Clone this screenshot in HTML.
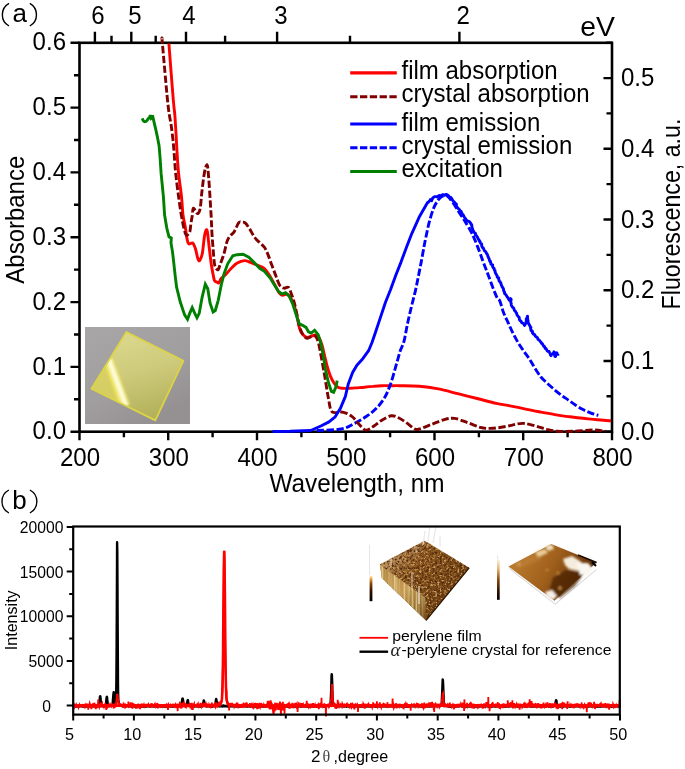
<!DOCTYPE html>
<html><head><meta charset="utf-8"><style>
html,body{margin:0;padding:0;background:#fff;}
svg{display:block;will-change:transform;}
text{font-family:"Liberation Sans",sans-serif;fill:#000;}
.t24{font-size:24px;}
.t16{font-size:16px;}
.t15{font-size:15px;}
</style></head><body>
<svg width="685" height="769" viewBox="0 0 685 769">
<defs>
<linearGradient id="gbg" x1="0" y1="0" x2="0.6" y2="1">
<stop offset="0" stop-color="#a9a6a8"/><stop offset="0.6" stop-color="#a19ea0"/><stop offset="1" stop-color="#959193"/></linearGradient>
<linearGradient id="gyel" x1="0.3" y1="0" x2="0.6" y2="1">
<stop offset="0" stop-color="#dcd88e"/><stop offset="0.45" stop-color="#cfcb7c"/><stop offset="1" stop-color="#b2b05a"/></linearGradient>
<linearGradient id="ghl" gradientUnits="userSpaceOnUse" x1="104.5" y1="363" x2="114" y2="359.5">
<stop offset="0" stop-color="#e6dc50"/><stop offset="0.35" stop-color="#fbf6b0"/><stop offset="0.55" stop-color="#ffffff"/><stop offset="0.8" stop-color="#f6ee80"/><stop offset="1" stop-color="#d8d060" stop-opacity="0.3"/></linearGradient>
<linearGradient id="cb1" x1="0" y1="0" x2="0" y2="1">
<stop offset="0" stop-color="#fff0c8"/><stop offset="0.12" stop-color="#e8a048"/><stop offset="0.3" stop-color="#8a4a10"/><stop offset="0.6" stop-color="#301000"/><stop offset="1" stop-color="#000"/></linearGradient>
<linearGradient id="cb2" x1="0" y1="0" x2="0" y2="1">
<stop offset="0" stop-color="#fbf2dc"/><stop offset="0.25" stop-color="#e0b070"/><stop offset="0.5" stop-color="#8a4a12"/><stop offset="0.8" stop-color="#2a1000"/><stop offset="1" stop-color="#000"/></linearGradient>
<linearGradient id="afm2g" gradientUnits="userSpaceOnUse" x1="520" y1="555" x2="585" y2="590">
<stop offset="0" stop-color="#b8782c"/><stop offset="0.45" stop-color="#a0601c"/><stop offset="0.75" stop-color="#7a4210"/><stop offset="1" stop-color="#4a2606"/></linearGradient>
<linearGradient id="wallg" gradientUnits="userSpaceOnUse" x1="380" y1="570" x2="425" y2="615">
<stop offset="0" stop-color="#b58a48"/><stop offset="0.5" stop-color="#c49a55"/><stop offset="1" stop-color="#7a5220"/></linearGradient>
<filter id="lite" x="0" y="0" width="100%" height="100%" color-interpolation-filters="sRGB">
<feTurbulence type="fractalNoise" baseFrequency="0.45" numOctaves="3" seed="5"/>
<feColorMatrix type="matrix" values="0 0 0 0 0.80  0 0 0 0 0.62  0 0 0 0 0.36  4.2 0 0 0 -2.2"/>
<feComposite in2="SourceGraphic" operator="in"/>
</filter>
<filter id="dark" x="0" y="0" width="100%" height="100%" color-interpolation-filters="sRGB">
<feTurbulence type="fractalNoise" baseFrequency="0.4" numOctaves="3" seed="9"/>
<feColorMatrix type="matrix" values="0 0 0 0 0.33  0 0 0 0 0.17  0 0 0 0 0.04  4.0 0 0 0 -1.8"/>
<feComposite in2="SourceGraphic" operator="in"/>
</filter>
<filter id="streak" x="0" y="0" width="100%" height="100%" color-interpolation-filters="sRGB">
<feTurbulence type="fractalNoise" baseFrequency="0.5 0.01" numOctaves="2" seed="4"/>
<feColorMatrix type="matrix" values="0 0 0 0 0.93  0 0 0 0 0.85  0 0 0 0 0.6  2.6 0 0 0 -1.1"/>
<feComposite in2="SourceGraphic" operator="in"/>
</filter>
<linearGradient id="top1" gradientUnits="userSpaceOnUse" x1="395" y1="550" x2="450" y2="600">
<stop offset="0" stop-color="#b89060"/><stop offset="0.35" stop-color="#8a5620"/><stop offset="1" stop-color="#6e4014"/></linearGradient>
<filter id="blur1"><feGaussianBlur stdDeviation="1"/></filter>
<filter id="blur2"><feGaussianBlur stdDeviation="1.1"/></filter>
</defs>
<clipPath id="sqclip"><path d="M126.4,332 L183.4,360.8 L155.3,420.4 L91.4,388.8 Z"/></clipPath>
<rect x="85" y="327" width="105" height="97" fill="url(#gbg)"/>
<path d="M126.4,332 L183.4,360.8 L155.3,420.4 L91.4,388.8 Z" fill="url(#gyel)"/>
<g clip-path="url(#sqclip)">
<path d="M91.4,388.8 L108,362 L124,407 Z" fill="#d8d060" opacity="0.8" filter="url(#blur1)"/>
<path d="M103.5,362.5 L114,356.5 L131,404 L120,409.5 Z" fill="url(#ghl)" filter="url(#blur1)"/>
</g>
<path d="M126.4,332 L183.4,360.8 L155.3,420.4 L91.4,388.8 Z" fill="none" stroke="#dcd444" stroke-width="1.8" stroke-linejoin="round"/>

<g stroke="#000" stroke-width="2.6" fill="none" stroke-linecap="square">
<rect x="79.5" y="42.8" width="532.5" height="388.9"/>
</g>
<path d="M79.5,431.7 V440.2 M168.2,431.7 V440.2 M257.0,431.7 V440.2 M345.8,431.7 V440.2 M434.5,431.7 V440.2 M523.2,431.7 V440.2 M612.0,431.7 V440.2 M123.9,431.7 V437.2 M212.6,431.7 V437.2 M301.4,431.7 V437.2 M390.1,431.7 V437.2 M478.9,431.7 V437.2 M567.6,431.7 V437.2 M79.5,431.7 H70.5 M79.5,366.9 H70.5 M79.5,302.1 H70.5 M79.5,237.2 H70.5 M79.5,172.4 H70.5 M79.5,107.6 H70.5 M79.5,42.8 H70.5 M79.5,399.3 H74.0 M79.5,334.5 H74.0 M79.5,269.6 H74.0 M79.5,204.8 H74.0 M79.5,140.0 H74.0 M79.5,75.2 H74.0 M612.0,431.7 H603.5 M612.0,361.0 H603.5 M612.0,290.2 H603.5 M612.0,219.5 H603.5 M612.0,148.8 H603.5 M612.0,78.1 H603.5 M612.0,396.3 H606.5 M612.0,325.6 H606.5 M612.0,254.9 H606.5 M612.0,184.1 H606.5 M612.0,113.4 H606.5 M612.0,42.7 H606.5 M94.9,42.8 V31.799999999999997 M131.3,42.8 V31.799999999999997 M186.0,42.8 V31.799999999999997 M277.1,42.8 V31.799999999999997 M459.4,42.8 V31.799999999999997 M111.5,42.8 V35.8 M155.7,42.8 V35.8 M225.1,42.8 V35.8 M350.0,42.8 V35.8" stroke="#000" stroke-width="2.4" fill="none"/>
<path d="M168.9,43.5 C169.6,52.9 172.3,88.2 173.3,100.0 C174.3,111.8 174.3,108.5 174.8,114.6 C175.3,120.7 175.8,130.6 176.2,136.5 C176.5,142.4 176.5,143.8 176.9,150.0 C177.3,156.2 177.8,165.6 178.6,173.4 C179.4,181.2 180.8,189.8 181.5,196.7 C182.2,203.6 182.4,210.1 183.0,215.0 C183.6,219.9 184.5,222.5 185.2,226.4 C185.9,230.3 186.4,235.7 187.0,238.6 C187.6,241.5 187.8,243.2 188.7,243.9 C189.6,244.6 191.6,242.3 192.7,243.0 C193.8,243.7 194.4,245.7 195.3,248.3 C196.2,250.9 197.2,256.8 197.9,258.8 C198.6,260.8 199.0,261.4 199.7,260.5 C200.4,259.6 201.5,257.6 202.3,253.5 C203.1,249.4 203.8,239.9 204.5,236.0 C205.2,232.1 205.7,230.5 206.2,229.9 C206.7,229.3 207.0,229.4 207.5,232.5 C208.0,235.6 208.6,242.8 209.3,248.3 C210.0,253.9 210.8,261.4 211.5,265.8 C212.2,270.2 212.7,272.5 213.2,275.0 C213.7,277.5 213.9,279.4 214.5,280.6 C215.1,281.8 216.0,281.6 216.7,282.0 C217.4,282.4 218.2,283.4 218.9,282.8 C219.6,282.2 220.0,279.8 221.1,278.4 C222.2,277.0 223.8,276.4 225.5,274.7 C227.2,273.0 229.4,270.1 231.3,268.2 C233.2,266.3 235.0,264.4 237.2,263.1 C239.4,261.8 242.3,260.7 244.5,260.6 C246.7,260.5 248.1,261.5 250.3,262.3 C252.5,263.1 255.3,264.3 257.6,265.3 C260.0,266.3 262.3,266.6 264.4,268.5 C266.5,270.4 268.5,273.8 270.2,276.5 C271.9,279.2 273.1,281.8 274.6,284.5 C276.1,287.2 277.7,290.8 279.0,292.6 C280.3,294.4 281.3,295.0 282.6,295.2 C283.9,295.4 285.6,293.6 287.0,294.0 C288.4,294.4 289.5,295.8 290.7,297.7 C291.9,299.6 293.2,302.4 294.3,305.7 C295.4,309.0 296.3,313.6 297.2,317.4 C298.1,321.2 298.7,325.7 299.6,328.5 C300.5,331.3 301.4,332.9 302.6,334.4 C303.8,335.9 305.5,337.0 307.0,337.3 C308.5,337.6 310.0,336.6 311.4,336.2 C312.8,335.8 314.1,334.8 315.4,335.0 C316.7,335.2 317.9,335.9 319.0,337.5 C320.1,339.1 320.9,341.6 321.9,344.8 C322.9,348.0 323.8,352.6 324.8,356.5 C325.8,360.4 326.7,364.8 327.7,368.2 C328.7,371.6 329.6,374.3 330.7,376.9 C331.8,379.4 333.1,381.8 334.3,383.5 C335.5,385.2 336.7,386.4 338.0,387.2 C339.3,388.0 340.6,388.1 342.3,388.3 C344.0,388.5 346.0,388.4 348.2,388.3 C350.4,388.2 352.8,388.1 355.5,387.9 C358.2,387.7 361.3,387.4 364.2,387.2 C367.1,386.9 370.1,386.6 373.0,386.4 C375.9,386.1 378.9,385.8 381.8,385.7 C384.7,385.6 387.5,385.7 390.5,385.7 C393.5,385.7 395.2,385.6 400.0,385.7 C404.8,385.8 412.9,385.8 419.3,386.3 C425.7,386.8 432.1,387.7 438.5,388.9 C444.9,390.1 451.4,392.1 457.8,393.7 C464.2,395.3 470.7,396.9 477.1,398.5 C483.5,400.1 490.8,402.2 496.3,403.4 C501.8,404.6 505.3,404.9 510.0,405.8 C514.7,406.7 519.7,407.8 524.6,408.8 C529.5,409.8 534.3,410.9 539.2,411.8 C544.1,412.7 548.9,413.6 553.8,414.4 C558.7,415.2 563.5,416.0 568.4,416.6 C573.3,417.2 578.1,417.8 583.0,418.3 C587.9,418.8 592.9,419.4 597.6,419.8 C602.3,420.2 608.8,420.6 611.0,420.8" stroke="#ff0000" stroke-width="2.9" fill="none" stroke-linejoin="round"/>
<path d="M316.8,430.5 C320.9,430.2 335.2,430.1 341.3,429.0 C347.4,427.9 349.5,425.9 353.6,423.9 C357.7,421.9 362.1,419.4 365.8,416.8 C369.6,414.2 373.0,411.8 376.1,408.6 C379.2,405.4 382.1,401.9 384.5,397.8 C386.9,393.7 388.8,388.9 390.5,384.2 C392.2,379.5 393.7,373.7 394.9,369.6 C396.1,365.5 396.9,362.4 397.8,359.4 C398.7,356.4 399.2,353.6 400.0,351.4 C400.8,349.2 401.6,347.9 402.3,346.0 C403.0,344.1 403.4,343.9 404.3,340.1 C405.2,336.3 406.4,328.9 407.6,323.3 C408.8,317.7 410.2,311.8 411.5,306.4 C412.8,301.0 414.2,296.0 415.4,290.8 C416.6,285.6 417.6,280.0 418.6,275.2 C419.6,270.4 420.3,266.7 421.2,262.1 C422.1,257.5 423.1,251.6 423.8,247.8 C424.5,244.0 424.6,243.3 425.5,239.1 C426.4,234.9 427.8,227.8 429.1,222.7 C430.5,217.5 432.1,212.0 433.6,208.2 C435.1,204.4 436.9,201.9 438.2,200.0 C439.5,198.1 440.3,197.5 441.5,196.8 C442.7,196.1 444.2,195.6 445.4,195.6 C446.6,195.6 447.6,196.3 448.5,197.0 C449.4,197.7 449.6,198.2 450.6,199.5 C451.6,200.8 453.2,203.1 454.5,205.0 C455.8,206.9 457.1,209.2 458.4,211.2 C459.6,213.2 460.8,215.0 462.0,216.8 C463.2,218.7 463.9,219.6 465.5,222.3 C467.1,225.0 469.8,229.3 471.8,233.2 C473.8,237.1 475.5,241.3 477.3,245.9 C479.1,250.5 480.9,255.7 482.7,260.5 C484.5,265.4 486.4,270.2 488.2,275.0 C490.0,279.8 492.1,285.8 493.6,289.5 C495.1,293.2 495.9,295.5 497.0,297.5 C498.1,299.5 498.9,298.8 500.0,301.3 C501.1,303.9 502.2,309.2 503.6,312.8 C505.0,316.4 506.7,319.5 508.2,322.8 C509.7,326.1 511.1,329.5 512.8,332.8 C514.5,336.1 516.4,339.8 518.2,342.8 C520.0,345.8 521.9,348.4 523.7,351.0 C525.5,353.6 527.2,355.7 529.1,358.5 C531.0,361.3 532.9,365.0 534.8,368.0 C536.7,371.0 538.8,374.3 540.7,376.7 C542.7,379.1 544.3,380.5 546.5,382.6 C548.7,384.7 551.4,387.0 553.8,389.1 C556.2,391.2 558.7,393.2 561.1,395.0 C563.5,396.8 566.0,398.4 568.4,400.1 C570.8,401.8 573.3,403.6 575.7,405.2 C578.1,406.8 580.6,408.3 583.0,409.6 C585.4,410.9 587.8,411.9 590.3,412.9 C592.8,413.9 597.0,415.0 598.3,415.4" stroke="#0000ff" stroke-width="2.9" fill="none" stroke-dasharray="7.3,2.5"/>
<path d="M162.1,39.6 C162.2,40.2 161.5,33.4 162.4,43.5 C163.3,53.6 166.3,88.2 167.5,100.0 C168.7,111.8 168.7,110.5 169.3,114.6 C169.9,118.7 170.6,121.1 171.1,124.8 C171.6,128.4 172.1,132.3 172.6,136.5 C173.1,140.7 173.4,143.8 173.9,150.0 C174.4,156.2 174.9,165.6 175.7,173.4 C176.5,181.2 177.7,189.8 178.6,196.7 C179.5,203.6 180.4,209.8 181.3,215.0 C182.2,220.2 183.1,224.8 183.9,228.1 C184.7,231.4 185.2,234.4 186.1,235.1 C187.0,235.8 188.8,234.4 189.6,232.5 C190.4,230.6 190.5,226.6 190.9,223.8 C191.3,221.0 191.8,218.5 192.2,215.9 C192.6,213.3 192.6,209.3 193.2,208.4 C193.8,207.5 194.7,209.8 195.5,210.7 C196.3,211.6 197.1,214.0 197.9,213.6 C198.7,213.2 199.5,212.2 200.2,208.4 C200.9,204.6 201.3,196.7 202.0,190.9 C202.7,185.1 203.5,177.8 204.3,173.4 C205.1,169.0 206.3,164.4 207.0,164.6 C207.7,164.8 208.0,170.1 208.4,174.5 C208.8,178.9 209.2,184.2 209.6,190.9 C210.0,197.7 210.7,208.1 211.1,215.0 C211.5,221.9 211.6,226.7 211.9,232.5 C212.2,238.3 212.8,244.8 213.2,250.0 C213.6,255.2 214.0,261.0 214.5,264.0 C215.0,267.0 215.4,267.3 216.0,268.2 C216.6,269.1 217.5,270.3 218.2,269.6 C218.9,268.9 219.4,266.5 220.4,263.8 C221.4,261.1 222.9,257.2 224.0,253.6 C225.1,249.9 225.9,244.8 226.9,241.9 C227.9,239.0 228.7,237.8 229.9,236.1 C231.1,234.4 232.8,233.9 234.2,231.7 C235.6,229.5 237.4,224.5 238.6,222.9 C239.8,221.3 240.4,222.2 241.5,222.2 C242.6,222.2 243.8,221.8 245.2,222.9 C246.5,224.0 248.0,226.4 249.6,228.8 C251.2,231.2 252.9,235.1 254.7,237.5 C256.5,239.9 258.5,241.4 260.2,243.1 C261.9,244.8 263.3,245.6 264.6,247.5 C265.9,249.4 266.8,251.7 268.0,254.6 C269.2,257.5 270.3,261.2 271.7,264.8 C273.1,268.4 274.8,273.1 276.1,276.5 C277.4,279.9 278.4,283.4 279.7,285.3 C281.0,287.2 282.6,287.9 284.1,288.2 C285.6,288.5 287.3,286.4 288.5,287.4 C289.7,288.4 290.4,291.4 291.4,294.0 C292.4,296.6 293.3,299.2 294.3,302.8 C295.3,306.4 296.4,312.0 297.2,315.9 C298.0,319.8 298.5,323.2 299.4,326.1 C300.2,329.0 301.1,331.4 302.3,333.4 C303.5,335.4 305.2,337.6 306.6,338.2 C308.0,338.8 309.4,337.1 310.9,336.8 C312.3,336.5 314.1,335.2 315.3,336.1 C316.5,337.0 317.2,338.5 318.2,341.9 C319.2,345.3 320.2,351.4 321.2,356.5 C322.2,361.6 323.2,367.7 324.1,372.6 C325.0,377.5 325.6,381.3 326.3,385.7 C327.0,390.1 327.7,394.6 328.5,398.8 C329.3,403.0 329.9,408.4 331.1,410.7 C332.3,413.0 334.4,412.5 335.8,412.7 C337.2,412.9 337.5,411.6 339.3,411.7 C341.1,411.8 344.6,412.6 346.7,413.4 C348.8,414.2 350.3,415.3 351.8,416.4 C353.3,417.5 354.2,418.6 355.5,420.0 C356.8,421.4 358.0,423.3 359.7,425.0 C361.4,426.7 363.4,429.9 365.8,430.1 C368.2,430.3 371.3,427.7 374.0,426.0 C376.7,424.3 379.3,421.6 382.2,419.9 C385.1,418.2 388.7,416.1 391.4,415.8 C394.1,415.5 395.9,416.6 398.5,417.8 C401.1,419.0 404.0,421.0 406.7,422.9 C409.4,424.8 412.8,428.0 414.9,429.0 C417.0,430.0 416.4,429.8 419.3,429.0 C422.2,428.2 427.8,425.8 432.1,424.2 C436.4,422.6 441.2,420.4 445.0,419.4 C448.8,418.4 450.9,417.9 454.6,418.4 C458.3,418.9 463.1,421.1 467.4,422.6 C471.7,424.1 476.6,426.4 480.3,427.4 C484.1,428.4 486.6,428.4 489.9,428.4 C493.2,428.4 496.6,428.0 500.0,427.5 C503.4,427.0 507.4,426.2 510.0,425.6 C512.6,425.1 513.6,424.6 515.8,424.2 C518.0,423.8 520.7,423.3 523.1,423.4 C525.5,423.5 527.7,424.0 530.4,424.6 C533.1,425.2 536.5,426.3 539.2,427.1 C541.9,427.9 543.5,428.6 546.5,429.3 C549.5,430.0 552.9,431.0 557.4,431.3 C561.9,431.6 567.5,431.5 573.4,431.3 C579.3,431.1 587.4,430.0 592.7,430.0 C598.1,430.0 603.4,431.1 605.5,431.3" stroke="#800000" stroke-width="2.9" fill="none" stroke-dasharray="7.3,2.5"/>
<path d="M272.6,431.5 L290.0,431.3 L310.7,430.5 L320.9,426.0 L329.0,421.9 L335.2,416.8 L340.3,408.6 L345.4,396.4 L348.2,384.2 L352.6,372.6 L356.9,365.3 L362.8,358.7 L368.6,350.7 L372.0,342.5 L375.0,333.8 L380.2,318.1 L385.4,302.5 L390.6,289.5 L395.8,275.2 L401.0,262.1 L406.3,247.8 L411.8,233.6 L419.1,217.3 L426.4,204.5 L427.9,202.1 L428.3,202.2 L429.0,201.4 L430.0,200.5 L430.3,199.6 L431.6,200.7 L432.8,197.9 L433.6,197.3 L434.7,196.6 L436.0,196.6 L437.5,197.0 L438.1,196.0 L439.3,195.5 L441.0,195.9 L442.6,194.6 L443.7,194.8 L444.6,195.3 L446.3,194.4 L447.7,195.0 L448.5,195.8 L449.5,197.4 L450.4,197.2 L451.4,198.1 L452.2,199.5 L453.0,200.9 L454.0,201.8 L455.4,203.3 L456.4,204.2 L456.3,206.0 L456.6,206.3 L457.3,207.5 L458.6,208.9 L459.5,209.6 L460.2,210.9 L460.0,212.1 L461.2,211.6 L462.1,213.9 L462.7,214.5 L463.2,214.9 L464.0,216.5 L464.6,217.6 L465.8,219.0 L466.2,219.6 L467.4,221.1 L468.5,221.3 L469.4,221.6 L470.5,223.0 L471.0,224.2 L471.1,224.4 L471.6,224.4 L472.0,226.9 L471.7,227.6 L472.5,228.5 L472.7,229.8 L472.8,229.9 L474.0,231.9 L473.6,231.9 L474.7,232.8 L475.5,233.4 L475.5,235.0 L476.3,235.5 L477.3,237.1 L477.5,237.2 L478.3,239.2 L479.3,240.5 L479.6,241.6 L480.0,241.5 L480.4,242.8 L480.6,243.3 L481.7,244.0 L481.6,245.6 L482.3,247.0 L482.7,247.7 L483.2,247.9 L484.4,250.7 L485.2,251.2 L486.1,252.4 L486.6,253.6 L487.4,254.5 L487.8,256.0 L488.0,256.6 L488.6,257.9 L489.1,258.6 L489.6,261.0 L490.5,261.4 L490.0,261.4 L490.9,262.9 L490.9,264.2 L492.0,264.6 L492.7,264.8 L492.5,266.1 L493.2,267.8 L494.1,268.3 L494.2,269.5 L494.8,270.7 L495.1,270.7 L495.1,271.8 L495.5,273.2 L496.4,274.5 L496.4,274.8 L497.1,275.6 L497.2,277.2 L498.7,277.8 L498.3,278.2 L499.0,279.8 L499.1,281.1 L500.2,281.8 L500.5,282.8 L500.9,282.9 L501.2,284.8 L501.6,285.5 L502.0,286.5 L502.7,287.7 L503.4,288.6 L503.6,290.3 L504.2,291.9 L504.5,292.0 L504.6,293.6 L505.6,294.4 L506.4,295.5 L507.3,297.1 L508.0,297.7 L508.3,298.6 L509.3,300.3 L510.6,298.6 L511.2,299.4 L510.8,301.0 L510.8,302.7 L511.3,303.7 L511.2,303.3 L511.3,304.9 L511.4,305.5 L512.4,307.1 L513.7,308.2 L514.3,310.2 L514.7,310.9 L515.2,310.9 L516.0,312.5 L516.4,312.8 L517.1,315.0 L517.7,315.8 L518.2,316.4 L519.2,317.5 L519.3,318.1 L519.4,319.6 L519.9,320.4 L520.9,321.0 L521.8,322.7 L522.8,323.2 L523.7,323.9 L524.6,325.5 L525.4,323.8 L526.0,322.8 L526.1,321.9 L526.3,320.9 L526.3,320.0 L526.2,319.1 L526.6,318.8 L527.5,316.2 L527.3,316.4 L527.5,317.2 L527.3,318.5 L527.6,318.2 L527.7,320.0 L528.0,320.3 L528.2,322.3 L528.2,322.8 L528.5,323.6 L529.4,324.9 L530.1,326.4 L530.9,327.4 L530.5,327.8 L531.0,330.4 L531.3,330.1 L531.8,330.9 L532.6,331.6 L532.3,332.8 L533.6,334.1 L534.6,334.6 L535.5,336.4 L536.9,337.3 L537.4,337.7 L538.1,339.5 L539.2,340.1 L540.2,341.4 L541.0,342.3 L541.4,343.3 L542.2,343.6 L542.8,344.6 L543.7,346.2 L544.3,346.2 L545.2,348.4 L545.6,348.2 L546.4,349.2 L547.2,350.8 L547.5,351.2 L549.1,351.5 L549.6,352.8 L550.5,354.0 L550.4,354.8 L551.0,355.6 L551.5,354.4 L552.8,353.8 L553.9,352.3 L554.0,351.8 L554.7,352.7 L554.6,353.6 L553.9,354.2 L554.7,354.8 L554.8,356.3 L555.6,356.5 L555.6,355.8 L556.1,353.7 L556.4,354.2 L556.9,352.8 L557.1,354.2 L557.9,354.7 L557.8,355.6" stroke="#0000ff" stroke-width="2.9" fill="none" stroke-linejoin="round"/>
<path d="M142.2,118.4 L143.2,120.6 L144.5,121.6 L146.0,121.3 L147.2,120.2 L148.5,118.4 L149.4,117.8 L150.3,115.2 L151.2,118.2 L151.8,117.6 L152.5,115.4 L153.3,118.8 L154.7,124.8 L156.2,131.4 L157.6,138.0 L159.1,146.0 L160.1,158.0 L161.1,173.4 L163.4,196.7 L164.6,215.0 L166.8,228.1 L169.0,236.9 L171.3,238.0 L171.0,243.0 L172.5,251.8 L173.8,263.2 L175.1,275.0 L176.6,287.2 L180.2,301.8 L184.6,314.9 L187.5,319.3 L189.7,313.4 L192.2,307.6 L194.8,313.4 L197.0,317.8 L199.2,313.4 L202.1,297.4 L205.3,284.2 L207.7,288.6 L210.1,303.2 L213.1,312.0 L215.3,310.5 L218.2,300.3 L221.1,285.7 L224.0,274.0 L227.7,263.8 L232.8,255.8 L237.2,254.7 L243.0,254.3 L248.8,257.2 L254.7,263.1 L260.0,268.5 L264.4,271.4 L270.2,278.0 L274.6,285.3 L278.2,291.1 L281.9,294.0 L285.5,292.6 L289.2,296.2 L292.8,304.2 L296.5,315.9 L299.4,323.9 L302.6,325.3 L306.0,327.4 L308.5,331.8 L311.2,333.0 L314.6,330.2 L318.2,334.6 L321.2,344.8 L323.4,356.5 L325.5,369.6 L328.5,382.8 L331.4,391.5 L333.6,392.3 L335.8,387.2 L337.2,380.6" stroke="#008000" stroke-width="2.9" fill="none" stroke-linejoin="miter" stroke-miterlimit="3"/>
<path d="M350.2,72.9 H396.8" stroke="#ff0000" stroke-width="3.1"/>
<text transform="translate(401.5,79) scale(0.935,1)" style="font-size:25.7px">film absorption</text>
<path d="M350.2,96.7 H396.8" stroke="#800000" stroke-width="3.1" stroke-dasharray="7.3,2.5"/>
<text transform="translate(401.5,102.3) scale(0.935,1)" style="font-size:25.7px">crystal absorption</text>
<path d="M350.2,124 H396.8" stroke="#0000ff" stroke-width="3.1"/>
<text transform="translate(401.5,130.5) scale(0.935,1)" style="font-size:25.7px">film emission</text>
<path d="M350.2,147.8 H396.8" stroke="#0000ff" stroke-width="3.1" stroke-dasharray="7.3,2.5"/>
<text transform="translate(401.5,153.5) scale(0.935,1)" style="font-size:25.7px">crystal emission</text>
<path d="M350.2,171.5 H396.8" stroke="#008000" stroke-width="3.1"/>
<text transform="translate(401.5,176.8) scale(0.935,1)" style="font-size:25.7px">excitation</text>
<text transform="translate(80.0,466) scale(0.935,1)" style="font-size:25.7px" text-anchor="middle">200</text>
<text transform="translate(168.8,466) scale(0.935,1)" style="font-size:25.7px" text-anchor="middle">300</text>
<text transform="translate(257.5,466) scale(0.935,1)" style="font-size:25.7px" text-anchor="middle">400</text>
<text transform="translate(346.2,466) scale(0.935,1)" style="font-size:25.7px" text-anchor="middle">500</text>
<text transform="translate(435.0,466) scale(0.935,1)" style="font-size:25.7px" text-anchor="middle">600</text>
<text transform="translate(523.8,466) scale(0.935,1)" style="font-size:25.7px" text-anchor="middle">700</text>
<text transform="translate(612.5,466) scale(0.935,1)" style="font-size:25.7px" text-anchor="middle">800</text>
<text transform="translate(66,439.3) scale(0.935,1)" style="font-size:25.7px" text-anchor="end">0.0</text>
<text transform="translate(66,374.5) scale(0.935,1)" style="font-size:25.7px" text-anchor="end">0.1</text>
<text transform="translate(66,309.7) scale(0.935,1)" style="font-size:25.7px" text-anchor="end">0.2</text>
<text transform="translate(66,244.8) scale(0.935,1)" style="font-size:25.7px" text-anchor="end">0.3</text>
<text transform="translate(66,180.0) scale(0.935,1)" style="font-size:25.7px" text-anchor="end">0.4</text>
<text transform="translate(66,115.2) scale(0.935,1)" style="font-size:25.7px" text-anchor="end">0.5</text>
<text transform="translate(66,50.4) scale(0.935,1)" style="font-size:25.7px" text-anchor="end">0.6</text>
<text transform="translate(621,439.7) scale(0.935,1)" style="font-size:25.7px">0.0</text>
<text transform="translate(621,369.0) scale(0.935,1)" style="font-size:25.7px">0.1</text>
<text transform="translate(621,298.2) scale(0.935,1)" style="font-size:25.7px">0.2</text>
<text transform="translate(621,227.5) scale(0.935,1)" style="font-size:25.7px">0.3</text>
<text transform="translate(621,156.8) scale(0.935,1)" style="font-size:25.7px">0.4</text>
<text transform="translate(621,86.1) scale(0.935,1)" style="font-size:25.7px">0.5</text>
<text transform="translate(98,23.8) scale(0.935,1)" style="font-size:25.7px" text-anchor="middle">6</text>
<text transform="translate(134.8,23.8) scale(0.935,1)" style="font-size:25.7px" text-anchor="middle">5</text>
<text transform="translate(189,23.8) scale(0.935,1)" style="font-size:25.7px" text-anchor="middle">4</text>
<text transform="translate(281,23.8) scale(0.935,1)" style="font-size:25.7px" text-anchor="middle">3</text>
<text transform="translate(463.2,23.8) scale(0.935,1)" style="font-size:25.7px" text-anchor="middle">2</text>
<text transform="translate(615,35.6) scale(1.05,1)" style="font-size:27px" text-anchor="end">eV</text>
<text transform="translate(357,492) scale(0.948,1)" style="font-size:25.7px" text-anchor="middle">Wavelength, nm</text>
<text transform="translate(24,219.7) rotate(-90) scale(0.905,1)" style="font-size:26.5px" text-anchor="middle">Absorbance</text>
<text transform="translate(680,214) rotate(-90) scale(0.91,1)" style="font-size:25.5px" text-anchor="middle">Fluorescence, a.u.</text>
<path d="M9,3.3 A13,13 0 0 0 9,26" stroke="#000" stroke-width="1.4" fill="none"/>
<path d="M29.8,3.3 A13,13 0 0 1 29.8,26" stroke="#000" stroke-width="1.4" fill="none"/>
<text x="12.5" y="22" style="font-size:26px">a</text>
<path d="M369.6,545 V575" stroke="#ddd" stroke-width="0.8"/>
<rect x="369.6" y="575.8" width="2.8" height="25.4" fill="url(#cb1)"/>
<polygon points="380.1,564.2 424.6,540.8 469.2,567.8 426.1,620.4 381.8,578" fill="url(#top1)"/>
<polygon points="380.1,564.2 424.6,540.8 469.2,567.8 426.1,620.4 381.8,578" fill="#000" filter="url(#dark)"/>
<polygon points="380.1,564.2 424.6,540.8 469.2,567.8 426.1,620.4 381.8,578" fill="#000" filter="url(#lite)"/>
<polygon points="380.1,565 425.4,597.8 426.1,620.4 381.8,578" fill="url(#wallg)"/>
<polygon points="380.1,565 425.4,597.8 426.1,620.4 381.8,578" fill="#000" filter="url(#streak)"/>
<path d="M469.2,567.8 L426.1,620.4" stroke="#2a1400" stroke-width="1.3"/>
<g stroke="#e8e6e4" stroke-width="1.3" opacity="0.9">
<path d="M428,541 L430,526"/><path d="M433,543 L436,526"/><path d="M423,545 L425,531"/><path d="M440,547 L440,536"/>
<path d="M412,572 L412,590" stroke-width="0.9"/><path d="M419,586 L419,604"/><path d="M391,559 L391,567" stroke-width="0.8"/><path d="M416,546 L416,553" stroke-width="0.8"/>
</g>
<path d="M497.6,555 V559" stroke="#ddd" stroke-width="0.8"/>
<rect x="497" y="559.5" width="2.7" height="40.3" fill="url(#cb2)"/>
<path d="M509.2,568.5 L555.2,604.2 L596.2,569.8" stroke="#bbb" stroke-width="0.7" fill="none"/>
<polygon points="508.4,566.4 551.3,544.1 596.6,562.5 554.4,600.8" fill="url(#afm2g)"/>
<g filter="url(#blur2)">
<polygon points="553,578 566,570 580,572 588,568 575,586 560,598 549,592" fill="#4a2406" opacity="0.75"/>
<polygon points="512,566 530,556 545,553 540,560 520,568" fill="#c08038" opacity="0.6"/>
<polygon points="563,559 572,556 580,561 585,566 578,571 569,569 565,565" fill="#f4ecdc"/>
<polygon points="576,563 588,563 593,569 588,576 580,575" fill="#faf6f0"/>
<polygon points="545,546 552,544.5 554,549 548,551" fill="#efe0c0"/>
<polygon points="535,552 545,549 548,553 538,557" fill="#e8cc98"/>
<polygon points="545,592 552,590 557,596 553,600 547,597" fill="#f6f0ea"/>
<circle cx="519" cy="564" r="1.6" fill="#d8a860"/>
<circle cx="558" cy="573" r="1.4" fill="#c88a40"/>
<circle cx="547" cy="570" r="1.3" fill="#c88a40"/>
<circle cx="560" cy="588" r="1.6" fill="#d09a50"/>
</g>
<path d="M578,555 L596.6,562.5" stroke="#1a0a00" stroke-width="1.4"/>
<path d="M592,562 L596,566" stroke="#000" stroke-width="2"/>
<path d="M73.2,705.7 L73.4,705.6 L73.6,705.9 L73.7,705.9 L73.9,706.3 L74.1,706.2 L74.3,706.5 L74.5,706.2 L74.7,705.9 L74.8,706.2 L75.0,706.5 L75.2,705.8 L75.4,705.7 L75.6,705.8 L75.8,706.5 L75.9,705.9 L76.1,706.3 L76.3,706.2 L76.5,706.0 L76.7,705.8 L76.8,706.3 L77.0,706.2 L77.2,706.4 L77.4,706.1 L77.6,706.4 L77.8,706.2 L77.9,706.0 L78.1,706.1 L78.3,706.1 L78.5,706.1 L78.7,706.0 L78.9,705.8 L79.0,706.4 L79.2,706.5 L79.4,706.0 L79.6,706.0 L79.8,705.8 L79.9,706.0 L80.1,705.7 L80.3,706.0 L80.5,706.3 L80.7,705.9 L80.9,706.3 L81.0,706.3 L81.2,706.0 L81.4,706.2 L81.6,705.9 L81.8,706.2 L82.0,705.7 L82.1,706.4 L82.3,706.0 L82.5,706.2 L82.7,705.8 L82.9,706.3 L83.0,706.0 L83.2,706.8 L83.4,706.3 L83.6,705.8 L83.8,706.1 L84.0,706.1 L84.1,705.9 L84.3,705.6 L84.5,706.4 L84.7,706.1 L84.9,706.2 L85.1,706.0 L85.2,706.3 L85.4,706.5 L85.6,706.5 L85.8,706.0 L86.0,706.1 L86.1,705.9 L86.3,706.5 L86.5,706.3 L86.7,706.2 L86.9,705.9 L87.1,706.0 L87.2,706.2 L87.4,706.3 L87.6,706.1 L87.8,706.2 L88.0,705.9 L88.1,705.7 L88.3,706.1 L88.5,706.4 L88.7,705.6 L88.9,706.0 L89.1,706.0 L89.2,706.1 L89.4,706.1 L89.6,706.1 L89.8,706.1 L90.0,706.4 L90.2,706.3 L90.3,706.1 L90.5,706.1 L90.7,706.1 L90.9,706.0 L91.1,706.5 L91.2,706.3 L91.4,706.3 L91.6,706.1 L91.8,706.1 L92.0,705.7 L92.2,706.2 L92.3,706.2 L92.5,706.4 L92.7,705.7 L92.9,706.1 L93.1,706.1 L93.3,706.2 L93.4,706.1 L93.6,706.2 L93.8,705.8 L94.0,706.3 L94.2,706.2 L94.3,706.2 L94.5,706.0 L94.7,706.0 L94.9,705.9 L95.1,706.0 L95.3,705.9 L95.4,706.1 L95.6,705.9 L95.8,706.0 L96.0,706.0 L96.2,706.4 L96.4,706.2 L96.5,706.2 L96.7,706.4 L96.9,705.7 L97.1,705.7 L97.3,705.8 L97.4,705.9 L97.6,705.6 L97.8,706.3 L98.0,705.6 L98.2,706.3 L98.4,705.8 L98.5,705.7 L98.7,705.4 L98.9,705.0 L99.1,704.4 L99.3,703.6 L99.5,702.1 L99.6,700.2 L99.8,698.0 L100.0,696.5 L100.2,696.2 L100.4,696.3 L100.5,698.5 L100.7,700.4 L100.9,702.3 L101.1,703.8 L101.3,704.5 L101.5,705.4 L101.6,705.9 L101.8,705.9 L102.0,706.0 L102.2,706.2 L102.4,705.7 L102.6,705.6 L102.7,706.2 L102.9,705.6 L103.1,705.5 L103.3,706.2 L103.5,705.8 L103.6,706.0 L103.8,705.7 L104.0,706.6 L104.2,705.8 L104.4,706.0 L104.6,705.8 L104.7,705.7 L104.9,706.4 L105.1,705.8 L105.3,705.7 L105.5,705.3 L105.7,704.8 L105.8,704.2 L106.0,703.4 L106.2,701.5 L106.4,700.0 L106.6,697.9 L106.7,696.9 L106.9,696.8 L107.1,697.7 L107.3,699.8 L107.5,701.4 L107.7,703.2 L107.8,703.9 L108.0,704.6 L108.2,705.7 L108.4,706.1 L108.6,705.6 L108.8,705.9 L108.9,706.0 L109.1,705.3 L109.3,705.9 L109.5,706.1 L109.7,705.9 L109.8,705.8 L110.0,705.5 L110.2,705.7 L110.4,706.1 L110.6,705.9 L110.8,705.3 L110.9,706.1 L111.1,705.7 L111.3,705.4 L111.5,705.6 L111.7,705.6 L111.8,705.7 L112.0,705.3 L112.2,705.0 L112.4,704.5 L112.6,703.5 L112.8,702.3 L112.9,700.1 L113.1,697.9 L113.3,695.2 L113.5,693.4 L113.7,692.1 L113.9,693.1 L114.0,695.3 L114.2,698.2 L114.4,700.1 L114.6,702.5 L114.8,703.0 L114.9,703.5 L115.1,703.9 L115.3,703.5 L115.5,703.0 L115.7,702.1 L115.9,701.3 L116.0,698.8 L116.2,692.2 L116.4,676.9 L116.6,649.7 L116.8,610.4 L117.0,568.1 L117.1,542.2 L117.3,551.5 L117.5,588.7 L117.7,631.3 L117.9,664.9 L118.0,685.6 L118.2,695.4 L118.4,700.3 L118.6,702.1 L118.8,702.9 L119.0,703.5 L119.1,704.3 L119.3,704.8 L119.5,705.0 L119.7,704.8 L119.9,704.9 L120.1,705.1 L120.2,705.1 L120.4,705.1 L120.6,705.6 L120.8,704.9 L121.0,705.0 L121.1,705.4 L121.3,705.7 L121.5,705.6 L121.7,706.0 L121.9,705.7 L122.1,706.0 L122.2,705.8 L122.4,705.9 L122.6,705.4 L122.8,706.1 L123.0,705.8 L123.2,706.0 L123.3,705.5 L123.5,705.7 L123.7,706.3 L123.9,706.2 L124.1,705.9 L124.2,706.1 L124.4,705.9 L124.6,706.0 L124.8,706.2 L125.0,706.1 L125.2,705.9 L125.3,706.0 L125.5,706.0 L125.7,705.9 L125.9,706.0 L126.1,705.7 L126.3,706.3 L126.4,705.9 L126.6,706.1 L126.8,705.9 L127.0,705.8 L127.2,705.9 L127.3,705.9 L127.5,705.9 L127.7,705.9 L127.9,706.1 L128.1,705.9 L128.3,705.8 L128.4,705.9 L128.6,706.0 L128.8,706.0 L129.0,706.5 L129.2,706.2 L129.4,706.1 L129.5,705.8 L129.7,705.8 L129.9,706.0 L130.1,706.3 L130.3,706.0 L130.4,705.9 L130.6,705.9 L130.8,706.2 L131.0,706.3 L131.2,706.3 L131.4,706.3 L131.5,705.9 L131.7,706.0 L131.9,705.6 L132.1,705.7 L132.3,705.9 L132.5,706.2 L132.6,705.9 L132.8,706.0 L133.0,706.4 L133.2,706.4 L133.4,706.3 L133.5,705.8 L133.7,706.2 L133.9,706.4 L134.1,706.1 L134.3,706.0 L134.5,706.4 L134.6,705.7 L134.8,706.3 L135.0,705.9 L135.2,705.9 L135.4,706.3 L135.6,706.1 L135.7,706.1 L135.9,706.2 L136.1,705.9 L136.3,706.1 L136.5,706.5 L136.6,706.1 L136.8,706.4 L137.0,706.2 L137.2,706.1 L137.4,706.1 L137.6,705.9 L137.7,706.1 L137.9,706.2 L138.1,705.7 L138.3,705.9 L138.5,706.1 L138.6,706.1 L138.8,706.2 L139.0,706.1 L139.2,706.3 L139.4,705.7 L139.6,705.8 L139.7,706.6 L139.9,706.3 L140.1,706.1 L140.3,706.3 L140.5,706.6 L140.7,706.0 L140.8,706.4 L141.0,706.0 L141.2,706.0 L141.4,705.8 L141.6,706.3 L141.7,705.7 L141.9,706.4 L142.1,705.8 L142.3,705.9 L142.5,706.0 L142.7,706.4 L142.8,705.8 L143.0,705.9 L143.2,706.5 L143.4,706.7 L143.6,706.3 L143.8,706.3 L143.9,706.0 L144.1,706.1 L144.3,706.0 L144.5,706.2 L144.7,705.9 L144.8,706.2 L145.0,706.5 L145.2,706.7 L145.4,706.0 L145.6,706.3 L145.8,706.5 L145.9,706.3 L146.1,706.2 L146.3,706.0 L146.5,706.6 L146.7,706.2 L146.9,706.0 L147.0,706.0 L147.2,705.9 L147.4,705.7 L147.6,706.3 L147.8,706.3 L147.9,705.9 L148.1,705.8 L148.3,706.0 L148.5,706.2 L148.7,706.4 L148.9,706.0 L149.0,706.0 L149.2,706.4 L149.4,706.2 L149.6,706.3 L149.8,706.0 L150.0,706.1 L150.1,705.8 L150.3,705.8 L150.5,706.0 L150.7,705.8 L150.9,705.9 L151.0,705.8 L151.2,706.2 L151.4,706.0 L151.6,705.7 L151.8,706.0 L152.0,706.2 L152.1,706.1 L152.3,705.6 L152.5,706.2 L152.7,706.2 L152.9,705.9 L153.1,706.2 L153.2,706.5 L153.4,706.5 L153.6,706.1 L153.8,706.2 L154.0,705.8 L154.1,706.2 L154.3,706.4 L154.5,706.3 L154.7,706.4 L154.9,705.8 L155.1,706.3 L155.2,705.8 L155.4,706.0 L155.6,705.6 L155.8,706.1 L156.0,705.9 L156.2,706.6 L156.3,706.2 L156.5,706.3 L156.7,705.8 L156.9,706.1 L157.1,706.0 L157.2,706.3 L157.4,706.4 L157.6,706.1 L157.8,705.8 L158.0,706.1 L158.2,705.7 L158.3,706.2 L158.5,706.2 L158.7,706.2 L158.9,706.2 L159.1,706.3 L159.3,706.2 L159.4,706.3 L159.6,706.3 L159.8,705.8 L160.0,705.9 L160.2,706.2 L160.3,706.2 L160.5,706.5 L160.7,706.0 L160.9,706.3 L161.1,705.7 L161.3,706.5 L161.4,706.0 L161.6,705.8 L161.8,706.2 L162.0,705.6 L162.2,705.9 L162.3,705.9 L162.5,706.3 L162.7,705.9 L162.9,705.9 L163.1,706.1 L163.3,705.7 L163.4,706.0 L163.6,706.6 L163.8,706.0 L164.0,705.7 L164.2,706.2 L164.4,705.9 L164.5,706.2 L164.7,706.1 L164.9,706.7 L165.1,706.5 L165.3,706.2 L165.4,706.2 L165.6,706.5 L165.8,705.9 L166.0,706.0 L166.2,706.3 L166.4,706.6 L166.5,706.0 L166.7,706.2 L166.9,705.9 L167.1,705.8 L167.3,706.2 L167.5,706.2 L167.6,705.9 L167.8,706.2 L168.0,706.6 L168.2,706.0 L168.4,706.0 L168.5,706.2 L168.7,706.0 L168.9,706.2 L169.1,706.2 L169.3,705.9 L169.5,706.4 L169.6,706.5 L169.8,706.2 L170.0,706.4 L170.2,705.9 L170.4,706.3 L170.6,706.5 L170.7,706.2 L170.9,706.6 L171.1,705.8 L171.3,706.1 L171.5,706.0 L171.6,706.0 L171.8,706.1 L172.0,706.4 L172.2,705.9 L172.4,706.2 L172.6,706.3 L172.7,706.6 L172.9,705.8 L173.1,706.2 L173.3,706.2 L173.5,706.6 L173.7,705.9 L173.8,706.1 L174.0,705.9 L174.2,706.1 L174.4,706.3 L174.6,706.0 L174.7,706.5 L174.9,706.5 L175.1,706.1 L175.3,705.9 L175.5,705.9 L175.7,706.1 L175.8,706.1 L176.0,706.1 L176.2,706.2 L176.4,706.2 L176.6,706.0 L176.8,706.2 L176.9,706.2 L177.1,705.8 L177.3,706.0 L177.5,706.2 L177.7,705.9 L177.8,706.1 L178.0,705.9 L178.2,706.3 L178.4,706.3 L178.6,706.4 L178.8,705.8 L178.9,705.8 L179.1,705.8 L179.3,706.0 L179.5,706.0 L179.7,706.1 L179.9,705.9 L180.0,706.1 L180.2,706.2 L180.4,705.8 L180.6,705.7 L180.8,705.8 L180.9,705.8 L181.1,705.7 L181.3,705.3 L181.5,704.7 L181.7,704.2 L181.9,702.8 L182.0,701.4 L182.2,699.3 L182.4,698.7 L182.6,698.4 L182.8,699.0 L183.0,700.2 L183.1,702.0 L183.3,702.8 L183.5,704.1 L183.7,705.6 L183.9,705.4 L184.0,705.6 L184.2,706.1 L184.4,705.9 L184.6,705.9 L184.8,706.1 L185.0,706.0 L185.1,705.9 L185.3,706.1 L185.5,706.0 L185.7,706.2 L185.9,705.8 L186.1,706.0 L186.2,705.5 L186.4,705.2 L186.6,705.0 L186.8,705.0 L187.0,704.0 L187.1,703.1 L187.3,701.7 L187.5,700.9 L187.7,700.2 L187.9,700.0 L188.1,700.9 L188.2,701.7 L188.4,703.0 L188.6,704.1 L188.8,705.0 L189.0,705.5 L189.1,705.5 L189.3,705.8 L189.5,705.9 L189.7,705.6 L189.9,706.0 L190.1,706.1 L190.2,706.1 L190.4,705.8 L190.6,706.2 L190.8,706.2 L191.0,705.8 L191.2,705.8 L191.3,705.8 L191.5,706.3 L191.7,706.0 L191.9,706.2 L192.1,706.0 L192.2,706.5 L192.4,706.1 L192.6,705.9 L192.8,706.1 L193.0,706.6 L193.2,705.9 L193.3,706.0 L193.5,706.2 L193.7,706.1 L193.9,706.2 L194.1,705.9 L194.3,706.1 L194.4,706.5 L194.6,706.3 L194.8,705.7 L195.0,705.9 L195.2,705.9 L195.3,706.3 L195.5,706.0 L195.7,705.9 L195.9,706.1 L196.1,705.9 L196.3,705.9 L196.4,705.9 L196.6,706.0 L196.8,706.0 L197.0,706.4 L197.2,706.2 L197.4,705.9 L197.5,705.7 L197.7,706.1 L197.9,705.9 L198.1,706.1 L198.3,706.3 L198.4,706.0 L198.6,706.0 L198.8,706.3 L199.0,706.3 L199.2,706.1 L199.4,706.2 L199.5,706.0 L199.7,706.4 L199.9,705.9 L200.1,706.2 L200.3,706.0 L200.5,706.4 L200.6,705.9 L200.8,706.0 L201.0,705.6 L201.2,706.4 L201.4,706.5 L201.5,705.9 L201.7,705.8 L201.9,706.4 L202.1,705.8 L202.3,705.7 L202.5,705.4 L202.6,705.4 L202.8,705.3 L203.0,704.7 L203.2,702.8 L203.4,702.0 L203.6,700.8 L203.7,700.5 L203.9,700.5 L204.1,701.2 L204.3,702.5 L204.5,703.5 L204.6,704.6 L204.8,705.1 L205.0,705.2 L205.2,705.7 L205.4,706.0 L205.6,705.6 L205.7,705.7 L205.9,706.0 L206.1,706.4 L206.3,705.8 L206.5,705.8 L206.7,706.2 L206.8,705.7 L207.0,706.3 L207.2,706.1 L207.4,706.2 L207.6,706.0 L207.7,706.1 L207.9,705.8 L208.1,706.2 L208.3,706.0 L208.5,706.1 L208.7,706.0 L208.8,706.3 L209.0,706.1 L209.2,705.8 L209.4,705.9 L209.6,706.4 L209.8,706.2 L209.9,706.3 L210.1,706.3 L210.3,706.2 L210.5,706.4 L210.7,706.0 L210.8,705.9 L211.0,706.1 L211.2,706.2 L211.4,706.1 L211.6,706.3 L211.8,705.9 L211.9,705.6 L212.1,706.7 L212.3,706.0 L212.5,706.1 L212.7,706.0 L212.9,706.1 L213.0,706.4 L213.2,706.1 L213.4,706.1 L213.6,706.1 L213.8,706.0 L213.9,706.1 L214.1,705.5 L214.3,706.2 L214.5,706.0 L214.7,706.1 L214.9,705.7 L215.0,704.9 L215.2,704.7 L215.4,704.0 L215.6,702.9 L215.8,701.0 L215.9,700.0 L216.1,698.9 L216.3,699.3 L216.5,700.2 L216.7,701.4 L216.9,703.2 L217.0,703.7 L217.2,705.1 L217.4,705.3 L217.6,705.6 L217.8,705.3 L218.0,705.8 L218.1,705.8 L218.3,706.1 L218.5,706.1 L218.7,706.0 L218.9,705.8 L219.0,706.3 L219.2,706.0 L219.4,705.4 L219.6,706.3 L219.8,706.5 L220.0,706.2 L220.1,706.1 L220.3,705.7 L220.5,706.0 L220.7,705.8 L220.9,706.3 L221.1,706.1 L221.2,706.0 L221.4,706.3 L221.6,706.0 L221.8,706.2 L222.0,706.1 L222.1,706.4 L222.3,706.6 L222.5,705.8 L222.7,706.1 L222.9,706.1 L223.1,705.5 L223.2,705.9 L223.4,706.0 L223.6,706.3 L223.8,706.0 L224.0,706.1 L224.2,706.2 L224.3,705.8 L224.5,705.9 L224.7,706.0 L224.9,706.3 L225.1,706.3 L225.2,705.9 L225.4,706.1 L225.6,706.2 L225.8,706.0 L226.0,706.1 L226.2,706.2 L226.3,706.2 L226.5,705.9 L226.7,706.0 L226.9,706.3 L227.1,706.3 L227.3,706.0 L227.4,706.3 L227.6,706.1 L227.8,706.1 L228.0,706.4 L228.2,706.7 L228.3,706.3 L228.5,706.1 L228.7,706.1 L228.9,705.8 L229.1,706.1 L229.3,706.1 L229.4,706.0 L229.6,706.2 L229.8,705.7 L230.0,706.2 L230.2,706.3 L230.4,706.2 L230.5,705.9 L230.7,706.2 L230.9,706.3 L231.1,706.0 L231.3,705.9 L231.4,706.2 L231.6,706.0 L231.8,706.3 L232.0,705.8 L232.2,706.4 L232.4,706.2 L232.5,706.2 L232.7,706.3 L232.9,706.1 L233.1,706.0 L233.3,706.3 L233.5,705.7 L233.6,706.1 L233.8,706.1 L234.0,706.3 L234.2,706.1 L234.4,705.9 L234.5,706.4 L234.7,706.3 L234.9,706.3 L235.1,706.4 L235.3,706.0 L235.5,706.3 L235.6,705.8 L235.8,706.4 L236.0,706.2 L236.2,706.1 L236.4,706.4 L236.6,706.6 L236.7,706.3 L236.9,706.1 L237.1,706.3 L237.3,706.1 L237.5,706.5 L237.6,706.1 L237.8,705.7 L238.0,705.9 L238.2,705.9 L238.4,706.2 L238.6,706.2 L238.7,705.9 L238.9,706.2 L239.1,706.0 L239.3,706.4 L239.5,706.0 L239.6,706.1 L239.8,706.6 L240.0,706.2 L240.2,706.0 L240.4,706.0 L240.6,706.0 L240.7,705.8 L240.9,706.1 L241.1,706.3 L241.3,705.9 L241.5,705.7 L241.7,706.2 L241.8,705.8 L242.0,706.2 L242.2,706.5 L242.4,706.3 L242.6,706.3 L242.7,705.9 L242.9,706.1 L243.1,706.3 L243.3,706.1 L243.5,705.8 L243.7,706.2 L243.8,706.3 L244.0,706.1 L244.2,706.3 L244.4,706.0 L244.6,705.9 L244.8,706.1 L244.9,706.2 L245.1,706.1 L245.3,706.5 L245.5,705.8 L245.7,705.6 L245.8,706.1 L246.0,706.6 L246.2,706.3 L246.4,706.5 L246.6,706.6 L246.8,706.2 L246.9,706.2 L247.1,706.3 L247.3,705.9 L247.5,706.1 L247.7,706.4 L247.9,706.0 L248.0,706.4 L248.2,706.2 L248.4,706.3 L248.6,706.1 L248.8,706.2 L248.9,706.3 L249.1,706.1 L249.3,706.0 L249.5,706.1 L249.7,705.9 L249.9,706.4 L250.0,706.0 L250.2,705.8 L250.4,706.1 L250.6,706.6 L250.8,705.9 L251.0,706.2 L251.1,706.0 L251.3,706.1 L251.5,706.0 L251.7,705.9 L251.9,706.1 L252.0,706.0 L252.2,706.4 L252.4,706.3 L252.6,706.2 L252.8,705.8 L253.0,706.3 L253.1,706.2 L253.3,706.0 L253.5,706.3 L253.7,706.4 L253.9,706.6 L254.1,706.0 L254.2,706.4 L254.4,706.1 L254.6,706.0 L254.8,706.4 L255.0,706.0 L255.1,706.6 L255.3,706.2 L255.5,706.4 L255.7,706.1 L255.9,706.1 L256.1,706.1 L256.2,706.0 L256.4,706.3 L256.6,706.5 L256.8,706.4 L257.0,705.9 L257.2,706.4 L257.3,706.2 L257.5,706.1 L257.7,706.2 L257.9,706.4 L258.1,706.6 L258.2,705.9 L258.4,706.3 L258.6,706.5 L258.8,706.3 L259.0,706.1 L259.2,706.6 L259.3,706.1 L259.5,706.1 L259.7,706.0 L259.9,706.1 L260.1,706.4 L260.3,706.5 L260.4,706.2 L260.6,706.3 L260.8,705.8 L261.0,706.2 L261.2,706.0 L261.3,706.1 L261.5,706.5 L261.7,706.0 L261.9,706.2 L262.1,706.5 L262.3,706.0 L262.4,705.9 L262.6,706.2 L262.8,706.2 L263.0,706.3 L263.2,706.2 L263.4,705.9 L263.5,706.1 L263.7,706.0 L263.9,706.0 L264.1,706.8 L264.3,706.1 L264.4,706.0 L264.6,706.1 L264.8,706.5 L265.0,706.3 L265.2,706.0 L265.4,706.0 L265.5,706.0 L265.7,706.4 L265.9,706.1 L266.1,705.8 L266.3,706.1 L266.4,705.8 L266.6,705.9 L266.8,706.0 L267.0,706.3 L267.2,706.3 L267.4,706.3 L267.5,705.9 L267.7,705.9 L267.9,706.4 L268.1,706.4 L268.3,706.1 L268.5,705.8 L268.6,706.1 L268.8,706.0 L269.0,706.0 L269.2,706.0 L269.4,706.2 L269.5,706.0 L269.7,706.0 L269.9,706.2 L270.1,705.8 L270.3,706.4 L270.5,706.2 L270.6,706.3 L270.8,705.9 L271.0,705.9 L271.2,706.3 L271.4,706.1 L271.6,706.2 L271.7,706.4 L271.9,706.3 L272.1,706.1 L272.3,706.0 L272.5,706.3 L272.6,706.1 L272.8,706.0 L273.0,705.8 L273.2,706.1 L273.4,706.3 L273.6,706.5 L273.7,706.1 L273.9,706.2 L274.1,706.3 L274.3,706.3 L274.5,706.3 L274.7,706.1 L274.8,706.0 L275.0,706.3 L275.2,705.7 L275.4,705.8 L275.6,706.2 L275.7,706.1 L275.9,705.8 L276.1,706.3 L276.3,706.3 L276.5,706.3 L276.7,706.4 L276.8,706.0 L277.0,706.2 L277.2,706.1 L277.4,706.1 L277.6,706.2 L277.8,705.8 L277.9,706.2 L278.1,706.3 L278.3,706.4 L278.5,706.3 L278.7,706.1 L278.8,706.1 L279.0,706.1 L279.2,706.2 L279.4,706.0 L279.6,706.0 L279.8,706.4 L279.9,706.0 L280.1,706.0 L280.3,706.2 L280.5,705.9 L280.7,706.1 L280.9,706.3 L281.0,705.9 L281.2,705.7 L281.4,706.4 L281.6,706.2 L281.8,705.9 L281.9,706.0 L282.1,705.9 L282.3,705.8 L282.5,706.5 L282.7,706.0 L282.9,706.5 L283.0,706.3 L283.2,706.4 L283.4,706.0 L283.6,706.5 L283.8,706.1 L284.0,706.5 L284.1,705.7 L284.3,706.3 L284.5,706.1 L284.7,706.4 L284.9,706.3 L285.0,705.8 L285.2,706.1 L285.4,706.4 L285.6,706.2 L285.8,706.2 L286.0,705.7 L286.1,706.2 L286.3,706.0 L286.5,705.9 L286.7,705.6 L286.9,706.0 L287.1,706.4 L287.2,706.4 L287.4,705.8 L287.6,706.0 L287.8,706.6 L288.0,706.2 L288.1,706.2 L288.3,706.2 L288.5,706.0 L288.7,706.0 L288.9,705.8 L289.1,706.6 L289.2,706.1 L289.4,706.2 L289.6,706.4 L289.8,705.9 L290.0,706.4 L290.1,706.4 L290.3,705.8 L290.5,706.0 L290.7,706.0 L290.9,705.8 L291.1,706.4 L291.2,705.8 L291.4,706.1 L291.6,706.0 L291.8,706.0 L292.0,706.0 L292.2,706.2 L292.3,706.1 L292.5,706.1 L292.7,705.9 L292.9,706.6 L293.1,705.8 L293.2,706.3 L293.4,705.6 L293.6,706.0 L293.8,705.7 L294.0,706.2 L294.2,705.7 L294.3,706.0 L294.5,706.0 L294.7,706.0 L294.9,706.7 L295.1,706.5 L295.3,706.5 L295.4,706.1 L295.6,706.2 L295.8,705.9 L296.0,706.1 L296.2,705.9 L296.3,706.3 L296.5,706.1 L296.7,706.2 L296.9,706.4 L297.1,706.5 L297.3,706.2 L297.4,706.3 L297.6,706.3 L297.8,706.3 L298.0,706.4 L298.2,705.5 L298.4,706.1 L298.5,706.4 L298.7,706.2 L298.9,706.1 L299.1,706.5 L299.3,705.9 L299.4,706.3 L299.6,706.0 L299.8,706.2 L300.0,706.3 L300.2,705.4 L300.4,706.3 L300.5,706.5 L300.7,706.3 L300.9,706.4 L301.1,705.9 L301.3,706.0 L301.5,706.4 L301.6,705.7 L301.8,706.2 L302.0,706.4 L302.2,705.9 L302.4,706.0 L302.5,706.4 L302.7,706.4 L302.9,706.2 L303.1,706.3 L303.3,706.0 L303.5,706.1 L303.6,706.4 L303.8,706.4 L304.0,706.2 L304.2,705.9 L304.4,706.3 L304.6,706.0 L304.7,706.3 L304.9,706.0 L305.1,706.3 L305.3,706.0 L305.5,706.3 L305.6,706.3 L305.8,705.7 L306.0,705.9 L306.2,706.4 L306.4,705.9 L306.6,706.2 L306.7,705.8 L306.9,706.4 L307.1,706.2 L307.3,706.2 L307.5,706.3 L307.7,706.4 L307.8,705.7 L308.0,706.1 L308.2,706.2 L308.4,706.5 L308.6,705.9 L308.7,705.9 L308.9,706.2 L309.1,706.5 L309.3,706.0 L309.5,706.1 L309.7,706.5 L309.8,705.7 L310.0,706.0 L310.2,706.4 L310.4,706.3 L310.6,706.0 L310.8,705.9 L310.9,706.0 L311.1,706.0 L311.3,706.2 L311.5,705.7 L311.7,706.2 L311.8,706.1 L312.0,706.0 L312.2,706.2 L312.4,706.0 L312.6,705.8 L312.8,706.6 L312.9,706.2 L313.1,705.8 L313.3,705.8 L313.5,706.2 L313.7,706.0 L313.9,706.1 L314.0,706.1 L314.2,706.3 L314.4,705.9 L314.6,705.9 L314.8,705.8 L314.9,706.1 L315.1,706.1 L315.3,705.9 L315.5,705.4 L315.7,706.2 L315.9,706.1 L316.0,705.7 L316.2,706.4 L316.4,706.7 L316.6,705.9 L316.8,705.8 L316.9,705.8 L317.1,705.9 L317.3,705.9 L317.5,706.3 L317.7,705.9 L317.9,706.3 L318.0,706.5 L318.2,706.2 L318.4,706.4 L318.6,706.4 L318.8,706.3 L319.0,706.2 L319.1,706.1 L319.3,706.3 L319.5,706.2 L319.7,706.1 L319.9,706.1 L320.0,706.0 L320.2,705.9 L320.4,706.1 L320.6,706.0 L320.8,706.0 L321.0,706.1 L321.1,706.1 L321.3,706.3 L321.5,706.1 L321.7,705.9 L321.9,706.3 L322.1,705.8 L322.2,706.2 L322.4,705.9 L322.6,705.7 L322.8,706.0 L323.0,706.2 L323.1,706.0 L323.3,706.2 L323.5,706.3 L323.7,705.9 L323.9,706.5 L324.1,705.9 L324.2,706.3 L324.4,705.9 L324.6,706.2 L324.8,705.7 L325.0,706.2 L325.2,706.6 L325.3,705.4 L325.5,706.1 L325.7,706.1 L325.9,706.1 L326.1,706.1 L326.2,706.0 L326.4,706.2 L326.6,705.5 L326.8,706.2 L327.0,705.9 L327.2,705.7 L327.3,706.0 L327.5,705.8 L327.7,706.1 L327.9,706.2 L328.1,706.1 L328.3,705.7 L328.4,705.7 L328.6,706.1 L328.8,705.6 L329.0,706.0 L329.2,705.7 L329.3,705.5 L329.5,706.1 L329.7,705.4 L329.9,705.4 L330.1,705.4 L330.3,704.4 L330.4,703.6 L330.6,701.8 L330.8,699.0 L331.0,694.7 L331.2,689.1 L331.4,682.5 L331.5,677.1 L331.7,674.2 L331.9,675.3 L332.1,679.9 L332.3,686.2 L332.4,692.4 L332.6,697.4 L332.8,700.7 L333.0,702.8 L333.2,704.4 L333.4,705.0 L333.5,705.5 L333.7,705.5 L333.9,705.7 L334.1,705.2 L334.3,705.4 L334.5,706.1 L334.6,705.6 L334.8,705.9 L335.0,706.3 L335.2,705.9 L335.4,706.1 L335.5,705.9 L335.7,705.9 L335.9,706.1 L336.1,705.7 L336.3,706.0 L336.5,706.2 L336.6,706.4 L336.8,705.5 L337.0,706.2 L337.2,706.0 L337.4,706.0 L337.6,705.9 L337.7,706.4 L337.9,706.6 L338.1,706.1 L338.3,706.4 L338.5,706.1 L338.6,705.6 L338.8,706.2 L339.0,705.9 L339.2,706.3 L339.4,705.4 L339.6,706.2 L339.7,706.0 L339.9,706.1 L340.1,706.2 L340.3,705.9 L340.5,706.2 L340.6,706.3 L340.8,706.2 L341.0,706.2 L341.2,706.1 L341.4,706.1 L341.6,706.3 L341.7,706.2 L341.9,705.7 L342.1,706.2 L342.3,705.8 L342.5,706.2 L342.7,706.0 L342.8,706.3 L343.0,706.6 L343.2,706.3 L343.4,705.9 L343.6,705.8 L343.7,705.9 L343.9,706.3 L344.1,706.2 L344.3,706.4 L344.5,706.1 L344.7,706.0 L344.8,706.1 L345.0,706.3 L345.2,706.1 L345.4,706.1 L345.6,706.0 L345.8,706.2 L345.9,706.1 L346.1,706.3 L346.3,706.3 L346.5,706.7 L346.7,706.1 L346.8,706.1 L347.0,706.4 L347.2,705.8 L347.4,705.9 L347.6,705.8 L347.8,706.2 L347.9,706.2 L348.1,706.1 L348.3,705.9 L348.5,705.8 L348.7,706.4 L348.9,706.2 L349.0,706.6 L349.2,706.2 L349.4,705.9 L349.6,706.0 L349.8,705.6 L349.9,706.0 L350.1,706.2 L350.3,706.3 L350.5,706.1 L350.7,705.8 L350.9,706.4 L351.0,706.4 L351.2,706.1 L351.4,706.2 L351.6,705.9 L351.8,706.2 L352.0,706.1 L352.1,706.1 L352.3,706.1 L352.5,705.8 L352.7,706.4 L352.9,706.5 L353.0,706.5 L353.2,706.2 L353.4,706.1 L353.6,706.0 L353.8,706.1 L354.0,706.1 L354.1,706.5 L354.3,706.3 L354.5,706.0 L354.7,706.4 L354.9,706.3 L355.1,706.2 L355.2,706.0 L355.4,706.3 L355.6,706.5 L355.8,706.2 L356.0,706.2 L356.1,706.0 L356.3,706.3 L356.5,706.2 L356.7,706.3 L356.9,706.3 L357.1,705.7 L357.2,706.7 L357.4,706.0 L357.6,706.3 L357.8,706.1 L358.0,706.5 L358.2,706.1 L358.3,706.3 L358.5,706.0 L358.7,705.8 L358.9,706.4 L359.1,706.5 L359.2,705.9 L359.4,705.7 L359.6,706.1 L359.8,706.6 L360.0,706.5 L360.2,705.9 L360.3,705.7 L360.5,706.2 L360.7,706.5 L360.9,705.9 L361.1,706.5 L361.3,706.3 L361.4,706.3 L361.6,706.3 L361.8,706.0 L362.0,706.4 L362.2,706.1 L362.3,705.9 L362.5,705.9 L362.7,705.8 L362.9,706.2 L363.1,706.5 L363.3,706.1 L363.4,706.1 L363.6,706.1 L363.8,706.2 L364.0,706.0 L364.2,706.4 L364.4,706.0 L364.5,705.7 L364.7,706.1 L364.9,706.1 L365.1,706.0 L365.3,706.0 L365.4,706.0 L365.6,706.1 L365.8,706.2 L366.0,705.8 L366.2,706.4 L366.4,705.9 L366.5,706.3 L366.7,706.0 L366.9,706.4 L367.1,706.5 L367.3,706.4 L367.4,706.4 L367.6,705.8 L367.8,706.3 L368.0,706.3 L368.2,706.4 L368.4,706.2 L368.5,706.2 L368.7,706.0 L368.9,706.3 L369.1,706.4 L369.3,706.2 L369.5,705.9 L369.6,706.0 L369.8,706.4 L370.0,706.3 L370.2,706.1 L370.4,706.3 L370.5,706.5 L370.7,706.1 L370.9,706.2 L371.1,706.1 L371.3,706.0 L371.5,706.3 L371.6,706.4 L371.8,706.3 L372.0,706.0 L372.2,706.1 L372.4,706.0 L372.6,706.2 L372.7,706.0 L372.9,706.3 L373.1,706.3 L373.3,706.1 L373.5,706.2 L373.6,706.2 L373.8,706.1 L374.0,705.9 L374.2,706.3 L374.4,706.5 L374.6,706.1 L374.7,705.7 L374.9,705.9 L375.1,706.4 L375.3,706.0 L375.5,705.9 L375.7,705.9 L375.8,705.7 L376.0,706.0 L376.2,706.8 L376.4,706.0 L376.6,706.3 L376.7,706.4 L376.9,706.5 L377.1,706.4 L377.3,706.2 L377.5,705.9 L377.7,705.9 L377.8,706.0 L378.0,705.9 L378.2,706.2 L378.4,706.3 L378.6,705.7 L378.8,706.0 L378.9,706.2 L379.1,706.0 L379.3,706.3 L379.5,705.8 L379.7,706.4 L379.8,706.3 L380.0,706.2 L380.2,706.2 L380.4,706.4 L380.6,705.9 L380.8,706.0 L380.9,706.1 L381.1,706.0 L381.3,706.2 L381.5,705.9 L381.7,706.3 L381.9,706.4 L382.0,706.2 L382.2,706.2 L382.4,706.1 L382.6,706.0 L382.8,705.8 L382.9,706.4 L383.1,706.5 L383.3,706.1 L383.5,705.8 L383.7,705.9 L383.9,706.2 L384.0,706.2 L384.2,706.2 L384.4,705.7 L384.6,706.2 L384.8,706.1 L385.0,706.4 L385.1,705.9 L385.3,706.2 L385.5,706.2 L385.7,706.2 L385.9,706.2 L386.0,705.5 L386.2,706.0 L386.4,706.0 L386.6,706.3 L386.8,706.5 L387.0,706.6 L387.1,706.3 L387.3,706.1 L387.5,706.1 L387.7,706.5 L387.9,706.0 L388.1,706.3 L388.2,705.9 L388.4,706.2 L388.6,706.1 L388.8,706.3 L389.0,706.3 L389.1,706.1 L389.3,706.0 L389.5,706.0 L389.7,706.3 L389.9,706.4 L390.1,706.0 L390.2,705.8 L390.4,706.2 L390.6,706.2 L390.8,706.2 L391.0,706.1 L391.1,705.9 L391.3,706.3 L391.5,706.0 L391.7,705.8 L391.9,706.0 L392.1,706.3 L392.2,706.5 L392.4,706.1 L392.6,705.8 L392.8,705.9 L393.0,705.8 L393.2,706.2 L393.3,706.1 L393.5,706.3 L393.7,706.0 L393.9,706.2 L394.1,706.3 L394.2,706.2 L394.4,706.0 L394.6,705.9 L394.8,705.9 L395.0,705.6 L395.2,706.0 L395.3,706.3 L395.5,705.9 L395.7,706.3 L395.9,706.4 L396.1,706.0 L396.3,706.2 L396.4,706.1 L396.6,706.2 L396.8,706.2 L397.0,706.5 L397.2,705.9 L397.3,705.8 L397.5,706.2 L397.7,705.8 L397.9,705.9 L398.1,705.8 L398.3,705.8 L398.4,706.4 L398.6,705.9 L398.8,706.1 L399.0,705.9 L399.2,706.2 L399.4,705.7 L399.5,705.7 L399.7,706.1 L399.9,706.0 L400.1,706.1 L400.3,706.1 L400.4,705.9 L400.6,706.3 L400.8,706.4 L401.0,705.9 L401.2,706.0 L401.4,706.2 L401.5,706.3 L401.7,706.4 L401.9,706.2 L402.1,706.5 L402.3,706.1 L402.5,706.0 L402.6,706.3 L402.8,705.9 L403.0,705.9 L403.2,706.1 L403.4,706.3 L403.5,706.3 L403.7,706.3 L403.9,706.6 L404.1,706.1 L404.3,706.0 L404.5,706.5 L404.6,706.0 L404.8,706.2 L405.0,706.1 L405.2,706.0 L405.4,705.9 L405.6,706.3 L405.7,706.0 L405.9,706.2 L406.1,706.7 L406.3,705.7 L406.5,706.1 L406.6,706.2 L406.8,705.8 L407.0,706.0 L407.2,706.3 L407.4,706.1 L407.6,706.1 L407.7,706.2 L407.9,706.7 L408.1,706.1 L408.3,706.3 L408.5,706.4 L408.7,706.1 L408.8,705.6 L409.0,706.4 L409.2,706.1 L409.4,706.5 L409.6,706.5 L409.7,706.2 L409.9,705.9 L410.1,706.1 L410.3,706.1 L410.5,705.9 L410.7,706.0 L410.8,706.3 L411.0,706.3 L411.2,706.2 L411.4,706.1 L411.6,706.2 L411.8,706.2 L411.9,706.3 L412.1,706.3 L412.3,706.4 L412.5,706.3 L412.7,705.7 L412.8,705.9 L413.0,705.8 L413.2,706.1 L413.4,706.2 L413.6,705.9 L413.8,706.2 L413.9,705.9 L414.1,706.1 L414.3,706.0 L414.5,706.3 L414.7,705.7 L414.9,706.1 L415.0,706.0 L415.2,706.3 L415.4,706.3 L415.6,706.0 L415.8,706.5 L415.9,705.9 L416.1,706.3 L416.3,705.9 L416.5,706.3 L416.7,706.1 L416.9,706.1 L417.0,705.9 L417.2,706.3 L417.4,706.0 L417.6,706.1 L417.8,706.0 L417.9,706.3 L418.1,706.1 L418.3,706.3 L418.5,706.2 L418.7,705.9 L418.9,705.9 L419.0,706.3 L419.2,706.2 L419.4,706.1 L419.6,706.3 L419.8,706.2 L420.0,706.4 L420.1,706.0 L420.3,706.3 L420.5,705.8 L420.7,706.6 L420.9,706.0 L421.0,706.0 L421.2,706.3 L421.4,706.5 L421.6,706.1 L421.8,706.4 L422.0,705.9 L422.1,706.1 L422.3,706.1 L422.5,706.1 L422.7,706.0 L422.9,706.1 L423.1,706.0 L423.2,706.0 L423.4,706.2 L423.6,705.9 L423.8,705.8 L424.0,705.9 L424.1,706.1 L424.3,706.0 L424.5,706.4 L424.7,706.3 L424.9,706.3 L425.1,706.3 L425.2,705.9 L425.4,706.3 L425.6,706.3 L425.8,706.5 L426.0,706.3 L426.2,706.5 L426.3,705.9 L426.5,706.2 L426.7,705.9 L426.9,705.8 L427.1,706.0 L427.2,706.1 L427.4,706.1 L427.6,706.2 L427.8,706.6 L428.0,706.1 L428.2,706.3 L428.3,706.4 L428.5,706.3 L428.7,706.1 L428.9,706.0 L429.1,706.3 L429.3,706.4 L429.4,705.9 L429.6,706.0 L429.8,705.9 L430.0,706.2 L430.2,706.4 L430.3,705.8 L430.5,705.8 L430.7,706.3 L430.9,706.0 L431.1,705.9 L431.3,705.6 L431.4,705.9 L431.6,706.0 L431.8,706.2 L432.0,706.2 L432.2,706.1 L432.4,706.3 L432.5,706.0 L432.7,706.1 L432.9,706.2 L433.1,706.3 L433.3,706.1 L433.4,706.2 L433.6,706.0 L433.8,706.3 L434.0,706.0 L434.2,706.1 L434.4,705.7 L434.5,706.3 L434.7,705.7 L434.9,705.4 L435.1,706.1 L435.3,705.6 L435.5,705.8 L435.6,706.4 L435.8,706.2 L436.0,705.8 L436.2,706.0 L436.4,705.9 L436.5,706.0 L436.7,705.7 L436.9,706.1 L437.1,706.3 L437.3,706.2 L437.5,706.0 L437.6,706.2 L437.8,706.0 L438.0,706.1 L438.2,706.1 L438.4,706.0 L438.6,706.1 L438.7,705.8 L438.9,705.9 L439.1,705.8 L439.3,706.3 L439.5,705.9 L439.6,706.0 L439.8,706.3 L440.0,705.4 L440.2,706.1 L440.4,705.6 L440.6,705.5 L440.7,705.4 L440.9,705.6 L441.1,705.8 L441.3,704.7 L441.5,704.2 L441.7,702.6 L441.8,700.5 L442.0,696.6 L442.2,692.1 L442.4,686.9 L442.6,681.5 L442.7,679.4 L442.9,680.4 L443.1,683.5 L443.3,688.6 L443.5,693.8 L443.7,698.4 L443.8,701.4 L444.0,703.5 L444.2,704.5 L444.4,704.9 L444.6,705.5 L444.7,705.4 L444.9,705.7 L445.1,705.7 L445.3,705.8 L445.5,705.6 L445.7,705.8 L445.8,706.1 L446.0,705.9 L446.2,705.7 L446.4,705.9 L446.6,706.2 L446.8,706.1 L446.9,706.2 L447.1,705.7 L447.3,706.0 L447.5,705.8 L447.7,705.8 L447.8,706.1 L448.0,705.8 L448.2,706.1 L448.4,706.0 L448.6,706.5 L448.8,706.1 L448.9,706.2 L449.1,706.2 L449.3,706.0 L449.5,706.4 L449.7,706.1 L449.9,706.7 L450.0,706.1 L450.2,706.2 L450.4,705.7 L450.6,706.1 L450.8,706.0 L450.9,706.8 L451.1,706.2 L451.3,706.4 L451.5,705.8 L451.7,705.9 L451.9,706.1 L452.0,706.1 L452.2,706.1 L452.4,706.1 L452.6,706.0 L452.8,706.0 L453.0,706.1 L453.1,706.3 L453.3,705.8 L453.5,706.2 L453.7,706.3 L453.9,705.6 L454.0,706.1 L454.2,706.2 L454.4,706.4 L454.6,706.3 L454.8,705.8 L455.0,706.2 L455.1,705.9 L455.3,706.4 L455.5,705.9 L455.7,706.1 L455.9,706.2 L456.1,706.5 L456.2,705.8 L456.4,706.1 L456.6,706.1 L456.8,705.9 L457.0,706.3 L457.1,705.8 L457.3,705.9 L457.5,706.0 L457.7,706.0 L457.9,706.3 L458.1,706.1 L458.2,706.0 L458.4,706.2 L458.6,705.8 L458.8,705.9 L459.0,705.8 L459.2,706.4 L459.3,705.8 L459.5,706.2 L459.7,706.3 L459.9,706.2 L460.1,705.8 L460.2,706.0 L460.4,706.0 L460.6,705.9 L460.8,705.9 L461.0,705.8 L461.2,705.9 L461.3,706.0 L461.5,706.0 L461.7,706.4 L461.9,706.1 L462.1,706.6 L462.3,706.1 L462.4,706.1 L462.6,706.3 L462.8,706.2 L463.0,705.9 L463.2,706.2 L463.3,706.1 L463.5,705.7 L463.7,706.0 L463.9,705.9 L464.1,706.0 L464.3,706.0 L464.4,705.9 L464.6,706.2 L464.8,705.9 L465.0,706.2 L465.2,706.2 L465.4,706.0 L465.5,706.3 L465.7,706.7 L465.9,706.2 L466.1,705.8 L466.3,706.3 L466.4,706.0 L466.6,706.2 L466.8,706.5 L467.0,706.2 L467.2,706.6 L467.4,705.9 L467.5,706.2 L467.7,706.0 L467.9,706.1 L468.1,706.5 L468.3,706.2 L468.4,705.9 L468.6,706.0 L468.8,706.2 L469.0,706.3 L469.2,706.2 L469.4,706.4 L469.5,706.1 L469.7,706.5 L469.9,706.3 L470.1,705.9 L470.3,706.1 L470.5,706.3 L470.6,706.1 L470.8,706.2 L471.0,706.1 L471.2,705.9 L471.4,706.2 L471.5,706.5 L471.7,706.0 L471.9,706.3 L472.1,705.9 L472.3,705.9 L472.5,706.1 L472.6,706.0 L472.8,706.5 L473.0,706.5 L473.2,706.2 L473.4,706.1 L473.6,705.8 L473.7,706.3 L473.9,706.3 L474.1,706.3 L474.3,706.3 L474.5,706.1 L474.6,706.4 L474.8,706.0 L475.0,706.4 L475.2,705.6 L475.4,706.2 L475.6,706.1 L475.7,706.5 L475.9,706.1 L476.1,706.6 L476.3,705.9 L476.5,706.3 L476.7,706.1 L476.8,706.0 L477.0,705.9 L477.2,705.8 L477.4,705.9 L477.6,706.0 L477.7,706.3 L477.9,706.4 L478.1,706.0 L478.3,706.1 L478.5,706.2 L478.7,706.1 L478.8,705.9 L479.0,705.9 L479.2,706.3 L479.4,706.4 L479.6,706.6 L479.8,706.2 L479.9,706.2 L480.1,706.4 L480.3,705.9 L480.5,705.7 L480.7,706.3 L480.8,706.0 L481.0,706.2 L481.2,706.0 L481.4,706.1 L481.6,706.2 L481.8,705.9 L481.9,706.0 L482.1,706.2 L482.3,706.0 L482.5,706.3 L482.7,706.1 L482.9,706.0 L483.0,706.0 L483.2,706.5 L483.4,706.0 L483.6,706.4 L483.8,706.1 L483.9,706.0 L484.1,706.5 L484.3,706.4 L484.5,706.0 L484.7,706.1 L484.9,706.6 L485.0,705.9 L485.2,706.3 L485.4,706.4 L485.6,706.1 L485.8,706.3 L486.0,706.1 L486.1,706.1 L486.3,705.6 L486.5,705.9 L486.7,706.1 L486.9,706.1 L487.0,706.1 L487.2,706.0 L487.4,706.3 L487.6,706.0 L487.8,706.3 L488.0,706.3 L488.1,706.2 L488.3,705.9 L488.5,706.0 L488.7,706.8 L488.9,705.9 L489.1,706.1 L489.2,706.1 L489.4,705.8 L489.6,706.3 L489.8,706.4 L490.0,706.6 L490.1,706.4 L490.3,706.0 L490.5,706.3 L490.7,706.4 L490.9,706.0 L491.1,706.4 L491.2,706.3 L491.4,706.3 L491.6,706.0 L491.8,706.3 L492.0,706.2 L492.2,706.2 L492.3,706.5 L492.5,706.2 L492.7,706.5 L492.9,706.4 L493.1,706.2 L493.2,706.1 L493.4,706.2 L493.6,705.9 L493.8,706.1 L494.0,706.0 L494.2,706.2 L494.3,706.3 L494.5,705.8 L494.7,706.5 L494.9,705.9 L495.1,706.3 L495.2,706.0 L495.4,706.4 L495.6,706.0 L495.8,706.1 L496.0,706.6 L496.2,706.3 L496.3,706.0 L496.5,705.9 L496.7,706.1 L496.9,706.3 L497.1,706.2 L497.3,706.4 L497.4,706.4 L497.6,706.1 L497.8,706.1 L498.0,706.0 L498.2,706.1 L498.3,706.0 L498.5,706.2 L498.7,706.0 L498.9,705.6 L499.1,706.4 L499.3,706.1 L499.4,706.2 L499.6,706.0 L499.8,706.0 L500.0,706.3 L500.2,706.1 L500.4,706.1 L500.5,706.2 L500.7,706.1 L500.9,705.8 L501.1,706.0 L501.3,706.2 L501.4,706.1 L501.6,705.7 L501.8,706.3 L502.0,705.9 L502.2,706.3 L502.4,706.5 L502.5,706.3 L502.7,706.1 L502.9,706.2 L503.1,706.3 L503.3,706.3 L503.5,706.3 L503.6,706.4 L503.8,706.3 L504.0,706.7 L504.2,706.0 L504.4,706.1 L504.5,706.1 L504.7,705.9 L504.9,706.3 L505.1,706.1 L505.3,706.7 L505.5,706.1 L505.6,706.2 L505.8,706.0 L506.0,706.0 L506.2,706.2 L506.4,706.4 L506.6,706.1 L506.7,706.0 L506.9,705.9 L507.1,706.3 L507.3,706.3 L507.5,706.2 L507.6,706.4 L507.8,706.6 L508.0,706.1 L508.2,706.0 L508.4,706.0 L508.6,706.3 L508.7,706.2 L508.9,706.4 L509.1,706.5 L509.3,706.0 L509.5,706.5 L509.7,706.2 L509.8,705.6 L510.0,705.9 L510.2,706.0 L510.4,706.0 L510.6,706.2 L510.7,706.3 L510.9,705.7 L511.1,706.2 L511.3,706.3 L511.5,706.0 L511.7,706.2 L511.8,705.9 L512.0,706.3 L512.2,706.3 L512.4,706.2 L512.6,705.8 L512.8,705.9 L512.9,706.1 L513.1,706.1 L513.3,706.1 L513.5,706.4 L513.7,706.0 L513.8,706.2 L514.0,706.1 L514.2,706.1 L514.4,706.1 L514.6,706.2 L514.8,705.9 L514.9,706.1 L515.1,706.3 L515.3,706.0 L515.5,706.2 L515.7,706.1 L515.9,705.9 L516.0,706.2 L516.2,706.1 L516.4,706.1 L516.6,706.1 L516.8,705.7 L516.9,706.1 L517.1,706.4 L517.3,706.1 L517.5,706.3 L517.7,705.6 L517.9,706.3 L518.0,706.4 L518.2,706.0 L518.4,706.2 L518.6,706.2 L518.8,706.2 L518.9,706.3 L519.1,706.2 L519.3,706.6 L519.5,706.2 L519.7,706.0 L519.9,705.7 L520.0,706.1 L520.2,705.9 L520.4,706.3 L520.6,705.8 L520.8,705.6 L521.0,706.1 L521.1,706.2 L521.3,706.1 L521.5,705.8 L521.7,706.4 L521.9,705.8 L522.0,706.3 L522.2,706.3 L522.4,706.1 L522.6,706.0 L522.8,705.9 L523.0,705.8 L523.1,706.4 L523.3,706.1 L523.5,706.0 L523.7,706.1 L523.9,705.9 L524.1,706.1 L524.2,706.2 L524.4,706.6 L524.6,706.5 L524.8,706.0 L525.0,706.4 L525.1,706.1 L525.3,706.0 L525.5,706.2 L525.7,705.9 L525.9,706.3 L526.1,706.0 L526.2,706.2 L526.4,706.5 L526.6,706.6 L526.8,706.2 L527.0,705.8 L527.2,705.9 L527.3,706.0 L527.5,706.0 L527.7,705.9 L527.9,706.2 L528.1,705.8 L528.2,706.1 L528.4,706.2 L528.6,705.3 L528.8,706.0 L529.0,706.2 L529.2,706.0 L529.3,706.4 L529.5,706.4 L529.7,705.7 L529.9,706.0 L530.1,706.4 L530.3,706.5 L530.4,706.2 L530.6,706.4 L530.8,705.8 L531.0,706.6 L531.2,705.9 L531.3,706.4 L531.5,706.4 L531.7,706.1 L531.9,706.4 L532.1,706.3 L532.3,706.3 L532.4,706.7 L532.6,706.4 L532.8,706.1 L533.0,706.6 L533.2,706.4 L533.4,706.3 L533.5,705.9 L533.7,705.9 L533.9,705.8 L534.1,706.4 L534.3,706.0 L534.4,706.1 L534.6,706.4 L534.8,706.0 L535.0,706.1 L535.2,706.3 L535.4,706.4 L535.5,706.5 L535.7,706.0 L535.9,706.0 L536.1,706.2 L536.3,706.2 L536.5,706.3 L536.6,706.0 L536.8,706.1 L537.0,706.5 L537.2,706.1 L537.4,706.0 L537.5,706.3 L537.7,706.2 L537.9,706.3 L538.1,706.0 L538.3,706.2 L538.5,706.1 L538.6,706.1 L538.8,705.8 L539.0,706.5 L539.2,705.6 L539.4,706.4 L539.6,706.2 L539.7,706.3 L539.9,706.1 L540.1,706.0 L540.3,705.6 L540.5,705.9 L540.6,706.3 L540.8,706.1 L541.0,706.1 L541.2,706.3 L541.4,706.0 L541.6,706.1 L541.7,706.2 L541.9,706.3 L542.1,706.0 L542.3,706.2 L542.5,705.9 L542.7,705.9 L542.8,706.4 L543.0,706.6 L543.2,706.1 L543.4,706.3 L543.6,706.4 L543.7,706.3 L543.9,705.8 L544.1,706.2 L544.3,705.7 L544.5,706.0 L544.7,706.5 L544.8,706.0 L545.0,705.8 L545.2,706.5 L545.4,706.4 L545.6,706.2 L545.7,706.3 L545.9,705.8 L546.1,706.3 L546.3,705.7 L546.5,706.4 L546.7,706.3 L546.8,706.1 L547.0,706.0 L547.2,706.1 L547.4,705.8 L547.6,705.7 L547.8,705.7 L547.9,706.1 L548.1,705.9 L548.3,706.2 L548.5,705.8 L548.7,706.6 L548.8,706.3 L549.0,706.2 L549.2,706.2 L549.4,705.8 L549.6,706.4 L549.8,706.3 L549.9,706.4 L550.1,706.1 L550.3,706.3 L550.5,705.9 L550.7,705.9 L550.9,706.6 L551.0,706.6 L551.2,705.9 L551.4,706.0 L551.6,706.5 L551.8,706.1 L551.9,706.4 L552.1,705.9 L552.3,706.4 L552.5,706.2 L552.7,706.0 L552.9,706.1 L553.0,705.8 L553.2,706.0 L553.4,706.4 L553.6,706.0 L553.8,706.3 L554.0,705.7 L554.1,705.7 L554.3,705.7 L554.5,705.4 L554.7,705.6 L554.9,705.3 L555.0,705.1 L555.2,704.5 L555.4,703.6 L555.6,702.6 L555.8,701.0 L556.0,700.6 L556.1,700.2 L556.3,700.4 L556.5,700.8 L556.7,702.4 L556.9,703.7 L557.1,704.7 L557.2,705.0 L557.4,705.6 L557.6,705.5 L557.8,706.0 L558.0,705.8 L558.1,706.2 L558.3,705.9 L558.5,705.4 L558.7,706.1 L558.9,706.1 L559.1,705.9 L559.2,706.3 L559.4,706.2 L559.6,706.2 L559.8,706.0 L560.0,706.4 L560.2,705.8 L560.3,706.1 L560.5,706.1 L560.7,706.1 L560.9,706.1 L561.1,706.6 L561.2,705.8 L561.4,706.3 L561.6,705.9 L561.8,706.2 L562.0,706.2 L562.2,706.0 L562.3,705.7 L562.5,706.1 L562.7,706.2 L562.9,706.0 L563.1,706.7 L563.3,706.3 L563.4,706.3 L563.6,706.2 L563.8,706.4 L564.0,705.9 L564.2,706.2 L564.3,706.1 L564.5,706.1 L564.7,706.2 L564.9,706.3 L565.1,705.8 L565.3,705.9 L565.4,705.8 L565.6,706.2 L565.8,706.1 L566.0,706.0 L566.2,706.2 L566.4,706.1 L566.5,706.5 L566.7,706.4 L566.9,706.3 L567.1,706.4 L567.3,706.0 L567.4,706.0 L567.6,706.0 L567.8,706.2 L568.0,705.9 L568.2,705.9 L568.4,706.0 L568.5,706.2 L568.7,705.8 L568.9,706.4 L569.1,706.5 L569.3,706.4 L569.4,705.9 L569.6,706.1 L569.8,706.3 L570.0,706.7 L570.2,706.2 L570.4,706.4 L570.5,706.6 L570.7,705.9 L570.9,706.1 L571.1,705.8 L571.3,706.1 L571.5,706.0 L571.6,706.3 L571.8,706.0 L572.0,706.2 L572.2,706.0 L572.4,706.1 L572.5,706.4 L572.7,706.1 L572.9,706.1 L573.1,706.3 L573.3,706.2 L573.5,705.9 L573.6,705.9 L573.8,706.1 L574.0,706.6 L574.2,706.0 L574.4,705.7 L574.6,706.2 L574.7,706.3 L574.9,706.1 L575.1,706.1 L575.3,705.9 L575.5,706.3 L575.6,705.7 L575.8,705.9 L576.0,706.4 L576.2,705.9 L576.4,706.2 L576.6,706.0 L576.7,706.0 L576.9,706.1 L577.1,706.1 L577.3,706.2 L577.5,706.3 L577.7,706.2 L577.8,706.2 L578.0,706.0 L578.2,706.1 L578.4,706.5 L578.6,705.9 L578.7,706.1 L578.9,705.9 L579.1,706.0 L579.3,706.1 L579.5,706.0 L579.7,706.4 L579.8,705.8 L580.0,705.7 L580.2,706.0 L580.4,706.2 L580.6,706.0 L580.8,706.2 L580.9,705.8 L581.1,706.2 L581.3,706.4 L581.5,706.3 L581.7,706.3 L581.8,706.0 L582.0,706.1 L582.2,706.1 L582.4,706.2 L582.6,705.8 L582.8,706.1 L582.9,706.1 L583.1,705.8 L583.3,706.1 L583.5,706.2 L583.7,706.2 L583.9,705.9 L584.0,706.0 L584.2,706.3 L584.4,705.9 L584.6,706.5 L584.8,706.6 L584.9,706.3 L585.1,706.5 L585.3,706.2 L585.5,706.1 L585.7,706.2 L585.9,706.3 L586.0,706.4 L586.2,705.9 L586.4,706.6 L586.6,706.0 L586.8,706.1 L587.0,706.1 L587.1,706.0 L587.3,706.5 L587.5,705.9 L587.7,706.0 L587.9,705.9 L588.0,706.6 L588.2,706.1 L588.4,706.2 L588.6,706.6 L588.8,706.2 L589.0,706.1 L589.1,706.3 L589.3,706.0 L589.5,706.0 L589.7,706.2 L589.9,706.2 L590.1,706.0 L590.2,706.3 L590.4,706.0 L590.6,705.8 L590.8,706.1 L591.0,706.0 L591.1,706.1 L591.3,705.9 L591.5,706.5 L591.7,706.5 L591.9,706.3 L592.1,706.3 L592.2,705.9 L592.4,705.8 L592.6,706.0 L592.8,705.9 L593.0,706.2 L593.2,706.3 L593.3,706.5 L593.5,705.9 L593.7,706.0 L593.9,706.1 L594.1,706.4 L594.2,706.4 L594.4,706.0 L594.6,706.1 L594.8,705.9 L595.0,706.1 L595.2,706.3 L595.3,706.4 L595.5,706.1 L595.7,705.8 L595.9,705.7 L596.1,706.3 L596.2,706.0 L596.4,706.3 L596.6,706.1 L596.8,706.8 L597.0,706.3 L597.2,706.5 L597.3,705.8 L597.5,706.2 L597.7,706.0 L597.9,706.1 L598.1,706.4 L598.3,706.0 L598.4,705.9 L598.6,706.1 L598.8,706.0 L599.0,705.9 L599.2,706.0 L599.3,706.2 L599.5,706.5 L599.7,706.3 L599.9,706.3 L600.1,706.0 L600.3,705.8 L600.4,706.1 L600.6,705.9 L600.8,706.7 L601.0,706.1 L601.2,706.4 L601.4,705.9 L601.5,705.8 L601.7,705.9 L601.9,706.0 L602.1,705.9 L602.3,705.7 L602.4,706.2 L602.6,705.8 L602.8,706.2 L603.0,706.4 L603.2,706.0 L603.4,706.0 L603.5,706.0 L603.7,706.3 L603.9,706.0 L604.1,706.2 L604.3,705.6 L604.5,706.0 L604.6,706.0 L604.8,706.2 L605.0,706.0 L605.2,705.7 L605.4,706.3 L605.5,706.2 L605.7,706.5 L605.9,706.1 L606.1,705.8 L606.3,706.4 L606.5,706.2 L606.6,706.3 L606.8,706.2 L607.0,706.3 L607.2,706.2 L607.4,706.4 L607.6,706.1 L607.7,705.9 L607.9,706.0 L608.1,706.5 L608.3,705.8 L608.5,706.0 L608.6,705.9 L608.8,706.3 L609.0,706.3 L609.2,706.0 L609.4,705.7 L609.6,706.3 L609.7,706.1 L609.9,706.0 L610.1,706.2 L610.3,706.0 L610.5,706.2 L610.7,705.8 L610.8,706.5 L611.0,706.1 L611.2,706.2 L611.4,706.1 L611.6,706.3 L611.7,706.8 L611.9,705.8 L612.1,706.0 L612.3,706.0 L612.5,706.1 L612.7,706.1 L612.8,706.2 L613.0,706.1 L613.2,705.8 L613.4,706.3 L613.6,706.3 L613.8,705.7 L613.9,706.2 L614.1,706.1 L614.3,706.2 L614.5,706.0 L614.7,706.0 L614.8,706.1 L615.0,706.3 L615.2,706.3 L615.4,706.1 L615.6,705.7 L615.8,706.5 L615.9,706.1 L616.1,706.0 L616.3,706.2 L616.5,706.1 L616.7,706.1 L616.9,705.9 L617.0,705.8 L617.2,706.2 L617.4,706.1 L617.6,706.0 L617.8,706.1 L617.9,706.1 L618.1,706.6 L618.3,706.1 L618.5,706.4 L618.7,706.2 L618.9,706.0 L619.0,706.0 L619.2,706.2 L619.4,706.2 L619.6,706.2 L619.8,706.4 L620.0,705.8" stroke="#000" stroke-width="2.4" fill="none" stroke-linejoin="round"/>
<path d="M73.2,705.6 L73.4,704.1 L73.6,704.2 L73.7,702.7 L73.9,709.2 L74.1,706.2 L74.3,705.0 L74.5,705.7 L74.7,704.8 L74.8,707.7 L75.0,703.8 L75.2,705.7 L75.4,704.8 L75.6,705.8 L75.8,706.0 L75.9,705.1 L76.1,704.7 L76.3,705.8 L76.5,705.8 L76.7,704.8 L76.8,706.6 L77.0,707.3 L77.2,705.2 L77.4,706.3 L77.6,707.7 L77.8,706.5 L77.9,706.1 L78.1,706.9 L78.3,707.3 L78.5,705.6 L78.7,704.6 L78.9,705.9 L79.0,706.4 L79.2,705.2 L79.4,704.8 L79.6,705.9 L79.8,705.0 L79.9,704.4 L80.1,705.8 L80.3,706.5 L80.5,705.2 L80.7,705.3 L80.9,704.4 L81.0,707.0 L81.2,706.3 L81.4,706.5 L81.6,707.5 L81.8,705.5 L82.0,705.0 L82.1,706.4 L82.3,704.0 L82.5,704.7 L82.7,704.9 L82.9,705.1 L83.0,704.5 L83.2,707.1 L83.4,704.9 L83.6,704.9 L83.8,707.6 L84.0,705.2 L84.1,705.9 L84.3,704.7 L84.5,706.1 L84.7,705.6 L84.9,705.2 L85.1,706.6 L85.2,704.9 L85.4,705.7 L85.6,705.0 L85.8,706.2 L86.0,704.4 L86.1,704.9 L86.3,705.8 L86.5,704.9 L86.7,704.2 L86.9,703.6 L87.1,707.4 L87.2,704.6 L87.4,705.1 L87.6,705.7 L87.8,706.7 L88.0,704.2 L88.1,707.0 L88.3,709.8 L88.5,704.1 L88.7,707.4 L88.9,705.9 L89.1,707.1 L89.2,705.3 L89.4,703.9 L89.6,703.3 L89.8,704.3 L90.0,706.2 L90.2,704.8 L90.3,703.8 L90.5,705.1 L90.7,706.4 L90.9,705.3 L91.1,705.6 L91.2,705.8 L91.4,709.2 L91.6,705.2 L91.8,705.3 L92.0,705.7 L92.2,705.8 L92.3,707.0 L92.5,706.1 L92.7,704.2 L92.9,703.6 L93.1,707.2 L93.3,704.1 L93.4,707.4 L93.6,703.2 L93.8,705.5 L94.0,706.1 L94.2,707.2 L94.3,704.1 L94.5,702.7 L94.7,706.5 L94.9,706.3 L95.1,704.9 L95.3,706.5 L95.4,705.9 L95.6,706.0 L95.8,709.3 L96.0,704.4 L96.2,705.6 L96.4,704.6 L96.5,706.1 L96.7,705.2 L96.9,708.0 L97.1,707.2 L97.3,704.7 L97.4,706.3 L97.6,704.9 L97.8,705.0 L98.0,704.1 L98.2,699.5 L98.4,704.5 L98.5,705.7 L98.7,706.4 L98.9,706.4 L99.1,706.1 L99.3,706.9 L99.5,706.2 L99.6,705.7 L99.8,705.3 L100.0,706.0 L100.2,707.7 L100.4,705.7 L100.5,705.3 L100.7,704.4 L100.9,704.9 L101.1,706.3 L101.3,706.4 L101.5,703.3 L101.6,704.7 L101.8,703.5 L102.0,703.2 L102.2,706.5 L102.4,705.2 L102.6,705.1 L102.7,705.0 L102.9,705.0 L103.1,705.4 L103.3,705.4 L103.5,707.3 L103.6,705.8 L103.8,706.4 L104.0,705.4 L104.2,706.1 L104.4,704.9 L104.6,704.7 L104.7,705.2 L104.9,705.2 L105.1,705.5 L105.3,706.1 L105.5,706.1 L105.7,706.1 L105.8,705.2 L106.0,705.6 L106.2,709.9 L106.4,707.1 L106.6,704.6 L106.7,706.4 L106.9,706.4 L107.1,705.8 L107.3,706.2 L107.5,705.3 L107.7,706.2 L107.8,706.8 L108.0,706.5 L108.2,704.1 L108.4,705.5 L108.6,706.9 L108.8,705.6 L108.9,707.3 L109.1,703.6 L109.3,707.3 L109.5,705.0 L109.7,705.0 L109.8,707.2 L110.0,705.2 L110.2,704.5 L110.4,705.0 L110.6,705.3 L110.8,704.5 L110.9,705.4 L111.1,705.2 L111.3,705.7 L111.5,704.8 L111.7,706.6 L111.8,704.7 L112.0,706.1 L112.2,706.8 L112.4,705.1 L112.6,703.6 L112.8,704.4 L112.9,706.1 L113.1,704.7 L113.3,706.0 L113.5,705.6 L113.7,705.4 L113.9,708.1 L114.0,705.2 L114.2,706.6 L114.4,706.2 L114.6,707.0 L114.8,707.0 L114.9,706.4 L115.1,704.3 L115.3,703.3 L115.5,704.9 L115.7,704.3 L115.9,704.3 L116.0,705.4 L116.2,701.9 L116.4,700.0 L116.6,699.2 L116.8,696.4 L117.0,694.2 L117.1,694.5 L117.3,694.7 L117.5,693.9 L117.7,695.4 L117.9,697.4 L118.0,697.9 L118.2,698.9 L118.4,702.7 L118.6,702.6 L118.8,703.1 L119.0,703.9 L119.1,703.8 L119.3,705.6 L119.5,704.4 L119.7,703.1 L119.9,704.5 L120.1,706.1 L120.2,704.7 L120.4,704.0 L120.6,705.0 L120.8,706.1 L121.0,703.8 L121.1,706.9 L121.3,704.9 L121.5,705.5 L121.7,706.8 L121.9,704.2 L122.1,705.1 L122.2,706.8 L122.4,704.9 L122.6,706.0 L122.8,707.7 L123.0,707.0 L123.2,705.3 L123.3,704.8 L123.5,705.4 L123.7,705.5 L123.9,705.0 L124.1,705.8 L124.2,704.2 L124.4,705.4 L124.6,705.2 L124.8,705.0 L125.0,706.7 L125.2,706.4 L125.3,703.9 L125.5,705.2 L125.7,705.9 L125.9,705.2 L126.1,706.1 L126.3,705.3 L126.4,706.3 L126.6,705.3 L126.8,707.3 L127.0,704.1 L127.2,706.2 L127.3,707.3 L127.5,705.8 L127.7,706.0 L127.9,705.4 L128.1,706.9 L128.3,705.1 L128.4,701.5 L128.6,707.0 L128.8,705.2 L129.0,705.9 L129.2,705.4 L129.4,707.6 L129.5,706.9 L129.7,705.1 L129.9,705.6 L130.1,703.8 L130.3,706.4 L130.4,705.4 L130.6,702.3 L130.8,706.4 L131.0,706.6 L131.2,705.6 L131.4,705.6 L131.5,704.6 L131.7,705.4 L131.9,706.4 L132.1,705.4 L132.3,702.6 L132.5,704.2 L132.6,708.7 L132.8,705.7 L133.0,706.6 L133.2,704.9 L133.4,705.8 L133.5,703.4 L133.7,704.6 L133.9,704.6 L134.1,705.4 L134.3,705.6 L134.5,705.2 L134.6,704.1 L134.8,705.0 L135.0,706.0 L135.2,704.2 L135.4,705.4 L135.6,705.7 L135.7,706.5 L135.9,706.2 L136.1,706.3 L136.3,708.7 L136.5,704.5 L136.6,705.0 L136.8,705.8 L137.0,704.4 L137.2,705.1 L137.4,705.2 L137.6,708.4 L137.7,705.9 L137.9,705.0 L138.1,703.8 L138.3,704.4 L138.5,704.0 L138.6,706.5 L138.8,708.0 L139.0,705.0 L139.2,705.6 L139.4,704.5 L139.6,705.7 L139.7,705.3 L139.9,707.3 L140.1,709.2 L140.3,706.1 L140.5,705.2 L140.7,705.1 L140.8,705.7 L141.0,705.2 L141.2,705.6 L141.4,705.9 L141.6,705.0 L141.7,706.2 L141.9,704.9 L142.1,703.6 L142.3,705.7 L142.5,704.5 L142.7,705.2 L142.8,706.2 L143.0,706.4 L143.2,705.5 L143.4,705.3 L143.6,704.9 L143.8,707.0 L143.9,706.3 L144.1,705.7 L144.3,703.8 L144.5,708.2 L144.7,705.1 L144.8,706.2 L145.0,705.1 L145.2,706.1 L145.4,705.2 L145.6,703.8 L145.8,705.2 L145.9,705.1 L146.1,705.2 L146.3,706.4 L146.5,705.0 L146.7,705.8 L146.9,706.5 L147.0,705.6 L147.2,703.9 L147.4,704.8 L147.6,705.6 L147.8,706.2 L147.9,704.0 L148.1,704.5 L148.3,704.2 L148.5,704.9 L148.7,705.7 L148.9,706.1 L149.0,705.9 L149.2,704.5 L149.4,705.5 L149.6,707.2 L149.8,705.6 L150.0,707.2 L150.1,705.4 L150.3,706.9 L150.5,707.0 L150.7,705.5 L150.9,705.7 L151.0,707.4 L151.2,704.8 L151.4,703.2 L151.6,707.2 L151.8,703.6 L152.0,706.4 L152.1,706.1 L152.3,705.7 L152.5,707.2 L152.7,704.1 L152.9,705.0 L153.1,706.4 L153.2,705.9 L153.4,707.3 L153.6,706.0 L153.8,704.5 L154.0,707.5 L154.1,706.1 L154.3,705.4 L154.5,704.4 L154.7,704.1 L154.9,706.1 L155.1,706.4 L155.2,705.1 L155.4,706.0 L155.6,705.9 L155.8,704.4 L156.0,703.7 L156.2,705.3 L156.3,705.8 L156.5,705.0 L156.7,707.7 L156.9,705.6 L157.1,706.8 L157.2,702.9 L157.4,704.8 L157.6,705.4 L157.8,705.8 L158.0,708.4 L158.2,704.8 L158.3,703.8 L158.5,706.4 L158.7,704.8 L158.9,704.8 L159.1,707.3 L159.3,704.5 L159.4,704.1 L159.6,705.3 L159.8,705.7 L160.0,704.7 L160.2,707.3 L160.3,705.5 L160.5,704.4 L160.7,707.0 L160.9,704.5 L161.1,706.1 L161.3,707.9 L161.4,705.7 L161.6,706.7 L161.8,705.2 L162.0,706.9 L162.2,704.4 L162.3,706.4 L162.5,705.2 L162.7,706.3 L162.9,706.0 L163.1,704.3 L163.3,705.4 L163.4,706.0 L163.6,707.0 L163.8,704.3 L164.0,704.8 L164.2,706.0 L164.4,705.3 L164.5,706.7 L164.7,706.7 L164.9,706.5 L165.1,705.2 L165.3,705.3 L165.4,706.4 L165.6,704.8 L165.8,704.7 L166.0,705.4 L166.2,704.4 L166.4,705.9 L166.5,705.7 L166.7,705.1 L166.9,705.6 L167.1,704.7 L167.3,707.0 L167.5,704.0 L167.6,706.5 L167.8,705.8 L168.0,710.0 L168.2,704.9 L168.4,704.2 L168.5,704.4 L168.7,704.7 L168.9,707.3 L169.1,706.5 L169.3,706.1 L169.5,706.6 L169.6,704.3 L169.8,705.4 L170.0,705.6 L170.2,705.0 L170.4,706.7 L170.6,706.6 L170.7,706.6 L170.9,705.0 L171.1,705.2 L171.3,704.9 L171.5,704.4 L171.6,707.1 L171.8,706.2 L172.0,705.4 L172.2,707.1 L172.4,706.2 L172.6,704.5 L172.7,704.4 L172.9,704.4 L173.1,705.5 L173.3,705.8 L173.5,704.4 L173.7,706.0 L173.8,705.2 L174.0,704.1 L174.2,706.0 L174.4,706.3 L174.6,705.6 L174.7,704.9 L174.9,705.0 L175.1,705.4 L175.3,705.0 L175.5,707.4 L175.7,706.5 L175.8,705.4 L176.0,706.6 L176.2,707.1 L176.4,706.9 L176.6,706.6 L176.8,705.8 L176.9,706.7 L177.1,705.3 L177.3,703.7 L177.5,705.8 L177.7,711.1 L177.8,705.3 L178.0,706.8 L178.2,705.9 L178.4,706.7 L178.6,704.7 L178.8,706.9 L178.9,704.1 L179.1,704.9 L179.3,707.8 L179.5,704.7 L179.7,703.8 L179.9,701.7 L180.0,704.5 L180.2,707.6 L180.4,705.3 L180.6,707.4 L180.8,705.0 L180.9,707.6 L181.1,708.5 L181.3,705.1 L181.5,703.0 L181.7,706.2 L181.9,704.7 L182.0,705.5 L182.2,705.9 L182.4,704.9 L182.6,703.7 L182.8,707.0 L183.0,705.0 L183.1,705.2 L183.3,707.2 L183.5,703.8 L183.7,703.4 L183.9,706.6 L184.0,703.6 L184.2,705.5 L184.4,705.8 L184.6,703.9 L184.8,705.3 L185.0,705.2 L185.1,703.9 L185.3,704.1 L185.5,704.6 L185.7,707.1 L185.9,707.3 L186.1,704.3 L186.2,706.6 L186.4,705.4 L186.6,706.8 L186.8,705.8 L187.0,707.0 L187.1,703.8 L187.3,706.7 L187.5,705.7 L187.7,705.8 L187.9,704.2 L188.1,707.2 L188.2,705.6 L188.4,705.8 L188.6,705.0 L188.8,705.0 L189.0,706.1 L189.1,705.3 L189.3,706.0 L189.5,705.1 L189.7,705.7 L189.9,706.3 L190.1,705.6 L190.2,705.2 L190.4,703.0 L190.6,706.1 L190.8,705.2 L191.0,703.9 L191.2,707.9 L191.3,707.5 L191.5,706.9 L191.7,709.7 L191.9,702.8 L192.1,705.1 L192.2,704.2 L192.4,705.8 L192.6,708.3 L192.8,709.9 L193.0,704.4 L193.2,705.4 L193.3,707.0 L193.5,704.3 L193.7,707.3 L193.9,704.3 L194.1,703.9 L194.3,706.4 L194.4,706.8 L194.6,704.6 L194.8,706.8 L195.0,704.6 L195.2,706.9 L195.3,704.7 L195.5,705.5 L195.7,706.0 L195.9,706.6 L196.1,705.3 L196.3,707.7 L196.4,705.9 L196.6,706.0 L196.8,704.8 L197.0,707.0 L197.2,703.6 L197.4,705.9 L197.5,706.8 L197.7,704.0 L197.9,703.7 L198.1,705.8 L198.3,706.6 L198.4,705.5 L198.6,706.3 L198.8,705.9 L199.0,703.8 L199.2,705.1 L199.4,705.4 L199.5,705.2 L199.7,705.6 L199.9,704.6 L200.1,704.6 L200.3,706.0 L200.5,705.4 L200.6,702.9 L200.8,705.1 L201.0,705.8 L201.2,703.3 L201.4,705.5 L201.5,706.8 L201.7,704.8 L201.9,706.5 L202.1,706.1 L202.3,705.2 L202.5,705.7 L202.6,706.4 L202.8,706.2 L203.0,706.2 L203.2,704.2 L203.4,706.3 L203.6,706.2 L203.7,703.3 L203.9,706.1 L204.1,703.9 L204.3,704.1 L204.5,705.7 L204.6,707.1 L204.8,705.0 L205.0,704.8 L205.2,704.4 L205.4,705.6 L205.6,704.2 L205.7,704.0 L205.9,706.7 L206.1,703.9 L206.3,705.3 L206.5,706.1 L206.7,705.9 L206.8,703.4 L207.0,704.4 L207.2,707.5 L207.4,705.4 L207.6,705.6 L207.7,705.7 L207.9,706.1 L208.1,707.1 L208.3,704.5 L208.5,706.5 L208.7,705.9 L208.8,706.1 L209.0,706.3 L209.2,704.6 L209.4,705.0 L209.6,706.2 L209.8,706.5 L209.9,706.0 L210.1,704.4 L210.3,705.3 L210.5,705.2 L210.7,705.8 L210.8,705.7 L211.0,705.2 L211.2,707.5 L211.4,703.6 L211.6,706.3 L211.8,706.0 L211.9,702.6 L212.1,705.1 L212.3,705.3 L212.5,706.0 L212.7,707.1 L212.9,705.2 L213.0,704.0 L213.2,706.4 L213.4,703.8 L213.6,706.6 L213.8,706.1 L213.9,704.8 L214.1,705.3 L214.3,704.8 L214.5,706.1 L214.7,706.4 L214.9,707.3 L215.0,706.6 L215.2,706.4 L215.4,706.8 L215.6,704.9 L215.8,705.9 L215.9,707.4 L216.1,702.4 L216.3,706.1 L216.5,706.5 L216.7,706.6 L216.9,703.8 L217.0,706.3 L217.2,706.6 L217.4,706.1 L217.6,703.7 L217.8,705.2 L218.0,705.8 L218.1,704.8 L218.3,703.4 L218.5,706.3 L218.7,705.1 L218.9,706.1 L219.0,702.4 L219.2,702.4 L219.4,703.3 L219.6,704.4 L219.8,703.4 L220.0,706.4 L220.1,703.6 L220.3,705.2 L220.5,705.0 L220.7,704.1 L220.9,703.5 L221.1,702.2 L221.2,701.6 L221.4,701.6 L221.6,702.2 L221.8,699.3 L222.0,698.5 L222.1,694.3 L222.3,692.6 L222.5,688.7 L222.7,677.6 L222.9,663.2 L223.1,650.5 L223.2,633.6 L223.4,612.6 L223.6,592.5 L223.8,566.5 L224.0,559.4 L224.2,550.8 L224.3,551.6 L224.5,562.3 L224.7,579.1 L224.9,597.4 L225.1,617.0 L225.2,636.7 L225.4,653.9 L225.6,667.9 L225.8,676.3 L226.0,686.8 L226.2,691.5 L226.3,694.2 L226.5,690.3 L226.7,700.0 L226.9,700.2 L227.1,700.1 L227.3,702.2 L227.4,703.4 L227.6,703.1 L227.8,704.7 L228.0,702.4 L228.2,704.1 L228.3,705.8 L228.5,704.2 L228.7,706.1 L228.9,703.4 L229.1,710.5 L229.3,705.5 L229.4,703.3 L229.6,706.2 L229.8,704.4 L230.0,704.1 L230.2,703.1 L230.4,703.8 L230.5,704.6 L230.7,704.8 L230.9,705.0 L231.1,703.7 L231.3,705.7 L231.4,704.4 L231.6,705.2 L231.8,704.8 L232.0,705.4 L232.2,702.7 L232.4,705.9 L232.5,704.9 L232.7,704.9 L232.9,704.5 L233.1,704.7 L233.3,704.8 L233.5,704.1 L233.6,706.9 L233.8,705.3 L234.0,706.7 L234.2,705.0 L234.4,706.6 L234.5,706.4 L234.7,705.4 L234.9,703.8 L235.1,704.7 L235.3,705.0 L235.5,703.8 L235.6,706.4 L235.8,707.7 L236.0,705.8 L236.2,705.7 L236.4,704.0 L236.6,703.0 L236.7,706.9 L236.9,702.6 L237.1,703.7 L237.3,704.5 L237.5,705.0 L237.6,702.7 L237.8,705.3 L238.0,706.0 L238.2,705.3 L238.4,707.0 L238.6,704.9 L238.7,705.6 L238.9,705.1 L239.1,705.0 L239.3,706.6 L239.5,704.0 L239.6,706.6 L239.8,704.5 L240.0,707.2 L240.2,705.1 L240.4,706.4 L240.6,705.4 L240.7,706.2 L240.9,707.9 L241.1,706.7 L241.3,705.4 L241.5,704.8 L241.7,707.1 L241.8,707.9 L242.0,706.5 L242.2,705.7 L242.4,706.2 L242.6,706.4 L242.7,704.5 L242.9,704.4 L243.1,704.7 L243.3,706.5 L243.5,705.4 L243.7,705.7 L243.8,707.1 L244.0,704.5 L244.2,704.8 L244.4,706.1 L244.6,703.9 L244.8,704.7 L244.9,704.6 L245.1,704.2 L245.3,704.7 L245.5,704.7 L245.7,706.0 L245.8,704.4 L246.0,707.6 L246.2,705.5 L246.4,705.1 L246.6,703.9 L246.8,704.1 L246.9,704.5 L247.1,705.7 L247.3,704.5 L247.5,704.9 L247.7,705.7 L247.9,704.0 L248.0,705.0 L248.2,706.4 L248.4,704.1 L248.6,705.8 L248.8,704.9 L248.9,707.2 L249.1,705.6 L249.3,706.6 L249.5,706.6 L249.7,707.7 L249.9,703.1 L250.0,705.7 L250.2,705.3 L250.4,704.3 L250.6,705.7 L250.8,705.0 L251.0,707.1 L251.1,705.3 L251.3,706.0 L251.5,705.0 L251.7,705.3 L251.9,707.1 L252.0,707.6 L252.2,706.7 L252.4,704.7 L252.6,705.1 L252.8,705.1 L253.0,707.8 L253.1,708.6 L253.3,706.3 L253.5,705.9 L253.7,706.2 L253.9,705.2 L254.1,705.8 L254.2,706.9 L254.4,706.5 L254.6,705.4 L254.8,705.5 L255.0,705.6 L255.1,703.0 L255.3,705.9 L255.5,705.4 L255.7,706.7 L255.9,706.0 L256.1,705.0 L256.2,704.9 L256.4,705.7 L256.6,705.1 L256.8,705.5 L257.0,707.7 L257.2,709.2 L257.3,703.0 L257.5,704.6 L257.7,705.6 L257.9,707.5 L258.1,707.0 L258.2,704.1 L258.4,708.7 L258.6,705.9 L258.8,704.6 L259.0,705.4 L259.2,704.7 L259.3,705.7 L259.5,702.9 L259.7,706.7 L259.9,707.1 L260.1,705.3 L260.3,704.0 L260.4,705.6 L260.6,704.4 L260.8,706.2 L261.0,706.9 L261.2,704.0 L261.3,703.8 L261.5,703.9 L261.7,706.1 L261.9,706.9 L262.1,706.9 L262.3,705.8 L262.4,704.9 L262.6,705.0 L262.8,707.2 L263.0,705.4 L263.2,705.6 L263.4,705.5 L263.5,705.6 L263.7,705.8 L263.9,704.9 L264.1,705.4 L264.3,705.3 L264.4,706.4 L264.6,705.1 L264.8,705.7 L265.0,707.9 L265.2,705.0 L265.4,705.9 L265.5,704.5 L265.7,705.8 L265.9,705.7 L266.1,705.3 L266.3,705.6 L266.4,706.1 L266.6,707.6 L266.8,703.5 L267.0,707.3 L267.2,706.0 L267.4,704.9 L267.5,705.2 L267.7,700.9 L267.9,701.7 L268.1,703.5 L268.3,704.6 L268.5,700.8 L268.6,701.7 L268.8,707.7 L269.0,706.1 L269.2,702.2 L269.4,708.9 L269.5,703.0 L269.7,703.1 L269.9,709.5 L270.1,701.9 L270.3,703.0 L270.5,702.1 L270.6,700.4 L270.8,707.3 L271.0,701.2 L271.2,706.4 L271.4,704.2 L271.6,708.9 L271.7,702.7 L271.9,705.7 L272.1,707.5 L272.3,707.2 L272.5,706.7 L272.6,704.5 L272.8,706.6 L273.0,710.9 L273.2,712.6 L273.4,712.6 L273.6,709.9 L273.7,714.3 L273.9,710.5 L274.1,704.9 L274.3,709.1 L274.5,710.8 L274.7,711.5 L274.8,707.9 L275.0,703.6 L275.2,702.8 L275.4,707.9 L275.6,708.2 L275.7,707.4 L275.9,710.3 L276.1,706.5 L276.3,706.8 L276.5,707.7 L276.7,704.9 L276.8,702.9 L277.0,705.0 L277.2,706.0 L277.4,705.3 L277.6,704.3 L277.8,703.4 L277.9,707.9 L278.1,709.9 L278.3,704.4 L278.5,707.4 L278.7,706.7 L278.8,710.0 L279.0,703.3 L279.2,706.7 L279.4,703.8 L279.6,705.5 L279.8,704.5 L279.9,701.5 L280.1,705.6 L280.3,703.2 L280.5,706.4 L280.7,710.2 L280.9,709.9 L281.0,715.6 L281.2,704.2 L281.4,704.5 L281.6,707.8 L281.8,707.4 L281.9,706.9 L282.1,707.3 L282.3,706.3 L282.5,705.2 L282.7,710.5 L282.9,701.8 L283.0,704.6 L283.2,707.4 L283.4,705.0 L283.6,705.6 L283.8,705.7 L284.0,705.5 L284.1,703.8 L284.3,706.8 L284.5,713.6 L284.7,707.3 L284.9,706.1 L285.0,705.4 L285.2,706.5 L285.4,705.4 L285.6,704.8 L285.8,706.9 L286.0,705.7 L286.1,706.0 L286.3,707.8 L286.5,705.8 L286.7,706.5 L286.9,704.1 L287.1,706.6 L287.2,703.7 L287.4,706.2 L287.6,703.4 L287.8,705.0 L288.0,705.1 L288.1,704.7 L288.3,704.6 L288.5,704.0 L288.7,703.7 L288.9,706.0 L289.1,707.0 L289.2,708.6 L289.4,706.0 L289.6,704.7 L289.8,705.2 L290.0,705.5 L290.1,706.0 L290.3,708.5 L290.5,705.9 L290.7,705.2 L290.9,707.6 L291.1,704.8 L291.2,707.2 L291.4,705.8 L291.6,706.3 L291.8,706.0 L292.0,706.8 L292.2,706.9 L292.3,705.9 L292.5,706.8 L292.7,702.8 L292.9,706.1 L293.1,706.3 L293.2,706.2 L293.4,706.8 L293.6,708.3 L293.8,705.9 L294.0,705.3 L294.2,707.3 L294.3,705.6 L294.5,707.0 L294.7,705.6 L294.9,705.2 L295.1,702.8 L295.3,705.1 L295.4,706.4 L295.6,704.6 L295.8,706.1 L296.0,705.2 L296.2,704.8 L296.3,705.9 L296.5,707.0 L296.7,706.7 L296.9,706.8 L297.1,706.6 L297.3,706.8 L297.4,704.7 L297.6,711.9 L297.8,708.1 L298.0,704.8 L298.2,703.3 L298.4,703.6 L298.5,706.2 L298.7,705.5 L298.9,705.0 L299.1,704.6 L299.3,705.6 L299.4,706.8 L299.6,704.8 L299.8,704.9 L300.0,707.1 L300.2,706.0 L300.4,705.3 L300.5,705.6 L300.7,705.0 L300.9,704.7 L301.1,705.0 L301.3,705.7 L301.5,707.1 L301.6,704.9 L301.8,704.0 L302.0,703.4 L302.2,705.6 L302.4,707.7 L302.5,704.0 L302.7,704.0 L302.9,705.2 L303.1,704.8 L303.3,706.5 L303.5,705.0 L303.6,706.5 L303.8,705.8 L304.0,705.7 L304.2,706.1 L304.4,708.0 L304.6,706.5 L304.7,705.2 L304.9,705.7 L305.1,706.0 L305.3,705.1 L305.5,704.8 L305.6,704.7 L305.8,706.5 L306.0,705.6 L306.2,706.0 L306.4,706.6 L306.6,707.3 L306.7,700.7 L306.9,706.6 L307.1,703.2 L307.3,705.7 L307.5,705.9 L307.7,706.1 L307.8,703.5 L308.0,704.5 L308.2,705.8 L308.4,706.5 L308.6,705.7 L308.7,705.7 L308.9,704.4 L309.1,707.2 L309.3,705.6 L309.5,703.8 L309.7,706.2 L309.8,705.8 L310.0,706.6 L310.2,708.5 L310.4,705.7 L310.6,704.3 L310.8,706.1 L310.9,707.7 L311.1,705.3 L311.3,705.5 L311.5,704.5 L311.7,704.6 L311.8,705.9 L312.0,705.2 L312.2,707.6 L312.4,704.4 L312.6,705.4 L312.8,704.4 L312.9,704.4 L313.1,703.1 L313.3,705.8 L313.5,706.6 L313.7,707.9 L313.9,705.8 L314.0,705.4 L314.2,706.8 L314.4,704.8 L314.6,705.5 L314.8,705.1 L314.9,706.5 L315.1,707.6 L315.3,704.7 L315.5,704.9 L315.7,705.7 L315.9,706.1 L316.0,705.9 L316.2,705.8 L316.4,706.2 L316.6,707.9 L316.8,704.7 L316.9,707.3 L317.1,706.0 L317.3,705.9 L317.5,705.3 L317.7,707.4 L317.9,704.3 L318.0,704.9 L318.2,704.2 L318.4,704.2 L318.6,706.5 L318.8,709.1 L319.0,705.2 L319.1,704.1 L319.3,704.3 L319.5,706.2 L319.7,705.7 L319.9,705.3 L320.0,707.6 L320.2,706.3 L320.4,706.3 L320.6,703.8 L320.8,706.3 L321.0,703.8 L321.1,705.6 L321.3,707.5 L321.5,697.7 L321.7,706.7 L321.9,704.9 L322.1,703.7 L322.2,706.2 L322.4,706.9 L322.6,704.4 L322.8,705.5 L323.0,706.9 L323.1,706.8 L323.3,706.0 L323.5,704.5 L323.7,705.9 L323.9,704.8 L324.1,703.7 L324.2,704.1 L324.4,704.0 L324.6,704.2 L324.8,707.4 L325.0,704.2 L325.2,705.2 L325.3,705.7 L325.5,706.8 L325.7,707.3 L325.9,716.4 L326.1,705.6 L326.2,706.8 L326.4,706.4 L326.6,706.2 L326.8,704.8 L327.0,705.8 L327.2,705.7 L327.3,704.0 L327.5,705.8 L327.7,704.8 L327.9,706.6 L328.1,705.1 L328.3,705.3 L328.4,705.2 L328.6,705.9 L328.8,706.5 L329.0,705.7 L329.2,705.9 L329.3,704.1 L329.5,704.2 L329.7,706.5 L329.9,704.4 L330.1,705.5 L330.3,704.2 L330.4,704.8 L330.6,705.1 L330.8,701.0 L331.0,699.7 L331.2,698.8 L331.4,696.1 L331.5,690.9 L331.7,688.3 L331.9,685.3 L332.1,684.2 L332.3,685.2 L332.4,690.5 L332.6,692.3 L332.8,696.0 L333.0,700.5 L333.2,703.9 L333.4,702.4 L333.5,703.5 L333.7,702.1 L333.9,703.3 L334.1,704.2 L334.3,703.3 L334.5,706.4 L334.6,705.1 L334.8,705.6 L335.0,703.4 L335.2,704.7 L335.4,708.8 L335.5,703.9 L335.7,706.4 L335.9,704.6 L336.1,706.0 L336.3,705.2 L336.5,708.9 L336.6,705.3 L336.8,706.6 L337.0,703.9 L337.2,705.1 L337.4,705.5 L337.6,704.7 L337.7,699.7 L337.9,703.4 L338.1,705.3 L338.3,705.1 L338.5,701.7 L338.6,706.5 L338.8,706.8 L339.0,705.3 L339.2,705.1 L339.4,704.0 L339.6,705.0 L339.7,706.8 L339.9,705.0 L340.1,704.6 L340.3,704.4 L340.5,705.2 L340.6,706.9 L340.8,704.3 L341.0,706.4 L341.2,704.9 L341.4,707.3 L341.6,704.7 L341.7,706.4 L341.9,704.3 L342.1,703.6 L342.3,704.2 L342.5,706.9 L342.7,706.6 L342.8,706.5 L343.0,704.1 L343.2,705.2 L343.4,705.4 L343.6,705.2 L343.7,704.9 L343.9,704.8 L344.1,703.7 L344.3,705.6 L344.5,705.3 L344.7,707.6 L344.8,707.0 L345.0,706.3 L345.2,706.9 L345.4,705.3 L345.6,704.4 L345.8,706.1 L345.9,706.1 L346.1,706.1 L346.3,705.4 L346.5,706.2 L346.7,705.1 L346.8,705.2 L347.0,705.2 L347.2,704.7 L347.4,705.5 L347.6,705.4 L347.8,703.6 L347.9,705.6 L348.1,704.7 L348.3,705.5 L348.5,706.1 L348.7,706.1 L348.9,706.5 L349.0,705.6 L349.2,706.3 L349.4,706.1 L349.6,704.2 L349.8,705.7 L349.9,704.3 L350.1,705.3 L350.3,705.9 L350.5,706.3 L350.7,705.4 L350.9,702.7 L351.0,704.7 L351.2,704.5 L351.4,705.3 L351.6,704.6 L351.8,706.9 L352.0,706.5 L352.1,705.1 L352.3,704.7 L352.5,706.1 L352.7,705.8 L352.9,706.0 L353.0,705.8 L353.2,706.9 L353.4,707.2 L353.6,705.7 L353.8,707.5 L354.0,706.7 L354.1,706.3 L354.3,706.8 L354.5,705.3 L354.7,706.1 L354.9,705.7 L355.1,706.7 L355.2,706.4 L355.4,705.0 L355.6,705.2 L355.8,706.1 L356.0,705.2 L356.1,705.4 L356.3,705.4 L356.5,703.8 L356.7,706.1 L356.9,705.2 L357.1,705.2 L357.2,705.9 L357.4,706.9 L357.6,704.9 L357.8,705.3 L358.0,711.9 L358.2,705.6 L358.3,705.6 L358.5,706.6 L358.7,705.3 L358.9,707.7 L359.1,705.7 L359.2,707.3 L359.4,706.0 L359.6,704.8 L359.8,707.5 L360.0,706.8 L360.2,705.1 L360.3,705.9 L360.5,706.1 L360.7,706.1 L360.9,704.0 L361.1,704.9 L361.3,705.1 L361.4,707.0 L361.6,705.0 L361.8,707.1 L362.0,705.1 L362.2,706.9 L362.3,703.5 L362.5,707.5 L362.7,704.3 L362.9,704.8 L363.1,707.6 L363.3,705.9 L363.4,704.0 L363.6,704.4 L363.8,707.5 L364.0,706.2 L364.2,707.0 L364.4,706.8 L364.5,706.4 L364.7,703.6 L364.9,708.8 L365.1,705.9 L365.3,706.0 L365.4,704.9 L365.6,704.9 L365.8,706.7 L366.0,704.0 L366.2,706.9 L366.4,706.0 L366.5,705.2 L366.7,703.8 L366.9,706.1 L367.1,705.3 L367.3,704.2 L367.4,705.0 L367.6,704.4 L367.8,704.5 L368.0,705.4 L368.2,705.0 L368.4,704.6 L368.5,705.7 L368.7,703.9 L368.9,707.9 L369.1,706.7 L369.3,704.1 L369.5,705.2 L369.6,706.4 L369.8,705.2 L370.0,704.5 L370.2,706.3 L370.4,704.8 L370.5,705.8 L370.7,705.8 L370.9,705.7 L371.1,704.4 L371.3,706.9 L371.5,706.1 L371.6,704.9 L371.8,707.0 L372.0,707.4 L372.2,705.0 L372.4,705.7 L372.6,705.8 L372.7,705.5 L372.9,706.8 L373.1,702.4 L373.3,706.8 L373.5,706.2 L373.6,707.3 L373.8,706.1 L374.0,704.0 L374.2,705.6 L374.4,705.0 L374.6,706.2 L374.7,703.6 L374.9,705.5 L375.1,707.1 L375.3,704.8 L375.5,706.1 L375.7,705.0 L375.8,705.5 L376.0,705.4 L376.2,705.5 L376.4,706.7 L376.6,707.3 L376.7,704.6 L376.9,701.2 L377.1,705.3 L377.3,706.2 L377.5,707.9 L377.7,703.7 L377.8,704.1 L378.0,706.5 L378.2,706.1 L378.4,707.3 L378.6,706.3 L378.8,706.1 L378.9,705.9 L379.1,705.8 L379.3,706.4 L379.5,706.3 L379.7,706.7 L379.8,702.3 L380.0,705.8 L380.2,703.7 L380.4,705.4 L380.6,705.5 L380.8,706.4 L380.9,704.5 L381.1,706.8 L381.3,707.5 L381.5,706.8 L381.7,705.0 L381.9,707.0 L382.0,704.2 L382.2,705.7 L382.4,707.4 L382.6,705.9 L382.8,703.7 L382.9,706.6 L383.1,707.1 L383.3,705.1 L383.5,704.2 L383.7,704.5 L383.9,706.0 L384.0,705.5 L384.2,705.3 L384.4,704.4 L384.6,703.3 L384.8,705.8 L385.0,704.2 L385.1,706.1 L385.3,705.0 L385.5,706.7 L385.7,706.8 L385.9,705.2 L386.0,706.7 L386.2,704.7 L386.4,706.3 L386.6,705.6 L386.8,705.8 L387.0,706.1 L387.1,705.5 L387.3,704.5 L387.5,702.2 L387.7,707.0 L387.9,705.3 L388.1,705.9 L388.2,706.7 L388.4,705.4 L388.6,706.7 L388.8,705.8 L389.0,704.3 L389.1,707.9 L389.3,705.4 L389.5,705.2 L389.7,706.7 L389.9,705.1 L390.1,704.5 L390.2,706.1 L390.4,706.1 L390.6,707.1 L390.8,705.0 L391.0,705.9 L391.1,706.9 L391.3,705.9 L391.5,706.1 L391.7,704.8 L391.9,707.3 L392.1,705.9 L392.2,706.2 L392.4,703.9 L392.6,698.6 L392.8,704.5 L393.0,707.6 L393.2,705.3 L393.3,705.8 L393.5,705.3 L393.7,706.5 L393.9,707.9 L394.1,707.4 L394.2,704.2 L394.4,705.4 L394.6,706.7 L394.8,704.7 L395.0,706.5 L395.2,706.5 L395.3,707.0 L395.5,704.4 L395.7,703.5 L395.9,706.8 L396.1,705.4 L396.3,704.6 L396.4,703.3 L396.6,708.4 L396.8,705.5 L397.0,705.0 L397.2,707.4 L397.3,705.2 L397.5,705.5 L397.7,704.9 L397.9,706.4 L398.1,705.2 L398.3,706.4 L398.4,705.0 L398.6,705.5 L398.8,706.1 L399.0,707.3 L399.2,703.9 L399.4,704.5 L399.5,704.7 L399.7,706.4 L399.9,706.1 L400.1,703.8 L400.3,704.9 L400.4,706.7 L400.6,705.7 L400.8,705.5 L401.0,705.9 L401.2,706.8 L401.4,704.3 L401.5,705.0 L401.7,705.9 L401.9,707.5 L402.1,706.4 L402.3,705.7 L402.5,704.7 L402.6,706.1 L402.8,704.5 L403.0,705.5 L403.2,706.5 L403.4,708.8 L403.5,707.0 L403.7,707.4 L403.9,705.9 L404.1,705.3 L404.3,704.1 L404.5,705.7 L404.6,707.0 L404.8,703.1 L405.0,705.3 L405.2,706.0 L405.4,706.0 L405.6,707.2 L405.7,705.0 L405.9,705.3 L406.1,703.9 L406.3,704.4 L406.5,704.7 L406.6,704.3 L406.8,706.0 L407.0,706.2 L407.2,705.7 L407.4,707.1 L407.6,705.8 L407.7,706.0 L407.9,704.9 L408.1,705.7 L408.3,707.8 L408.5,705.6 L408.7,704.1 L408.8,707.7 L409.0,706.5 L409.2,705.6 L409.4,707.1 L409.6,706.3 L409.7,705.6 L409.9,707.1 L410.1,705.3 L410.3,705.2 L410.5,707.1 L410.7,710.8 L410.8,704.4 L411.0,705.8 L411.2,705.2 L411.4,704.9 L411.6,705.9 L411.8,704.6 L411.9,705.2 L412.1,706.8 L412.3,705.1 L412.5,704.7 L412.7,704.7 L412.8,706.4 L413.0,705.1 L413.2,704.1 L413.4,705.4 L413.6,704.3 L413.8,704.2 L413.9,705.7 L414.1,705.5 L414.3,706.0 L414.5,704.4 L414.7,705.7 L414.9,706.2 L415.0,705.7 L415.2,705.7 L415.4,705.2 L415.6,705.1 L415.8,706.9 L415.9,706.4 L416.1,705.2 L416.3,705.1 L416.5,705.5 L416.7,702.7 L416.9,704.4 L417.0,705.7 L417.2,704.8 L417.4,704.1 L417.6,705.2 L417.8,704.1 L417.9,705.5 L418.1,705.6 L418.3,703.2 L418.5,707.7 L418.7,703.9 L418.9,705.8 L419.0,704.6 L419.2,705.9 L419.4,705.4 L419.6,704.3 L419.8,705.5 L420.0,704.4 L420.1,705.7 L420.3,706.0 L420.5,705.8 L420.7,706.1 L420.9,705.7 L421.0,704.1 L421.2,706.9 L421.4,707.4 L421.6,705.6 L421.8,703.7 L422.0,704.4 L422.1,704.1 L422.3,704.2 L422.5,706.4 L422.7,705.4 L422.9,708.5 L423.1,706.3 L423.2,704.9 L423.4,707.3 L423.6,707.9 L423.8,707.0 L424.0,705.3 L424.1,704.3 L424.3,702.7 L424.5,704.0 L424.7,707.3 L424.9,708.2 L425.1,705.4 L425.2,704.4 L425.4,707.4 L425.6,706.1 L425.8,706.1 L426.0,705.5 L426.2,705.7 L426.3,705.0 L426.5,704.4 L426.7,705.5 L426.9,704.7 L427.1,703.3 L427.2,706.7 L427.4,706.7 L427.6,705.0 L427.8,703.5 L428.0,705.3 L428.2,704.3 L428.3,705.9 L428.5,704.5 L428.7,706.2 L428.9,704.8 L429.1,705.1 L429.3,705.1 L429.4,704.0 L429.6,704.3 L429.8,706.2 L430.0,704.5 L430.2,707.4 L430.3,704.4 L430.5,702.4 L430.7,704.9 L430.9,704.9 L431.1,705.4 L431.3,704.5 L431.4,706.0 L431.6,704.7 L431.8,705.8 L432.0,705.9 L432.2,701.9 L432.4,705.5 L432.5,707.4 L432.7,703.1 L432.9,705.3 L433.1,707.3 L433.3,704.2 L433.4,705.5 L433.6,705.2 L433.8,710.3 L434.0,706.4 L434.2,712.0 L434.4,705.6 L434.5,705.2 L434.7,704.3 L434.9,706.3 L435.1,705.7 L435.3,705.0 L435.5,705.8 L435.6,705.7 L435.8,705.1 L436.0,706.5 L436.2,703.7 L436.4,706.5 L436.5,705.4 L436.7,705.8 L436.9,706.2 L437.1,704.8 L437.3,704.3 L437.5,703.8 L437.6,704.8 L437.8,705.9 L438.0,704.4 L438.2,707.0 L438.4,705.3 L438.6,704.8 L438.7,704.8 L438.9,706.7 L439.1,707.0 L439.3,703.5 L439.5,705.9 L439.6,707.2 L439.8,706.7 L440.0,705.3 L440.2,704.0 L440.4,705.3 L440.6,703.9 L440.7,704.9 L440.9,704.5 L441.1,703.8 L441.3,705.0 L441.5,703.7 L441.7,703.6 L441.8,702.5 L442.0,699.3 L442.2,698.8 L442.4,695.5 L442.6,694.6 L442.7,692.7 L442.9,693.5 L443.1,693.1 L443.3,696.3 L443.5,698.6 L443.7,698.9 L443.8,705.6 L444.0,704.8 L444.2,707.4 L444.4,704.8 L444.6,704.5 L444.7,704.4 L444.9,704.9 L445.1,706.3 L445.3,703.4 L445.5,705.0 L445.7,705.7 L445.8,706.7 L446.0,705.0 L446.2,706.0 L446.4,706.0 L446.6,705.2 L446.8,705.2 L446.9,706.4 L447.1,704.1 L447.3,706.6 L447.5,706.7 L447.7,705.2 L447.8,705.4 L448.0,705.4 L448.2,706.0 L448.4,705.5 L448.6,706.2 L448.8,707.4 L448.9,704.7 L449.1,706.7 L449.3,705.8 L449.5,704.7 L449.7,705.5 L449.9,702.5 L450.0,707.1 L450.2,706.4 L450.4,705.9 L450.6,704.0 L450.8,705.8 L450.9,707.2 L451.1,704.3 L451.3,706.6 L451.5,705.8 L451.7,704.6 L451.9,706.3 L452.0,706.1 L452.2,705.0 L452.4,705.8 L452.6,705.3 L452.8,706.6 L453.0,705.7 L453.1,706.8 L453.3,707.3 L453.5,703.6 L453.7,705.1 L453.9,704.6 L454.0,709.5 L454.2,705.6 L454.4,705.8 L454.6,707.2 L454.8,705.0 L455.0,706.4 L455.1,705.8 L455.3,707.3 L455.5,704.5 L455.7,707.1 L455.9,705.1 L456.1,706.6 L456.2,706.2 L456.4,704.2 L456.6,705.9 L456.8,705.3 L457.0,705.4 L457.1,706.8 L457.3,703.9 L457.5,707.8 L457.7,706.3 L457.9,705.7 L458.1,707.4 L458.2,705.2 L458.4,705.0 L458.6,705.5 L458.8,706.5 L459.0,705.1 L459.2,704.3 L459.3,705.3 L459.5,703.7 L459.7,704.6 L459.9,704.7 L460.1,704.0 L460.2,706.3 L460.4,706.2 L460.6,705.0 L460.8,705.0 L461.0,703.9 L461.2,704.3 L461.3,706.0 L461.5,705.3 L461.7,705.9 L461.9,706.0 L462.1,706.1 L462.3,704.6 L462.4,706.1 L462.6,706.0 L462.8,705.4 L463.0,702.5 L463.2,705.8 L463.3,708.0 L463.5,705.2 L463.7,705.9 L463.9,705.4 L464.1,711.0 L464.3,707.6 L464.4,699.4 L464.6,705.4 L464.8,705.3 L465.0,708.4 L465.2,704.8 L465.4,705.0 L465.5,705.9 L465.7,705.2 L465.9,704.0 L466.1,705.8 L466.3,706.5 L466.4,704.0 L466.6,705.1 L466.8,705.6 L467.0,702.9 L467.2,705.3 L467.4,705.6 L467.5,705.1 L467.7,705.9 L467.9,705.2 L468.1,705.3 L468.3,706.2 L468.4,705.7 L468.6,705.1 L468.8,705.0 L469.0,704.8 L469.2,704.6 L469.4,705.2 L469.5,704.9 L469.7,704.0 L469.9,705.7 L470.1,704.3 L470.3,707.7 L470.5,705.0 L470.6,701.9 L470.8,707.5 L471.0,703.8 L471.2,707.4 L471.4,705.1 L471.5,703.7 L471.7,703.8 L471.9,706.5 L472.1,707.0 L472.3,708.4 L472.5,704.7 L472.6,706.0 L472.8,705.5 L473.0,705.2 L473.2,705.1 L473.4,704.9 L473.6,705.4 L473.7,707.3 L473.9,703.9 L474.1,708.6 L474.3,704.2 L474.5,706.2 L474.6,705.8 L474.8,706.1 L475.0,706.0 L475.2,705.6 L475.4,705.9 L475.6,706.8 L475.7,704.6 L475.9,706.2 L476.1,704.1 L476.3,705.7 L476.5,706.3 L476.7,705.1 L476.8,704.6 L477.0,706.6 L477.2,705.9 L477.4,704.0 L477.6,706.7 L477.7,706.5 L477.9,705.4 L478.1,706.9 L478.3,708.3 L478.5,707.4 L478.7,705.1 L478.8,704.8 L479.0,704.9 L479.2,705.1 L479.4,706.9 L479.6,704.8 L479.8,704.3 L479.9,706.3 L480.1,704.5 L480.3,706.0 L480.5,705.3 L480.7,705.1 L480.8,707.2 L481.0,703.9 L481.2,706.5 L481.4,705.7 L481.6,706.1 L481.8,705.0 L481.9,705.1 L482.1,705.5 L482.3,704.0 L482.5,705.2 L482.7,706.0 L482.9,708.8 L483.0,705.9 L483.2,705.9 L483.4,706.5 L483.6,706.5 L483.8,704.9 L483.9,704.4 L484.1,703.4 L484.3,704.3 L484.5,706.3 L484.7,705.3 L484.9,707.1 L485.0,704.7 L485.2,705.2 L485.4,706.2 L485.6,705.7 L485.8,705.8 L486.0,706.3 L486.1,704.1 L486.3,702.1 L486.5,704.6 L486.7,704.4 L486.9,705.4 L487.0,705.9 L487.2,703.1 L487.4,706.0 L487.6,705.1 L487.8,705.7 L488.0,704.9 L488.1,705.6 L488.3,697.0 L488.5,707.0 L488.7,705.7 L488.9,704.0 L489.1,706.7 L489.2,706.3 L489.4,704.0 L489.6,711.3 L489.8,704.4 L490.0,708.1 L490.1,705.4 L490.3,707.0 L490.5,707.1 L490.7,705.1 L490.9,704.2 L491.1,707.2 L491.2,706.8 L491.4,706.2 L491.6,705.7 L491.8,707.0 L492.0,703.0 L492.2,704.9 L492.3,706.0 L492.5,706.1 L492.7,703.0 L492.9,703.1 L493.1,706.1 L493.2,705.2 L493.4,704.2 L493.6,706.9 L493.8,706.2 L494.0,704.0 L494.2,706.3 L494.3,706.0 L494.5,707.1 L494.7,706.4 L494.9,704.8 L495.1,706.5 L495.2,707.0 L495.4,706.3 L495.6,703.6 L495.8,705.4 L496.0,706.2 L496.2,705.4 L496.3,705.1 L496.5,705.4 L496.7,707.6 L496.9,705.2 L497.1,705.8 L497.3,704.6 L497.4,707.1 L497.6,704.4 L497.8,702.2 L498.0,707.5 L498.2,704.1 L498.3,706.2 L498.5,705.2 L498.7,705.8 L498.9,704.4 L499.1,704.4 L499.3,704.3 L499.4,704.8 L499.6,709.0 L499.8,707.5 L500.0,705.4 L500.2,706.7 L500.4,705.1 L500.5,705.4 L500.7,707.2 L500.9,706.8 L501.1,706.9 L501.3,706.6 L501.4,705.8 L501.6,705.7 L501.8,704.1 L502.0,706.7 L502.2,706.2 L502.4,703.9 L502.5,704.6 L502.7,705.3 L502.9,708.2 L503.1,706.7 L503.3,705.4 L503.5,706.3 L503.6,703.4 L503.8,705.5 L504.0,705.3 L504.2,706.8 L504.4,706.8 L504.5,706.4 L504.7,706.3 L504.9,705.9 L505.1,705.2 L505.3,705.3 L505.5,704.5 L505.6,707.1 L505.8,705.4 L506.0,705.3 L506.2,703.8 L506.4,705.8 L506.6,705.2 L506.7,706.5 L506.9,705.1 L507.1,705.2 L507.3,706.3 L507.5,706.1 L507.6,705.6 L507.8,700.2 L508.0,706.9 L508.2,704.6 L508.4,706.0 L508.6,703.5 L508.7,704.0 L508.9,706.1 L509.1,706.3 L509.3,702.8 L509.5,704.9 L509.7,705.0 L509.8,706.8 L510.0,705.7 L510.2,704.7 L510.4,704.9 L510.6,706.5 L510.7,704.2 L510.9,702.2 L511.1,706.7 L511.3,704.5 L511.5,705.8 L511.7,704.7 L511.8,706.2 L512.0,705.2 L512.2,707.4 L512.4,700.3 L512.6,707.3 L512.8,705.4 L512.9,708.5 L513.1,705.7 L513.3,704.8 L513.5,705.1 L513.7,704.3 L513.8,706.8 L514.0,703.8 L514.2,703.8 L514.4,707.0 L514.6,706.5 L514.8,706.2 L514.9,705.6 L515.1,705.4 L515.3,708.4 L515.5,704.9 L515.7,705.9 L515.9,706.8 L516.0,704.5 L516.2,706.0 L516.4,704.3 L516.6,705.0 L516.8,706.0 L516.9,704.3 L517.1,704.7 L517.3,706.2 L517.5,707.4 L517.7,706.2 L517.9,704.9 L518.0,705.9 L518.2,703.6 L518.4,705.3 L518.6,705.4 L518.8,705.2 L518.9,706.6 L519.1,705.7 L519.3,706.3 L519.5,708.2 L519.7,709.7 L519.9,704.8 L520.0,706.1 L520.2,705.7 L520.4,707.3 L520.6,706.3 L520.8,704.7 L521.0,705.5 L521.1,706.2 L521.3,703.9 L521.5,705.7 L521.7,706.0 L521.9,704.3 L522.0,707.6 L522.2,705.0 L522.4,706.9 L522.6,706.5 L522.8,706.4 L523.0,705.5 L523.1,705.5 L523.3,705.3 L523.5,705.4 L523.7,704.0 L523.9,703.7 L524.1,704.8 L524.2,704.8 L524.4,706.0 L524.6,706.8 L524.8,704.9 L525.0,705.6 L525.1,704.6 L525.3,707.7 L525.5,702.6 L525.7,707.0 L525.9,705.6 L526.1,704.5 L526.2,707.2 L526.4,706.2 L526.6,707.9 L526.8,707.2 L527.0,707.8 L527.2,705.5 L527.3,705.3 L527.5,706.0 L527.7,704.2 L527.9,704.0 L528.1,705.6 L528.2,705.9 L528.4,705.9 L528.6,706.1 L528.8,704.1 L529.0,705.3 L529.2,706.0 L529.3,705.9 L529.5,705.0 L529.7,699.2 L529.9,705.2 L530.1,705.6 L530.3,704.1 L530.4,704.3 L530.6,707.2 L530.8,705.8 L531.0,704.8 L531.2,706.1 L531.3,704.7 L531.5,701.0 L531.7,704.9 L531.9,705.7 L532.1,705.3 L532.3,705.0 L532.4,707.3 L532.6,706.6 L532.8,706.7 L533.0,703.7 L533.2,705.3 L533.4,705.2 L533.5,705.4 L533.7,706.2 L533.9,706.4 L534.1,704.6 L534.3,706.0 L534.4,703.8 L534.6,705.4 L534.8,705.5 L535.0,705.8 L535.2,705.7 L535.4,705.6 L535.5,703.9 L535.7,703.0 L535.9,706.9 L536.1,706.1 L536.3,704.8 L536.5,706.6 L536.6,706.3 L536.8,706.1 L537.0,708.3 L537.2,704.9 L537.4,705.6 L537.5,705.7 L537.7,705.5 L537.9,705.3 L538.1,703.0 L538.3,705.4 L538.5,704.7 L538.6,706.2 L538.8,705.2 L539.0,705.2 L539.2,705.8 L539.4,706.6 L539.6,706.5 L539.7,705.1 L539.9,704.8 L540.1,705.1 L540.3,706.3 L540.5,705.2 L540.6,708.4 L540.8,704.5 L541.0,705.6 L541.2,705.3 L541.4,704.3 L541.6,708.5 L541.7,704.5 L541.9,706.1 L542.1,705.0 L542.3,706.0 L542.5,705.2 L542.7,704.0 L542.8,706.3 L543.0,706.3 L543.2,705.9 L543.4,705.2 L543.6,702.5 L543.7,706.2 L543.9,707.9 L544.1,706.3 L544.3,707.3 L544.5,706.2 L544.7,705.6 L544.8,706.6 L545.0,706.3 L545.2,707.7 L545.4,705.4 L545.6,706.4 L545.7,704.4 L545.9,704.4 L546.1,706.5 L546.3,705.0 L546.5,705.5 L546.7,704.7 L546.8,707.4 L547.0,705.6 L547.2,703.5 L547.4,705.7 L547.6,702.4 L547.8,705.6 L547.9,706.9 L548.1,704.5 L548.3,705.3 L548.5,705.4 L548.7,704.7 L548.8,704.7 L549.0,707.7 L549.2,705.0 L549.4,706.2 L549.6,705.4 L549.8,706.4 L549.9,703.1 L550.1,704.5 L550.3,705.6 L550.5,705.9 L550.7,705.9 L550.9,705.5 L551.0,705.6 L551.2,708.2 L551.4,706.5 L551.6,705.8 L551.8,704.7 L551.9,704.0 L552.1,706.6 L552.3,703.4 L552.5,705.4 L552.7,705.0 L552.9,705.4 L553.0,706.2 L553.2,703.9 L553.4,705.8 L553.6,705.6 L553.8,704.2 L554.0,705.4 L554.1,707.2 L554.3,705.7 L554.5,705.5 L554.7,703.5 L554.9,702.7 L555.0,705.6 L555.2,705.1 L555.4,704.5 L555.6,704.2 L555.8,705.9 L556.0,704.5 L556.1,706.3 L556.3,708.5 L556.5,707.0 L556.7,705.3 L556.9,704.6 L557.1,708.0 L557.2,707.5 L557.4,705.5 L557.6,709.3 L557.8,704.9 L558.0,706.5 L558.1,708.8 L558.3,704.6 L558.5,705.7 L558.7,703.9 L558.9,705.2 L559.1,705.7 L559.2,705.3 L559.4,704.4 L559.6,705.2 L559.8,705.4 L560.0,707.1 L560.2,704.9 L560.3,705.4 L560.5,703.4 L560.7,705.5 L560.9,705.5 L561.1,706.1 L561.2,704.6 L561.4,705.7 L561.6,706.2 L561.8,703.6 L562.0,703.4 L562.2,709.2 L562.3,706.6 L562.5,704.2 L562.7,706.4 L562.9,702.3 L563.1,705.6 L563.3,705.3 L563.4,706.9 L563.6,705.5 L563.8,704.2 L564.0,704.9 L564.2,706.0 L564.3,702.7 L564.5,704.6 L564.7,705.7 L564.9,706.1 L565.1,705.7 L565.3,703.9 L565.4,704.3 L565.6,705.4 L565.8,706.3 L566.0,704.0 L566.2,705.6 L566.4,706.5 L566.5,704.8 L566.7,706.1 L566.9,704.6 L567.1,704.4 L567.3,709.1 L567.4,704.6 L567.6,701.4 L567.8,705.8 L568.0,704.7 L568.2,706.9 L568.4,704.9 L568.5,706.1 L568.7,704.6 L568.9,705.5 L569.1,706.7 L569.3,704.2 L569.4,705.7 L569.6,706.6 L569.8,705.4 L570.0,706.5 L570.2,705.0 L570.4,705.5 L570.5,705.8 L570.7,704.7 L570.9,706.9 L571.1,704.3 L571.3,707.7 L571.5,703.6 L571.6,705.2 L571.8,705.7 L572.0,706.3 L572.2,704.8 L572.4,705.6 L572.5,705.6 L572.7,704.3 L572.9,705.9 L573.1,705.7 L573.3,704.9 L573.5,704.2 L573.6,705.6 L573.8,705.2 L574.0,705.4 L574.2,708.2 L574.4,703.7 L574.6,706.5 L574.7,705.6 L574.9,705.5 L575.1,704.8 L575.3,703.7 L575.5,705.4 L575.6,705.2 L575.8,704.1 L576.0,706.8 L576.2,706.3 L576.4,705.9 L576.6,705.4 L576.7,705.2 L576.9,706.0 L577.1,703.4 L577.3,706.2 L577.5,705.7 L577.7,704.2 L577.8,704.6 L578.0,705.4 L578.2,705.0 L578.4,704.5 L578.6,703.5 L578.7,704.7 L578.9,706.5 L579.1,705.4 L579.3,707.3 L579.5,706.4 L579.7,706.7 L579.8,704.0 L580.0,706.0 L580.2,705.1 L580.4,706.5 L580.6,705.7 L580.8,705.8 L580.9,706.4 L581.1,704.5 L581.3,707.3 L581.5,704.7 L581.7,702.4 L581.8,706.4 L582.0,705.4 L582.2,708.1 L582.4,705.5 L582.6,707.4 L582.8,704.8 L582.9,706.0 L583.1,707.6 L583.3,706.9 L583.5,707.3 L583.7,705.8 L583.9,704.5 L584.0,705.9 L584.2,706.8 L584.4,706.4 L584.6,705.4 L584.8,708.3 L584.9,704.8 L585.1,705.1 L585.3,708.3 L585.5,704.2 L585.7,707.4 L585.9,705.8 L586.0,704.2 L586.2,707.4 L586.4,707.6 L586.6,706.8 L586.8,712.3 L587.0,705.7 L587.1,706.1 L587.3,706.1 L587.5,706.1 L587.7,705.8 L587.9,706.5 L588.0,705.2 L588.2,705.6 L588.4,706.7 L588.6,703.5 L588.8,703.3 L589.0,704.7 L589.1,706.4 L589.3,705.1 L589.5,705.0 L589.7,704.6 L589.9,703.9 L590.1,706.5 L590.2,702.3 L590.4,705.1 L590.6,706.5 L590.8,707.1 L591.0,702.9 L591.1,703.7 L591.3,705.5 L591.5,704.7 L591.7,704.0 L591.9,705.4 L592.1,706.0 L592.2,705.6 L592.4,704.6 L592.6,705.5 L592.8,706.9 L593.0,704.7 L593.2,707.5 L593.3,706.4 L593.5,704.1 L593.7,705.2 L593.9,705.2 L594.1,701.8 L594.2,704.3 L594.4,705.6 L594.6,707.7 L594.8,705.2 L595.0,709.0 L595.2,707.9 L595.3,703.7 L595.5,704.3 L595.7,706.0 L595.9,705.6 L596.1,705.4 L596.2,704.4 L596.4,706.4 L596.6,706.5 L596.8,706.2 L597.0,705.4 L597.2,705.2 L597.3,706.0 L597.5,704.7 L597.7,706.7 L597.9,705.6 L598.1,706.3 L598.3,706.7 L598.4,704.1 L598.6,705.9 L598.8,706.7 L599.0,705.5 L599.2,706.7 L599.3,704.8 L599.5,704.5 L599.7,704.3 L599.9,706.7 L600.1,705.7 L600.3,703.4 L600.4,705.8 L600.6,704.1 L600.8,703.8 L601.0,707.1 L601.2,704.1 L601.4,704.7 L601.5,704.5 L601.7,703.6 L601.9,705.0 L602.1,705.4 L602.3,704.8 L602.4,705.9 L602.6,704.9 L602.8,707.8 L603.0,703.5 L603.2,706.1 L603.4,704.9 L603.5,705.2 L603.7,705.4 L603.9,705.4 L604.1,705.4 L604.3,707.4 L604.5,706.1 L604.6,704.2 L604.8,706.7 L605.0,706.7 L605.2,703.1 L605.4,704.1 L605.5,703.7 L605.7,705.5 L605.9,705.2 L606.1,704.6 L606.3,704.9 L606.5,706.8 L606.6,707.2 L606.8,706.4 L607.0,707.2 L607.2,703.7 L607.4,706.1 L607.6,705.7 L607.7,705.2 L607.9,705.5 L608.1,704.9 L608.3,706.2 L608.5,707.3 L608.6,703.5 L608.8,706.4 L609.0,706.1 L609.2,709.6 L609.4,706.2 L609.6,705.5 L609.7,704.7 L609.9,706.7 L610.1,705.2 L610.3,706.3 L610.5,704.2 L610.7,707.0 L610.8,705.4 L611.0,704.7 L611.2,707.1 L611.4,705.4 L611.6,705.4 L611.7,706.5 L611.9,705.8 L612.1,704.4 L612.3,705.3 L612.5,706.0 L612.7,705.8 L612.8,705.1 L613.0,704.1 L613.2,704.7 L613.4,704.7 L613.6,703.8 L613.8,707.3 L613.9,707.2 L614.1,708.1 L614.3,704.6 L614.5,708.2 L614.7,705.6 L614.8,704.7 L615.0,707.2 L615.2,706.3 L615.4,705.9 L615.6,704.8 L615.8,707.3 L615.9,705.2 L616.1,704.8 L616.3,705.4 L616.5,705.4 L616.7,704.2 L616.9,705.3 L617.0,705.6 L617.2,706.0 L617.4,704.9 L617.6,705.9 L617.8,704.9 L617.9,705.5 L618.1,704.3 L618.3,706.5 L618.5,705.5 L618.7,705.2 L618.9,705.1 L619.0,704.3 L619.2,705.2 L619.4,704.6 L619.6,700.0 L619.8,704.6 L620.0,706.8" stroke="#ff0000" stroke-width="1.8" fill="none"/>
<path d="M73.2,705.6 L73.4,705.6 L73.6,705.6 L73.7,705.6 L73.9,705.6 L74.1,705.6 L74.3,705.6 L74.5,705.6 L74.7,705.6 L74.8,705.6 L75.0,705.6 L75.2,705.6 L75.4,705.6 L75.6,705.6 L75.8,705.6 L75.9,705.6 L76.1,705.6 L76.3,705.6 L76.5,705.6 L76.7,705.6 L76.8,705.6 L77.0,705.6 L77.2,705.6 L77.4,705.6 L77.6,705.6 L77.8,705.6 L77.9,705.6 L78.1,705.6 L78.3,705.6 L78.5,705.6 L78.7,705.6 L78.9,705.6 L79.0,705.6 L79.2,705.6 L79.4,705.6 L79.6,705.6 L79.8,705.6 L79.9,705.6 L80.1,705.6 L80.3,705.6 L80.5,705.6 L80.7,705.6 L80.9,705.6 L81.0,705.6 L81.2,705.6 L81.4,705.6 L81.6,705.6 L81.8,705.6 L82.0,705.6 L82.1,705.6 L82.3,705.6 L82.5,705.6 L82.7,705.6 L82.9,705.6 L83.0,705.6 L83.2,705.6 L83.4,705.6 L83.6,705.6 L83.8,705.6 L84.0,705.6 L84.1,705.6 L84.3,705.6 L84.5,705.6 L84.7,705.6 L84.9,705.6 L85.1,705.6 L85.2,705.6 L85.4,705.6 L85.6,705.6 L85.8,705.6 L86.0,705.6 L86.1,705.6 L86.3,705.6 L86.5,705.6 L86.7,705.6 L86.9,705.6 L87.1,705.6 L87.2,705.6 L87.4,705.6 L87.6,705.6 L87.8,705.6 L88.0,705.6 L88.1,705.6 L88.3,705.6 L88.5,705.6 L88.7,705.6 L88.9,705.6 L89.1,705.6 L89.2,705.6 L89.4,705.6 L89.6,705.6 L89.8,705.6 L90.0,705.6 L90.2,705.6 L90.3,705.6 L90.5,705.6 L90.7,705.6 L90.9,705.6 L91.1,705.6 L91.2,705.6 L91.4,705.6 L91.6,705.6 L91.8,705.6 L92.0,705.6 L92.2,705.6 L92.3,705.6 L92.5,705.6 L92.7,705.6 L92.9,705.6 L93.1,705.6 L93.3,705.6 L93.4,705.6 L93.6,705.6 L93.8,705.6 L94.0,705.6 L94.2,705.6 L94.3,705.6 L94.5,705.6 L94.7,705.6 L94.9,705.6 L95.1,705.6 L95.3,705.6 L95.4,705.6 L95.6,705.6 L95.8,705.6 L96.0,705.6 L96.2,705.6 L96.4,705.6 L96.5,705.6 L96.7,705.6 L96.9,705.6 L97.1,705.6 L97.3,705.6 L97.4,705.6 L97.6,705.6 L97.8,705.6 L98.0,705.6 L98.2,705.6 L98.4,705.6 L98.5,705.6 L98.7,705.6 L98.9,705.6 L99.1,705.6 L99.3,705.6 L99.5,705.6 L99.6,705.6 L99.8,705.6 L100.0,705.6 L100.2,705.6 L100.4,705.6 L100.5,705.6 L100.7,705.6 L100.9,705.6 L101.1,705.6 L101.3,705.6 L101.5,705.6 L101.6,705.6 L101.8,705.6 L102.0,705.6 L102.2,705.6 L102.4,705.6 L102.6,705.6 L102.7,705.6 L102.9,705.6 L103.1,705.6 L103.3,705.6 L103.5,705.6 L103.6,705.6 L103.8,705.6 L104.0,705.6 L104.2,705.6 L104.4,705.6 L104.6,705.6 L104.7,705.6 L104.9,705.6 L105.1,705.6 L105.3,705.6 L105.5,705.6 L105.7,705.6 L105.8,705.6 L106.0,705.6 L106.2,705.6 L106.4,705.6 L106.6,705.6 L106.7,705.6 L106.9,705.6 L107.1,705.6 L107.3,705.6 L107.5,705.6 L107.7,705.6 L107.8,705.6 L108.0,705.6 L108.2,705.6 L108.4,705.6 L108.6,705.6 L108.8,705.6 L108.9,705.6 L109.1,705.6 L109.3,705.6 L109.5,705.6 L109.7,705.6 L109.8,705.6 L110.0,705.6 L110.2,705.6 L110.4,705.6 L110.6,705.6 L110.8,705.6 L110.9,705.6 L111.1,705.6 L111.3,705.6 L111.5,705.6 L111.7,705.6 L111.8,705.6 L112.0,705.6 L112.2,705.6 L112.4,705.6 L112.6,705.6 L112.8,705.6 L112.9,705.6 L113.1,705.6 L113.3,705.6 L113.5,705.6 L113.7,705.6 L113.9,705.6 L114.0,705.6 L114.2,705.6 L114.4,705.6 L114.6,705.6 L114.8,705.6 L114.9,705.6 L115.1,705.6 L115.3,705.6 L115.5,705.6 L115.7,705.6 L115.9,705.6 L116.0,705.6 L116.2,705.6 L116.4,705.6 L116.6,705.6 L116.8,705.6 L117.0,705.6 L117.1,705.6 L117.3,705.6 L117.5,705.6 L117.7,705.6 L117.9,705.6 L118.0,705.6 L118.2,705.6 L118.4,705.6 L118.6,705.6 L118.8,705.6 L119.0,705.6 L119.1,705.6 L119.3,705.6 L119.5,705.6 L119.7,705.6 L119.9,705.6 L120.1,705.6 L120.2,705.6 L120.4,705.6 L120.6,705.6 L120.8,705.6 L121.0,705.6 L121.1,705.6 L121.3,705.6 L121.5,705.6 L121.7,705.6 L121.9,705.6 L122.1,705.6 L122.2,705.6 L122.4,705.6 L122.6,705.6 L122.8,705.6 L123.0,705.6 L123.2,705.6 L123.3,705.6 L123.5,705.6 L123.7,705.6 L123.9,705.6 L124.1,705.6 L124.2,705.6 L124.4,705.6 L124.6,705.6 L124.8,705.6 L125.0,705.6 L125.2,705.6 L125.3,705.6 L125.5,705.6 L125.7,705.6 L125.9,705.6 L126.1,705.6 L126.3,705.6 L126.4,705.6 L126.6,705.6 L126.8,705.6 L127.0,705.6 L127.2,705.6 L127.3,705.6 L127.5,705.6 L127.7,705.6 L127.9,705.6 L128.1,705.6 L128.3,705.6 L128.4,705.6 L128.6,705.6 L128.8,705.6 L129.0,705.6 L129.2,705.6 L129.4,705.6 L129.5,705.6 L129.7,705.6 L129.9,705.6 L130.1,705.6 L130.3,705.6 L130.4,705.6 L130.6,705.6 L130.8,705.6 L131.0,705.6 L131.2,705.6 L131.4,705.6 L131.5,705.6 L131.7,705.6 L131.9,705.6 L132.1,705.6 L132.3,705.6 L132.5,705.6 L132.6,705.6 L132.8,705.6 L133.0,705.6 L133.2,705.6 L133.4,705.6 L133.5,705.6 L133.7,705.6 L133.9,705.6 L134.1,705.6 L134.3,705.6 L134.5,705.6 L134.6,705.6 L134.8,705.6 L135.0,705.6 L135.2,705.6 L135.4,705.6 L135.6,705.6 L135.7,705.6 L135.9,705.6 L136.1,705.6 L136.3,705.6 L136.5,705.6 L136.6,705.6 L136.8,705.6 L137.0,705.6 L137.2,705.6 L137.4,705.6 L137.6,705.6 L137.7,705.6 L137.9,705.6 L138.1,705.6 L138.3,705.6 L138.5,705.6 L138.6,705.6 L138.8,705.6 L139.0,705.6 L139.2,705.6 L139.4,705.6 L139.6,705.6 L139.7,705.6 L139.9,705.6 L140.1,705.6 L140.3,705.6 L140.5,705.6 L140.7,705.6 L140.8,705.6 L141.0,705.6 L141.2,705.6 L141.4,705.6 L141.6,705.6 L141.7,705.6 L141.9,705.6 L142.1,705.6 L142.3,705.6 L142.5,705.6 L142.7,705.6 L142.8,705.6 L143.0,705.6 L143.2,705.6 L143.4,705.6 L143.6,705.6 L143.8,705.6 L143.9,705.6 L144.1,705.6 L144.3,705.6 L144.5,705.6 L144.7,705.6 L144.8,705.6 L145.0,705.6 L145.2,705.6 L145.4,705.6 L145.6,705.6 L145.8,705.6 L145.9,705.6 L146.1,705.6 L146.3,705.6 L146.5,705.6 L146.7,705.6 L146.9,705.6 L147.0,705.6 L147.2,705.6 L147.4,705.6 L147.6,705.6 L147.8,705.6 L147.9,705.6 L148.1,705.6 L148.3,705.6 L148.5,705.6 L148.7,705.6 L148.9,705.6 L149.0,705.6 L149.2,705.6 L149.4,705.6 L149.6,705.6 L149.8,705.6 L150.0,705.6 L150.1,705.6 L150.3,705.6 L150.5,705.6 L150.7,705.6 L150.9,705.6 L151.0,705.6 L151.2,705.6 L151.4,705.6 L151.6,705.6 L151.8,705.6 L152.0,705.6 L152.1,705.6 L152.3,705.6 L152.5,705.6 L152.7,705.6 L152.9,705.6 L153.1,705.6 L153.2,705.6 L153.4,705.6 L153.6,705.6 L153.8,705.6 L154.0,705.6 L154.1,705.6 L154.3,705.6 L154.5,705.6 L154.7,705.6 L154.9,705.6 L155.1,705.6 L155.2,705.6 L155.4,705.6 L155.6,705.6 L155.8,705.6 L156.0,705.6 L156.2,705.6 L156.3,705.6 L156.5,705.6 L156.7,705.6 L156.9,705.6 L157.1,705.6 L157.2,705.6 L157.4,705.6 L157.6,705.6 L157.8,705.6 L158.0,705.6 L158.2,705.6 L158.3,705.6 L158.5,705.6 L158.7,705.6 L158.9,705.6 L159.1,705.6 L159.3,705.6 L159.4,705.6 L159.6,705.6 L159.8,705.6 L160.0,705.6 L160.2,705.6 L160.3,705.6 L160.5,705.6 L160.7,705.6 L160.9,705.6 L161.1,705.6 L161.3,705.6 L161.4,705.6 L161.6,705.6 L161.8,705.6 L162.0,705.6 L162.2,705.6 L162.3,705.6 L162.5,705.6 L162.7,705.6 L162.9,705.6 L163.1,705.6 L163.3,705.6 L163.4,705.6 L163.6,705.6 L163.8,705.6 L164.0,705.6 L164.2,705.6 L164.4,705.6 L164.5,705.6 L164.7,705.6 L164.9,705.6 L165.1,705.6 L165.3,705.6 L165.4,705.6 L165.6,705.6 L165.8,705.6 L166.0,705.6 L166.2,705.6 L166.4,705.6 L166.5,705.6 L166.7,705.6 L166.9,705.6 L167.1,705.6 L167.3,705.6 L167.5,705.6 L167.6,705.6 L167.8,705.6 L168.0,705.6 L168.2,705.6 L168.4,705.6 L168.5,705.6 L168.7,705.6 L168.9,705.6 L169.1,705.6 L169.3,705.6 L169.5,705.6 L169.6,705.6 L169.8,705.6 L170.0,705.6 L170.2,705.6 L170.4,705.6 L170.6,705.6 L170.7,705.6 L170.9,705.6 L171.1,705.6 L171.3,705.6 L171.5,705.6 L171.6,705.6 L171.8,705.6 L172.0,705.6 L172.2,705.6 L172.4,705.6 L172.6,705.6 L172.7,705.6 L172.9,705.6 L173.1,705.6 L173.3,705.6 L173.5,705.6 L173.7,705.6 L173.8,705.6 L174.0,705.6 L174.2,705.6 L174.4,705.6 L174.6,705.6 L174.7,705.6 L174.9,705.6 L175.1,705.6 L175.3,705.6 L175.5,705.6 L175.7,705.6 L175.8,705.6 L176.0,705.6 L176.2,705.6 L176.4,705.6 L176.6,705.6 L176.8,705.6 L176.9,705.6 L177.1,705.6 L177.3,705.6 L177.5,705.6 L177.7,705.6 L177.8,705.6 L178.0,705.6 L178.2,705.6 L178.4,705.6 L178.6,705.6 L178.8,705.6 L178.9,705.6 L179.1,705.6 L179.3,705.6 L179.5,705.6 L179.7,705.6 L179.9,705.6 L180.0,705.6 L180.2,705.6 L180.4,705.6 L180.6,705.6 L180.8,705.6 L180.9,705.6 L181.1,705.6 L181.3,705.6 L181.5,705.6 L181.7,705.6 L181.9,705.6 L182.0,705.6 L182.2,705.6 L182.4,705.6 L182.6,705.6 L182.8,705.6 L183.0,705.6 L183.1,705.6 L183.3,705.6 L183.5,705.6 L183.7,705.6 L183.9,705.6 L184.0,705.6 L184.2,705.6 L184.4,705.6 L184.6,705.6 L184.8,705.6 L185.0,705.6 L185.1,705.6 L185.3,705.6 L185.5,705.6 L185.7,705.6 L185.9,705.6 L186.1,705.6 L186.2,705.6 L186.4,705.6 L186.6,705.6 L186.8,705.6 L187.0,705.6 L187.1,705.6 L187.3,705.6 L187.5,705.6 L187.7,705.6 L187.9,705.6 L188.1,705.6 L188.2,705.6 L188.4,705.6 L188.6,705.6 L188.8,705.6 L189.0,705.6 L189.1,705.6 L189.3,705.6 L189.5,705.6 L189.7,705.6 L189.9,705.6 L190.1,705.6 L190.2,705.6 L190.4,705.6 L190.6,705.6 L190.8,705.6 L191.0,705.6 L191.2,705.6 L191.3,705.6 L191.5,705.6 L191.7,705.6 L191.9,705.6 L192.1,705.6 L192.2,705.6 L192.4,705.6 L192.6,705.6 L192.8,705.6 L193.0,705.6 L193.2,705.6 L193.3,705.6 L193.5,705.6 L193.7,705.6 L193.9,705.6 L194.1,705.6 L194.3,705.6 L194.4,705.6 L194.6,705.6 L194.8,705.6 L195.0,705.6 L195.2,705.6 L195.3,705.6 L195.5,705.6 L195.7,705.6 L195.9,705.6 L196.1,705.6 L196.3,705.6 L196.4,705.6 L196.6,705.6 L196.8,705.6 L197.0,705.6 L197.2,705.6 L197.4,705.6 L197.5,705.6 L197.7,705.6 L197.9,705.6 L198.1,705.6 L198.3,705.6 L198.4,705.6 L198.6,705.6 L198.8,705.6 L199.0,705.6 L199.2,705.6 L199.4,705.6 L199.5,705.6 L199.7,705.6 L199.9,705.5 L200.1,705.5 L200.3,705.5 L200.5,705.5 L200.6,705.5 L200.8,705.5 L201.0,705.5 L201.2,705.5 L201.4,705.5 L201.5,705.5 L201.7,705.5 L201.9,705.5 L202.1,705.5 L202.3,705.5 L202.5,705.5 L202.6,705.5 L202.8,705.5 L203.0,705.5 L203.2,705.5 L203.4,705.5 L203.6,705.5 L203.7,705.5 L203.9,705.5 L204.1,705.5 L204.3,705.5 L204.5,705.5 L204.6,705.5 L204.8,705.5 L205.0,705.5 L205.2,705.5 L205.4,705.5 L205.6,705.5 L205.7,705.5 L205.9,705.5 L206.1,705.5 L206.3,705.5 L206.5,705.5 L206.7,705.5 L206.8,705.5 L207.0,705.5 L207.2,705.5 L207.4,705.5 L207.6,705.5 L207.7,705.5 L207.9,705.5 L208.1,705.5 L208.3,705.5 L208.5,705.5 L208.7,705.5 L208.8,705.5 L209.0,705.5 L209.2,705.5 L209.4,705.5 L209.6,705.5 L209.8,705.5 L209.9,705.5 L210.1,705.5 L210.3,705.4 L210.5,705.4 L210.7,705.4 L210.8,705.4 L211.0,705.4 L211.2,705.4 L211.4,705.4 L211.6,705.4 L211.8,705.4 L211.9,705.4 L212.1,705.4 L212.3,705.4 L212.5,705.4 L212.7,705.4 L212.9,705.4 L213.0,705.4 L213.2,705.4 L213.4,705.3 L213.6,705.3 L213.8,705.3 L213.9,705.3 L214.1,705.3 L214.3,705.3 L214.5,705.3 L214.7,705.3 L214.9,705.3 L215.0,705.3 L215.2,705.2 L215.4,705.2 L215.6,705.2 L215.8,705.2 L215.9,705.2 L216.1,705.2 L216.3,705.1 L216.5,705.1 L216.7,705.1 L216.9,705.1 L217.0,705.0 L217.2,705.0 L217.4,705.0 L217.6,704.9 L217.8,704.9 L218.0,704.9 L218.1,704.8 L218.3,704.8 L218.5,704.7 L218.7,704.7 L218.9,704.6 L219.0,704.5 L219.2,704.4 L219.4,704.4 L219.6,704.3 L219.8,704.2 L220.0,704.0 L220.1,703.9 L220.3,703.7 L220.5,703.6 L220.7,703.4 L220.9,703.1 L221.1,702.8 L221.2,702.4 L221.4,701.9 L221.6,701.2 L221.8,700.0 L222.0,698.3 L222.1,695.7 L222.3,691.6 L222.5,685.6 L222.7,677.1 L222.9,665.7 L223.1,651.0 L223.2,633.4 L223.4,613.6 L223.6,593.0 L223.8,573.9 L224.0,558.8 L224.2,550.8 L224.3,551.9 L224.5,561.6 L224.7,577.8 L224.9,597.5 L225.1,618.1 L225.2,637.5 L225.4,654.5 L225.6,668.4 L225.8,679.2 L226.0,687.1 L226.2,692.6 L226.3,696.3 L226.5,698.8 L226.7,700.3 L226.9,701.3 L227.1,702.0 L227.3,702.5 L227.4,702.9 L227.6,703.2 L227.8,703.4 L228.0,703.6 L228.2,703.8 L228.3,703.9 L228.5,704.1 L228.7,704.2 L228.9,704.3 L229.1,704.4 L229.3,704.5 L229.4,704.5 L229.6,704.6 L229.8,704.7 L230.0,704.7 L230.2,704.8 L230.4,704.8 L230.5,704.9 L230.7,704.9 L230.9,704.9 L231.1,705.0 L231.3,705.0 L231.4,705.0 L231.6,705.1 L231.8,705.1 L232.0,705.1 L232.2,705.1 L232.4,705.2 L232.5,705.2 L232.7,705.2 L232.9,705.2 L233.1,705.2 L233.3,705.2 L233.5,705.3 L233.6,705.3 L233.8,705.3 L234.0,705.3 L234.2,705.3 L234.4,705.3 L234.5,705.3 L234.7,705.3 L234.9,705.3 L235.1,705.3 L235.3,705.4 L235.5,705.4 L235.6,705.4 L235.8,705.4 L236.0,705.4 L236.2,705.4 L236.4,705.4 L236.6,705.4 L236.7,705.4 L236.9,705.4 L237.1,705.4 L237.3,705.4 L237.5,705.4 L237.6,705.4 L237.8,705.4 L238.0,705.4 L238.2,705.4 L238.4,705.5 L238.6,705.5 L238.7,705.5 L238.9,705.5 L239.1,705.5 L239.3,705.5 L239.5,705.5 L239.6,705.5 L239.8,705.5 L240.0,705.5 L240.2,705.5 L240.4,705.5 L240.6,705.5 L240.7,705.5 L240.9,705.5 L241.1,705.5 L241.3,705.5 L241.5,705.5 L241.7,705.5 L241.8,705.5 L242.0,705.5 L242.2,705.5 L242.4,705.5 L242.6,705.5 L242.7,705.5 L242.9,705.5 L243.1,705.5 L243.3,705.5 L243.5,705.5 L243.7,705.5 L243.8,705.5 L244.0,705.5 L244.2,705.5 L244.4,705.5 L244.6,705.5 L244.8,705.5 L244.9,705.5 L245.1,705.5 L245.3,705.5 L245.5,705.5 L245.7,705.5 L245.8,705.5 L246.0,705.5 L246.2,705.5 L246.4,705.5 L246.6,705.5 L246.8,705.5 L246.9,705.5 L247.1,705.5 L247.3,705.5 L247.5,705.5 L247.7,705.5 L247.9,705.5 L248.0,705.5 L248.2,705.5 L248.4,705.5 L248.6,705.5 L248.8,705.6 L248.9,705.6 L249.1,705.6 L249.3,705.6 L249.5,705.6 L249.7,705.6 L249.9,705.6 L250.0,705.6 L250.2,705.6 L250.4,705.6 L250.6,705.6 L250.8,705.6 L251.0,705.6 L251.1,705.6 L251.3,705.6 L251.5,705.6 L251.7,705.6 L251.9,705.6 L252.0,705.6 L252.2,705.6 L252.4,705.6 L252.6,705.6 L252.8,705.6 L253.0,705.6 L253.1,705.6 L253.3,705.6 L253.5,705.6 L253.7,705.6 L253.9,705.6 L254.1,705.6 L254.2,705.6 L254.4,705.6 L254.6,705.6 L254.8,705.6 L255.0,705.6 L255.1,705.6 L255.3,705.6 L255.5,705.6 L255.7,705.6 L255.9,705.6 L256.1,705.6 L256.2,705.6 L256.4,705.6 L256.6,705.6 L256.8,705.6 L257.0,705.6 L257.2,705.6 L257.3,705.6 L257.5,705.6 L257.7,705.6 L257.9,705.6 L258.1,705.6 L258.2,705.6 L258.4,705.6 L258.6,705.6 L258.8,705.6 L259.0,705.6 L259.2,705.6 L259.3,705.6 L259.5,705.6 L259.7,705.6 L259.9,705.6 L260.1,705.6 L260.3,705.6 L260.4,705.6 L260.6,705.6 L260.8,705.6 L261.0,705.6 L261.2,705.6 L261.3,705.6 L261.5,705.6 L261.7,705.6 L261.9,705.6 L262.1,705.6 L262.3,705.6 L262.4,705.6 L262.6,705.6 L262.8,705.6 L263.0,705.6 L263.2,705.6 L263.4,705.6 L263.5,705.6 L263.7,705.6 L263.9,705.6 L264.1,705.6 L264.3,705.6 L264.4,705.6 L264.6,705.6 L264.8,705.6 L265.0,705.6 L265.2,705.6 L265.4,705.6 L265.5,705.6 L265.7,705.6 L265.9,705.6 L266.1,705.6 L266.3,705.6 L266.4,705.6 L266.6,705.6 L266.8,705.6 L267.0,705.6 L267.2,705.6 L267.4,705.6 L267.5,705.6 L267.7,705.6 L267.9,705.6 L268.1,705.6 L268.3,705.6 L268.5,705.6 L268.6,705.6 L268.8,705.6 L269.0,705.6 L269.2,705.6 L269.4,705.6 L269.5,705.6 L269.7,705.6 L269.9,705.6 L270.1,705.6 L270.3,705.6 L270.5,705.6 L270.6,705.6 L270.8,705.6 L271.0,705.6 L271.2,705.6 L271.4,705.6 L271.6,705.6 L271.7,705.6 L271.9,705.6 L272.1,705.6 L272.3,705.6 L272.5,705.6 L272.6,705.6 L272.8,705.6 L273.0,705.6 L273.2,705.6 L273.4,705.6 L273.6,705.6 L273.7,705.6 L273.9,705.6 L274.1,705.6 L274.3,705.6 L274.5,705.6 L274.7,705.6 L274.8,705.6 L275.0,705.6 L275.2,705.6 L275.4,705.6 L275.6,705.6 L275.7,705.6 L275.9,705.6 L276.1,705.6 L276.3,705.6 L276.5,705.6 L276.7,705.6 L276.8,705.6 L277.0,705.6 L277.2,705.6 L277.4,705.6 L277.6,705.6 L277.8,705.6 L277.9,705.6 L278.1,705.6 L278.3,705.6 L278.5,705.6 L278.7,705.6 L278.8,705.6 L279.0,705.6 L279.2,705.6 L279.4,705.6 L279.6,705.6 L279.8,705.6 L279.9,705.6 L280.1,705.6 L280.3,705.6 L280.5,705.6 L280.7,705.6 L280.9,705.6 L281.0,705.6 L281.2,705.6 L281.4,705.6 L281.6,705.6 L281.8,705.6 L281.9,705.6 L282.1,705.6 L282.3,705.6 L282.5,705.6 L282.7,705.6 L282.9,705.6 L283.0,705.6 L283.2,705.6 L283.4,705.6 L283.6,705.6 L283.8,705.6 L284.0,705.6 L284.1,705.6 L284.3,705.6 L284.5,705.6 L284.7,705.6 L284.9,705.6 L285.0,705.6 L285.2,705.6 L285.4,705.6 L285.6,705.6 L285.8,705.6 L286.0,705.6 L286.1,705.6 L286.3,705.6 L286.5,705.6 L286.7,705.6 L286.9,705.6 L287.1,705.6 L287.2,705.6 L287.4,705.6 L287.6,705.6 L287.8,705.6 L288.0,705.6 L288.1,705.6 L288.3,705.6 L288.5,705.6 L288.7,705.6 L288.9,705.6 L289.1,705.6 L289.2,705.6 L289.4,705.6 L289.6,705.6 L289.8,705.6 L290.0,705.6 L290.1,705.6 L290.3,705.6 L290.5,705.6 L290.7,705.6 L290.9,705.6 L291.1,705.6 L291.2,705.6 L291.4,705.6 L291.6,705.6 L291.8,705.6 L292.0,705.6 L292.2,705.6 L292.3,705.6 L292.5,705.6 L292.7,705.6 L292.9,705.6 L293.1,705.6 L293.2,705.6 L293.4,705.6 L293.6,705.6 L293.8,705.6 L294.0,705.6 L294.2,705.6 L294.3,705.6 L294.5,705.6 L294.7,705.6 L294.9,705.6 L295.1,705.6 L295.3,705.6 L295.4,705.6 L295.6,705.6 L295.8,705.6 L296.0,705.6 L296.2,705.6 L296.3,705.6 L296.5,705.6 L296.7,705.6 L296.9,705.6 L297.1,705.6 L297.3,705.6 L297.4,705.6 L297.6,705.6 L297.8,705.6 L298.0,705.6 L298.2,705.6 L298.4,705.6 L298.5,705.6 L298.7,705.6 L298.9,705.6 L299.1,705.6 L299.3,705.6 L299.4,705.6 L299.6,705.6 L299.8,705.6 L300.0,705.6 L300.2,705.6 L300.4,705.6 L300.5,705.6 L300.7,705.6 L300.9,705.6 L301.1,705.6 L301.3,705.6 L301.5,705.6 L301.6,705.6 L301.8,705.6 L302.0,705.6 L302.2,705.6 L302.4,705.6 L302.5,705.6 L302.7,705.6 L302.9,705.6 L303.1,705.6 L303.3,705.6 L303.5,705.6 L303.6,705.6 L303.8,705.6 L304.0,705.6 L304.2,705.6 L304.4,705.6 L304.6,705.6 L304.7,705.6 L304.9,705.6 L305.1,705.6 L305.3,705.6 L305.5,705.6 L305.6,705.6 L305.8,705.6 L306.0,705.6 L306.2,705.6 L306.4,705.6 L306.6,705.6 L306.7,705.6 L306.9,705.6 L307.1,705.6 L307.3,705.6 L307.5,705.6 L307.7,705.6 L307.8,705.6 L308.0,705.6 L308.2,705.6 L308.4,705.6 L308.6,705.6 L308.7,705.6 L308.9,705.6 L309.1,705.6 L309.3,705.6 L309.5,705.6 L309.7,705.6 L309.8,705.6 L310.0,705.6 L310.2,705.6 L310.4,705.6 L310.6,705.6 L310.8,705.6 L310.9,705.6 L311.1,705.6 L311.3,705.6 L311.5,705.6 L311.7,705.6 L311.8,705.6 L312.0,705.6 L312.2,705.6 L312.4,705.6 L312.6,705.6 L312.8,705.6 L312.9,705.6 L313.1,705.6 L313.3,705.6 L313.5,705.6 L313.7,705.6 L313.9,705.6 L314.0,705.6 L314.2,705.6 L314.4,705.6 L314.6,705.6 L314.8,705.6 L314.9,705.6 L315.1,705.6 L315.3,705.6 L315.5,705.6 L315.7,705.6 L315.9,705.6 L316.0,705.6 L316.2,705.6 L316.4,705.6 L316.6,705.6 L316.8,705.6 L316.9,705.6 L317.1,705.6 L317.3,705.6 L317.5,705.6 L317.7,705.6 L317.9,705.6 L318.0,705.6 L318.2,705.6 L318.4,705.6 L318.6,705.6 L318.8,705.6 L319.0,705.6 L319.1,705.6 L319.3,705.6 L319.5,705.6 L319.7,705.6 L319.9,705.6 L320.0,705.6 L320.2,705.6 L320.4,705.6 L320.6,705.6 L320.8,705.6 L321.0,705.6 L321.1,705.6 L321.3,705.6 L321.5,705.6 L321.7,705.6 L321.9,705.6 L322.1,705.6 L322.2,705.6 L322.4,705.6 L322.6,705.6 L322.8,705.6 L323.0,705.6 L323.1,705.6 L323.3,705.6 L323.5,705.6 L323.7,705.6 L323.9,705.6 L324.1,705.6 L324.2,705.6 L324.4,705.6 L324.6,705.6 L324.8,705.6 L325.0,705.6 L325.2,705.6 L325.3,705.6 L325.5,705.6 L325.7,705.6 L325.9,705.6 L326.1,705.6 L326.2,705.6 L326.4,705.6 L326.6,705.6 L326.8,705.6 L327.0,705.6 L327.2,705.6 L327.3,705.6 L327.5,705.6 L327.7,705.6 L327.9,705.6 L328.1,705.6 L328.3,705.6 L328.4,705.6 L328.6,705.6 L328.8,705.6 L329.0,705.6 L329.2,705.6 L329.3,705.6 L329.5,705.6 L329.7,705.6 L329.9,705.6 L330.1,705.6 L330.3,705.6 L330.4,705.6 L330.6,705.6 L330.8,705.6 L331.0,705.6 L331.2,705.6 L331.4,705.6 L331.5,705.6 L331.7,705.6 L331.9,705.6 L332.1,705.6 L332.3,705.6 L332.4,705.6 L332.6,705.6 L332.8,705.6 L333.0,705.6 L333.2,705.6 L333.4,705.6 L333.5,705.6 L333.7,705.6 L333.9,705.6 L334.1,705.6 L334.3,705.6 L334.5,705.6 L334.6,705.6 L334.8,705.6 L335.0,705.6 L335.2,705.6 L335.4,705.6 L335.5,705.6 L335.7,705.6 L335.9,705.6 L336.1,705.6 L336.3,705.6 L336.5,705.6 L336.6,705.6 L336.8,705.6 L337.0,705.6 L337.2,705.6 L337.4,705.6 L337.6,705.6 L337.7,705.6 L337.9,705.6 L338.1,705.6 L338.3,705.6 L338.5,705.6 L338.6,705.6 L338.8,705.6 L339.0,705.6 L339.2,705.6 L339.4,705.6 L339.6,705.6 L339.7,705.6 L339.9,705.6 L340.1,705.6 L340.3,705.6 L340.5,705.6 L340.6,705.6 L340.8,705.6 L341.0,705.6 L341.2,705.6 L341.4,705.6 L341.6,705.6 L341.7,705.6 L341.9,705.6 L342.1,705.6 L342.3,705.6 L342.5,705.6 L342.7,705.6 L342.8,705.6 L343.0,705.6 L343.2,705.6 L343.4,705.6 L343.6,705.6 L343.7,705.6 L343.9,705.6 L344.1,705.6 L344.3,705.6 L344.5,705.6 L344.7,705.6 L344.8,705.6 L345.0,705.6 L345.2,705.6 L345.4,705.6 L345.6,705.6 L345.8,705.6 L345.9,705.6 L346.1,705.6 L346.3,705.6 L346.5,705.6 L346.7,705.6 L346.8,705.6 L347.0,705.6 L347.2,705.6 L347.4,705.6 L347.6,705.6 L347.8,705.6 L347.9,705.6 L348.1,705.6 L348.3,705.6 L348.5,705.6 L348.7,705.6 L348.9,705.6 L349.0,705.6 L349.2,705.6 L349.4,705.6 L349.6,705.6 L349.8,705.6 L349.9,705.6 L350.1,705.6 L350.3,705.6 L350.5,705.6 L350.7,705.6 L350.9,705.6 L351.0,705.6 L351.2,705.6 L351.4,705.6 L351.6,705.6 L351.8,705.6 L352.0,705.6 L352.1,705.6 L352.3,705.6 L352.5,705.6 L352.7,705.6 L352.9,705.6 L353.0,705.6 L353.2,705.6 L353.4,705.6 L353.6,705.6 L353.8,705.6 L354.0,705.6 L354.1,705.6 L354.3,705.6 L354.5,705.6 L354.7,705.6 L354.9,705.6 L355.1,705.6 L355.2,705.6 L355.4,705.6 L355.6,705.6 L355.8,705.6 L356.0,705.6 L356.1,705.6 L356.3,705.6 L356.5,705.6 L356.7,705.6 L356.9,705.6 L357.1,705.6 L357.2,705.6 L357.4,705.6 L357.6,705.6 L357.8,705.6 L358.0,705.6 L358.2,705.6 L358.3,705.6 L358.5,705.6 L358.7,705.6 L358.9,705.6 L359.1,705.6 L359.2,705.6 L359.4,705.6 L359.6,705.6 L359.8,705.6 L360.0,705.6 L360.2,705.6 L360.3,705.6 L360.5,705.6 L360.7,705.6 L360.9,705.6 L361.1,705.6 L361.3,705.6 L361.4,705.6 L361.6,705.6 L361.8,705.6 L362.0,705.6 L362.2,705.6 L362.3,705.6 L362.5,705.6 L362.7,705.6 L362.9,705.6 L363.1,705.6 L363.3,705.6 L363.4,705.6 L363.6,705.6 L363.8,705.6 L364.0,705.6 L364.2,705.6 L364.4,705.6 L364.5,705.6 L364.7,705.6 L364.9,705.6 L365.1,705.6 L365.3,705.6 L365.4,705.6 L365.6,705.6 L365.8,705.6 L366.0,705.6 L366.2,705.6 L366.4,705.6 L366.5,705.6 L366.7,705.6 L366.9,705.6 L367.1,705.6 L367.3,705.6 L367.4,705.6 L367.6,705.6 L367.8,705.6 L368.0,705.6 L368.2,705.6 L368.4,705.6 L368.5,705.6 L368.7,705.6 L368.9,705.6 L369.1,705.6 L369.3,705.6 L369.5,705.6 L369.6,705.6 L369.8,705.6 L370.0,705.6 L370.2,705.6 L370.4,705.6 L370.5,705.6 L370.7,705.6 L370.9,705.6 L371.1,705.6 L371.3,705.6 L371.5,705.6 L371.6,705.6 L371.8,705.6 L372.0,705.6 L372.2,705.6 L372.4,705.6 L372.6,705.6 L372.7,705.6 L372.9,705.6 L373.1,705.6 L373.3,705.6 L373.5,705.6 L373.6,705.6 L373.8,705.6 L374.0,705.6 L374.2,705.6 L374.4,705.6 L374.6,705.6 L374.7,705.6 L374.9,705.6 L375.1,705.6 L375.3,705.6 L375.5,705.6 L375.7,705.6 L375.8,705.6 L376.0,705.6 L376.2,705.6 L376.4,705.6 L376.6,705.6 L376.7,705.6 L376.9,705.6 L377.1,705.6 L377.3,705.6 L377.5,705.6 L377.7,705.6 L377.8,705.6 L378.0,705.6 L378.2,705.6 L378.4,705.6 L378.6,705.6 L378.8,705.6 L378.9,705.6 L379.1,705.6 L379.3,705.6 L379.5,705.6 L379.7,705.6 L379.8,705.6 L380.0,705.6 L380.2,705.6 L380.4,705.6 L380.6,705.6 L380.8,705.6 L380.9,705.6 L381.1,705.6 L381.3,705.6 L381.5,705.6 L381.7,705.6 L381.9,705.6 L382.0,705.6 L382.2,705.6 L382.4,705.6 L382.6,705.6 L382.8,705.6 L382.9,705.6 L383.1,705.6 L383.3,705.6 L383.5,705.6 L383.7,705.6 L383.9,705.6 L384.0,705.6 L384.2,705.6 L384.4,705.6 L384.6,705.6 L384.8,705.6 L385.0,705.6 L385.1,705.6 L385.3,705.6 L385.5,705.6 L385.7,705.6 L385.9,705.6 L386.0,705.6 L386.2,705.6 L386.4,705.6 L386.6,705.6 L386.8,705.6 L387.0,705.6 L387.1,705.6 L387.3,705.6 L387.5,705.6 L387.7,705.6 L387.9,705.6 L388.1,705.6 L388.2,705.6 L388.4,705.6 L388.6,705.6 L388.8,705.6 L389.0,705.6 L389.1,705.6 L389.3,705.6 L389.5,705.6 L389.7,705.6 L389.9,705.6 L390.1,705.6 L390.2,705.6 L390.4,705.6 L390.6,705.6 L390.8,705.6 L391.0,705.6 L391.1,705.6 L391.3,705.6 L391.5,705.6 L391.7,705.6 L391.9,705.6 L392.1,705.6 L392.2,705.6 L392.4,705.6 L392.6,705.6 L392.8,705.6 L393.0,705.6 L393.2,705.6 L393.3,705.6 L393.5,705.6 L393.7,705.6 L393.9,705.6 L394.1,705.6 L394.2,705.6 L394.4,705.6 L394.6,705.6 L394.8,705.6 L395.0,705.6 L395.2,705.6 L395.3,705.6 L395.5,705.6 L395.7,705.6 L395.9,705.6 L396.1,705.6 L396.3,705.6 L396.4,705.6 L396.6,705.6 L396.8,705.6 L397.0,705.6 L397.2,705.6 L397.3,705.6 L397.5,705.6 L397.7,705.6 L397.9,705.6 L398.1,705.6 L398.3,705.6 L398.4,705.6 L398.6,705.6 L398.8,705.6 L399.0,705.6 L399.2,705.6 L399.4,705.6 L399.5,705.6 L399.7,705.6 L399.9,705.6 L400.1,705.6 L400.3,705.6 L400.4,705.6 L400.6,705.6 L400.8,705.6 L401.0,705.6 L401.2,705.6 L401.4,705.6 L401.5,705.6 L401.7,705.6 L401.9,705.6 L402.1,705.6 L402.3,705.6 L402.5,705.6 L402.6,705.6 L402.8,705.6 L403.0,705.6 L403.2,705.6 L403.4,705.6 L403.5,705.6 L403.7,705.6 L403.9,705.6 L404.1,705.6 L404.3,705.6 L404.5,705.6 L404.6,705.6 L404.8,705.6 L405.0,705.6 L405.2,705.6 L405.4,705.6 L405.6,705.6 L405.7,705.6 L405.9,705.6 L406.1,705.6 L406.3,705.6 L406.5,705.6 L406.6,705.6 L406.8,705.6 L407.0,705.6 L407.2,705.6 L407.4,705.6 L407.6,705.6 L407.7,705.6 L407.9,705.6 L408.1,705.6 L408.3,705.6 L408.5,705.6 L408.7,705.6 L408.8,705.6 L409.0,705.6 L409.2,705.6 L409.4,705.6 L409.6,705.6 L409.7,705.6 L409.9,705.6 L410.1,705.6 L410.3,705.6 L410.5,705.6 L410.7,705.6 L410.8,705.6 L411.0,705.6 L411.2,705.6 L411.4,705.6 L411.6,705.6 L411.8,705.6 L411.9,705.6 L412.1,705.6 L412.3,705.6 L412.5,705.6 L412.7,705.6 L412.8,705.6 L413.0,705.6 L413.2,705.6 L413.4,705.6 L413.6,705.6 L413.8,705.6 L413.9,705.6 L414.1,705.6 L414.3,705.6 L414.5,705.6 L414.7,705.6 L414.9,705.6 L415.0,705.6 L415.2,705.6 L415.4,705.6 L415.6,705.6 L415.8,705.6 L415.9,705.6 L416.1,705.6 L416.3,705.6 L416.5,705.6 L416.7,705.6 L416.9,705.6 L417.0,705.6 L417.2,705.6 L417.4,705.6 L417.6,705.6 L417.8,705.6 L417.9,705.6 L418.1,705.6 L418.3,705.6 L418.5,705.6 L418.7,705.6 L418.9,705.6 L419.0,705.6 L419.2,705.6 L419.4,705.6 L419.6,705.6 L419.8,705.6 L420.0,705.6 L420.1,705.6 L420.3,705.6 L420.5,705.6 L420.7,705.6 L420.9,705.6 L421.0,705.6 L421.2,705.6 L421.4,705.6 L421.6,705.6 L421.8,705.6 L422.0,705.6 L422.1,705.6 L422.3,705.6 L422.5,705.6 L422.7,705.6 L422.9,705.6 L423.1,705.6 L423.2,705.6 L423.4,705.6 L423.6,705.6 L423.8,705.6 L424.0,705.6 L424.1,705.6 L424.3,705.6 L424.5,705.6 L424.7,705.6 L424.9,705.6 L425.1,705.6 L425.2,705.6 L425.4,705.6 L425.6,705.6 L425.8,705.6 L426.0,705.6 L426.2,705.6 L426.3,705.6 L426.5,705.6 L426.7,705.6 L426.9,705.6 L427.1,705.6 L427.2,705.6 L427.4,705.6 L427.6,705.6 L427.8,705.6 L428.0,705.6 L428.2,705.6 L428.3,705.6 L428.5,705.6 L428.7,705.6 L428.9,705.6 L429.1,705.6 L429.3,705.6 L429.4,705.6 L429.6,705.6 L429.8,705.6 L430.0,705.6 L430.2,705.6 L430.3,705.6 L430.5,705.6 L430.7,705.6 L430.9,705.6 L431.1,705.6 L431.3,705.6 L431.4,705.6 L431.6,705.6 L431.8,705.6 L432.0,705.6 L432.2,705.6 L432.4,705.6 L432.5,705.6 L432.7,705.6 L432.9,705.6 L433.1,705.6 L433.3,705.6 L433.4,705.6 L433.6,705.6 L433.8,705.6 L434.0,705.6 L434.2,705.6 L434.4,705.6 L434.5,705.6 L434.7,705.6 L434.9,705.6 L435.1,705.6 L435.3,705.6 L435.5,705.6 L435.6,705.6 L435.8,705.6 L436.0,705.6 L436.2,705.6 L436.4,705.6 L436.5,705.6 L436.7,705.6 L436.9,705.6 L437.1,705.6 L437.3,705.6 L437.5,705.6 L437.6,705.6 L437.8,705.6 L438.0,705.6 L438.2,705.6 L438.4,705.6 L438.6,705.6 L438.7,705.6 L438.9,705.6 L439.1,705.6 L439.3,705.6 L439.5,705.6 L439.6,705.6 L439.8,705.6 L440.0,705.6 L440.2,705.6 L440.4,705.6 L440.6,705.6 L440.7,705.6 L440.9,705.6 L441.1,705.6 L441.3,705.6 L441.5,705.6 L441.7,705.6 L441.8,705.6 L442.0,705.6 L442.2,705.6 L442.4,705.6 L442.6,705.6 L442.7,705.6 L442.9,705.6 L443.1,705.6 L443.3,705.6 L443.5,705.6 L443.7,705.6 L443.8,705.6 L444.0,705.6 L444.2,705.6 L444.4,705.6 L444.6,705.6 L444.7,705.6 L444.9,705.6 L445.1,705.6 L445.3,705.6 L445.5,705.6 L445.7,705.6 L445.8,705.6 L446.0,705.6 L446.2,705.6 L446.4,705.6 L446.6,705.6 L446.8,705.6 L446.9,705.6 L447.1,705.6 L447.3,705.6 L447.5,705.6 L447.7,705.6 L447.8,705.6 L448.0,705.6 L448.2,705.6 L448.4,705.6 L448.6,705.6 L448.8,705.6 L448.9,705.6 L449.1,705.6 L449.3,705.6 L449.5,705.6 L449.7,705.6 L449.9,705.6 L450.0,705.6 L450.2,705.6 L450.4,705.6 L450.6,705.6 L450.8,705.6 L450.9,705.6 L451.1,705.6 L451.3,705.6 L451.5,705.6 L451.7,705.6 L451.9,705.6 L452.0,705.6 L452.2,705.6 L452.4,705.6 L452.6,705.6 L452.8,705.6 L453.0,705.6 L453.1,705.6 L453.3,705.6 L453.5,705.6 L453.7,705.6 L453.9,705.6 L454.0,705.6 L454.2,705.6 L454.4,705.6 L454.6,705.6 L454.8,705.6 L455.0,705.6 L455.1,705.6 L455.3,705.6 L455.5,705.6 L455.7,705.6 L455.9,705.6 L456.1,705.6 L456.2,705.6 L456.4,705.6 L456.6,705.6 L456.8,705.6 L457.0,705.6 L457.1,705.6 L457.3,705.6 L457.5,705.6 L457.7,705.6 L457.9,705.6 L458.1,705.6 L458.2,705.6 L458.4,705.6 L458.6,705.6 L458.8,705.6 L459.0,705.6 L459.2,705.6 L459.3,705.6 L459.5,705.6 L459.7,705.6 L459.9,705.6 L460.1,705.6 L460.2,705.6 L460.4,705.6 L460.6,705.6 L460.8,705.6 L461.0,705.6 L461.2,705.6 L461.3,705.6 L461.5,705.6 L461.7,705.6 L461.9,705.6 L462.1,705.6 L462.3,705.6 L462.4,705.6 L462.6,705.6 L462.8,705.6 L463.0,705.6 L463.2,705.6 L463.3,705.6 L463.5,705.6 L463.7,705.6 L463.9,705.6 L464.1,705.6 L464.3,705.6 L464.4,705.6 L464.6,705.6 L464.8,705.6 L465.0,705.6 L465.2,705.6 L465.4,705.6 L465.5,705.6 L465.7,705.6 L465.9,705.6 L466.1,705.6 L466.3,705.6 L466.4,705.6 L466.6,705.6 L466.8,705.6 L467.0,705.6 L467.2,705.6 L467.4,705.6 L467.5,705.6 L467.7,705.6 L467.9,705.6 L468.1,705.6 L468.3,705.6 L468.4,705.6 L468.6,705.6 L468.8,705.6 L469.0,705.6 L469.2,705.6 L469.4,705.6 L469.5,705.6 L469.7,705.6 L469.9,705.6 L470.1,705.6 L470.3,705.6 L470.5,705.6 L470.6,705.6 L470.8,705.6 L471.0,705.6 L471.2,705.6 L471.4,705.6 L471.5,705.6 L471.7,705.6 L471.9,705.6 L472.1,705.6 L472.3,705.6 L472.5,705.6 L472.6,705.6 L472.8,705.6 L473.0,705.6 L473.2,705.6 L473.4,705.6 L473.6,705.6 L473.7,705.6 L473.9,705.6 L474.1,705.6 L474.3,705.6 L474.5,705.6 L474.6,705.6 L474.8,705.6 L475.0,705.6 L475.2,705.6 L475.4,705.6 L475.6,705.6 L475.7,705.6 L475.9,705.6 L476.1,705.6 L476.3,705.6 L476.5,705.6 L476.7,705.6 L476.8,705.6 L477.0,705.6 L477.2,705.6 L477.4,705.6 L477.6,705.6 L477.7,705.6 L477.9,705.6 L478.1,705.6 L478.3,705.6 L478.5,705.6 L478.7,705.6 L478.8,705.6 L479.0,705.6 L479.2,705.6 L479.4,705.6 L479.6,705.6 L479.8,705.6 L479.9,705.6 L480.1,705.6 L480.3,705.6 L480.5,705.6 L480.7,705.6 L480.8,705.6 L481.0,705.6 L481.2,705.6 L481.4,705.6 L481.6,705.6 L481.8,705.6 L481.9,705.6 L482.1,705.6 L482.3,705.6 L482.5,705.6 L482.7,705.6 L482.9,705.6 L483.0,705.6 L483.2,705.6 L483.4,705.6 L483.6,705.6 L483.8,705.6 L483.9,705.6 L484.1,705.6 L484.3,705.6 L484.5,705.6 L484.7,705.6 L484.9,705.6 L485.0,705.6 L485.2,705.6 L485.4,705.6 L485.6,705.6 L485.8,705.6 L486.0,705.6 L486.1,705.6 L486.3,705.6 L486.5,705.6 L486.7,705.6 L486.9,705.6 L487.0,705.6 L487.2,705.6 L487.4,705.6 L487.6,705.6 L487.8,705.6 L488.0,705.6 L488.1,705.6 L488.3,705.6 L488.5,705.6 L488.7,705.6 L488.9,705.6 L489.1,705.6 L489.2,705.6 L489.4,705.6 L489.6,705.6 L489.8,705.6 L490.0,705.6 L490.1,705.6 L490.3,705.6 L490.5,705.6 L490.7,705.6 L490.9,705.6 L491.1,705.6 L491.2,705.6 L491.4,705.6 L491.6,705.6 L491.8,705.6 L492.0,705.6 L492.2,705.6 L492.3,705.6 L492.5,705.6 L492.7,705.6 L492.9,705.6 L493.1,705.6 L493.2,705.6 L493.4,705.6 L493.6,705.6 L493.8,705.6 L494.0,705.6 L494.2,705.6 L494.3,705.6 L494.5,705.6 L494.7,705.6 L494.9,705.6 L495.1,705.6 L495.2,705.6 L495.4,705.6 L495.6,705.6 L495.8,705.6 L496.0,705.6 L496.2,705.6 L496.3,705.6 L496.5,705.6 L496.7,705.6 L496.9,705.6 L497.1,705.6 L497.3,705.6 L497.4,705.6 L497.6,705.6 L497.8,705.6 L498.0,705.6 L498.2,705.6 L498.3,705.6 L498.5,705.6 L498.7,705.6 L498.9,705.6 L499.1,705.6 L499.3,705.6 L499.4,705.6 L499.6,705.6 L499.8,705.6 L500.0,705.6 L500.2,705.6 L500.4,705.6 L500.5,705.6 L500.7,705.6 L500.9,705.6 L501.1,705.6 L501.3,705.6 L501.4,705.6 L501.6,705.6 L501.8,705.6 L502.0,705.6 L502.2,705.6 L502.4,705.6 L502.5,705.6 L502.7,705.6 L502.9,705.6 L503.1,705.6 L503.3,705.6 L503.5,705.6 L503.6,705.6 L503.8,705.6 L504.0,705.6 L504.2,705.6 L504.4,705.6 L504.5,705.6 L504.7,705.6 L504.9,705.6 L505.1,705.6 L505.3,705.6 L505.5,705.6 L505.6,705.6 L505.8,705.6 L506.0,705.6 L506.2,705.6 L506.4,705.6 L506.6,705.6 L506.7,705.6 L506.9,705.6 L507.1,705.6 L507.3,705.6 L507.5,705.6 L507.6,705.6 L507.8,705.6 L508.0,705.6 L508.2,705.6 L508.4,705.6 L508.6,705.6 L508.7,705.6 L508.9,705.6 L509.1,705.6 L509.3,705.6 L509.5,705.6 L509.7,705.6 L509.8,705.6 L510.0,705.6 L510.2,705.6 L510.4,705.6 L510.6,705.6 L510.7,705.6 L510.9,705.6 L511.1,705.6 L511.3,705.6 L511.5,705.6 L511.7,705.6 L511.8,705.6 L512.0,705.6 L512.2,705.6 L512.4,705.6 L512.6,705.6 L512.8,705.6 L512.9,705.6 L513.1,705.6 L513.3,705.6 L513.5,705.6 L513.7,705.6 L513.8,705.6 L514.0,705.6 L514.2,705.6 L514.4,705.6 L514.6,705.6 L514.8,705.6 L514.9,705.6 L515.1,705.6 L515.3,705.6 L515.5,705.6 L515.7,705.6 L515.9,705.6 L516.0,705.6 L516.2,705.6 L516.4,705.6 L516.6,705.6 L516.8,705.6 L516.9,705.6 L517.1,705.6 L517.3,705.6 L517.5,705.6 L517.7,705.6 L517.9,705.6 L518.0,705.6 L518.2,705.6 L518.4,705.6 L518.6,705.6 L518.8,705.6 L518.9,705.6 L519.1,705.6 L519.3,705.6 L519.5,705.6 L519.7,705.6 L519.9,705.6 L520.0,705.6 L520.2,705.6 L520.4,705.6 L520.6,705.6 L520.8,705.6 L521.0,705.6 L521.1,705.6 L521.3,705.6 L521.5,705.6 L521.7,705.6 L521.9,705.6 L522.0,705.6 L522.2,705.6 L522.4,705.6 L522.6,705.6 L522.8,705.6 L523.0,705.6 L523.1,705.6 L523.3,705.6 L523.5,705.6 L523.7,705.6 L523.9,705.6 L524.1,705.6 L524.2,705.6 L524.4,705.6 L524.6,705.6 L524.8,705.6 L525.0,705.6 L525.1,705.6 L525.3,705.6 L525.5,705.6 L525.7,705.6 L525.9,705.6 L526.1,705.6 L526.2,705.6 L526.4,705.6 L526.6,705.6 L526.8,705.6 L527.0,705.6 L527.2,705.6 L527.3,705.6 L527.5,705.6 L527.7,705.6 L527.9,705.6 L528.1,705.6 L528.2,705.6 L528.4,705.6 L528.6,705.6 L528.8,705.6 L529.0,705.6 L529.2,705.6 L529.3,705.6 L529.5,705.6 L529.7,705.6 L529.9,705.6 L530.1,705.6 L530.3,705.6 L530.4,705.6 L530.6,705.6 L530.8,705.6 L531.0,705.6 L531.2,705.6 L531.3,705.6 L531.5,705.6 L531.7,705.6 L531.9,705.6 L532.1,705.6 L532.3,705.6 L532.4,705.6 L532.6,705.6 L532.8,705.6 L533.0,705.6 L533.2,705.6 L533.4,705.6 L533.5,705.6 L533.7,705.6 L533.9,705.6 L534.1,705.6 L534.3,705.6 L534.4,705.6 L534.6,705.6 L534.8,705.6 L535.0,705.6 L535.2,705.6 L535.4,705.6 L535.5,705.6 L535.7,705.6 L535.9,705.6 L536.1,705.6 L536.3,705.6 L536.5,705.6 L536.6,705.6 L536.8,705.6 L537.0,705.6 L537.2,705.6 L537.4,705.6 L537.5,705.6 L537.7,705.6 L537.9,705.6 L538.1,705.6 L538.3,705.6 L538.5,705.6 L538.6,705.6 L538.8,705.6 L539.0,705.6 L539.2,705.6 L539.4,705.6 L539.6,705.6 L539.7,705.6 L539.9,705.6 L540.1,705.6 L540.3,705.6 L540.5,705.6 L540.6,705.6 L540.8,705.6 L541.0,705.6 L541.2,705.6 L541.4,705.6 L541.6,705.6 L541.7,705.6 L541.9,705.6 L542.1,705.6 L542.3,705.6 L542.5,705.6 L542.7,705.6 L542.8,705.6 L543.0,705.6 L543.2,705.6 L543.4,705.6 L543.6,705.6 L543.7,705.6 L543.9,705.6 L544.1,705.6 L544.3,705.6 L544.5,705.6 L544.7,705.6 L544.8,705.6 L545.0,705.6 L545.2,705.6 L545.4,705.6 L545.6,705.6 L545.7,705.6 L545.9,705.6 L546.1,705.6 L546.3,705.6 L546.5,705.6 L546.7,705.6 L546.8,705.6 L547.0,705.6 L547.2,705.6 L547.4,705.6 L547.6,705.6 L547.8,705.6 L547.9,705.6 L548.1,705.6 L548.3,705.6 L548.5,705.6 L548.7,705.6 L548.8,705.6 L549.0,705.6 L549.2,705.6 L549.4,705.6 L549.6,705.6 L549.8,705.6 L549.9,705.6 L550.1,705.6 L550.3,705.6 L550.5,705.6 L550.7,705.6 L550.9,705.6 L551.0,705.6 L551.2,705.6 L551.4,705.6 L551.6,705.6 L551.8,705.6 L551.9,705.6 L552.1,705.6 L552.3,705.6 L552.5,705.6 L552.7,705.6 L552.9,705.6 L553.0,705.6 L553.2,705.6 L553.4,705.6 L553.6,705.6 L553.8,705.6 L554.0,705.6 L554.1,705.6 L554.3,705.6 L554.5,705.6 L554.7,705.6 L554.9,705.6 L555.0,705.6 L555.2,705.6 L555.4,705.6 L555.6,705.6 L555.8,705.6 L556.0,705.6 L556.1,705.6 L556.3,705.6 L556.5,705.6 L556.7,705.6 L556.9,705.6 L557.1,705.6 L557.2,705.6 L557.4,705.6 L557.6,705.6 L557.8,705.6 L558.0,705.6 L558.1,705.6 L558.3,705.6 L558.5,705.6 L558.7,705.6 L558.9,705.6 L559.1,705.6 L559.2,705.6 L559.4,705.6 L559.6,705.6 L559.8,705.6 L560.0,705.6 L560.2,705.6 L560.3,705.6 L560.5,705.6 L560.7,705.6 L560.9,705.6 L561.1,705.6 L561.2,705.6 L561.4,705.6 L561.6,705.6 L561.8,705.6 L562.0,705.6 L562.2,705.6 L562.3,705.6 L562.5,705.6 L562.7,705.6 L562.9,705.6 L563.1,705.6 L563.3,705.6 L563.4,705.6 L563.6,705.6 L563.8,705.6 L564.0,705.6 L564.2,705.6 L564.3,705.6 L564.5,705.6 L564.7,705.6 L564.9,705.6 L565.1,705.6 L565.3,705.6 L565.4,705.6 L565.6,705.6 L565.8,705.6 L566.0,705.6 L566.2,705.6 L566.4,705.6 L566.5,705.6 L566.7,705.6 L566.9,705.6 L567.1,705.6 L567.3,705.6 L567.4,705.6 L567.6,705.6 L567.8,705.6 L568.0,705.6 L568.2,705.6 L568.4,705.6 L568.5,705.6 L568.7,705.6 L568.9,705.6 L569.1,705.6 L569.3,705.6 L569.4,705.6 L569.6,705.6 L569.8,705.6 L570.0,705.6 L570.2,705.6 L570.4,705.6 L570.5,705.6 L570.7,705.6 L570.9,705.6 L571.1,705.6 L571.3,705.6 L571.5,705.6 L571.6,705.6 L571.8,705.6 L572.0,705.6 L572.2,705.6 L572.4,705.6 L572.5,705.6 L572.7,705.6 L572.9,705.6 L573.1,705.6 L573.3,705.6 L573.5,705.6 L573.6,705.6 L573.8,705.6 L574.0,705.6 L574.2,705.6 L574.4,705.6 L574.6,705.6 L574.7,705.6 L574.9,705.6 L575.1,705.6 L575.3,705.6 L575.5,705.6 L575.6,705.6 L575.8,705.6 L576.0,705.6 L576.2,705.6 L576.4,705.6 L576.6,705.6 L576.7,705.6 L576.9,705.6 L577.1,705.6 L577.3,705.6 L577.5,705.6 L577.7,705.6 L577.8,705.6 L578.0,705.6 L578.2,705.6 L578.4,705.6 L578.6,705.6 L578.7,705.6 L578.9,705.6 L579.1,705.6 L579.3,705.6 L579.5,705.6 L579.7,705.6 L579.8,705.6 L580.0,705.6 L580.2,705.6 L580.4,705.6 L580.6,705.6 L580.8,705.6 L580.9,705.6 L581.1,705.6 L581.3,705.6 L581.5,705.6 L581.7,705.6 L581.8,705.6 L582.0,705.6 L582.2,705.6 L582.4,705.6 L582.6,705.6 L582.8,705.6 L582.9,705.6 L583.1,705.6 L583.3,705.6 L583.5,705.6 L583.7,705.6 L583.9,705.6 L584.0,705.6 L584.2,705.6 L584.4,705.6 L584.6,705.6 L584.8,705.6 L584.9,705.6 L585.1,705.6 L585.3,705.6 L585.5,705.6 L585.7,705.6 L585.9,705.6 L586.0,705.6 L586.2,705.6 L586.4,705.6 L586.6,705.6 L586.8,705.6 L587.0,705.6 L587.1,705.6 L587.3,705.6 L587.5,705.6 L587.7,705.6 L587.9,705.6 L588.0,705.6 L588.2,705.6 L588.4,705.6 L588.6,705.6 L588.8,705.6 L589.0,705.6 L589.1,705.6 L589.3,705.6 L589.5,705.6 L589.7,705.6 L589.9,705.6 L590.1,705.6 L590.2,705.6 L590.4,705.6 L590.6,705.6 L590.8,705.6 L591.0,705.6 L591.1,705.6 L591.3,705.6 L591.5,705.6 L591.7,705.6 L591.9,705.6 L592.1,705.6 L592.2,705.6 L592.4,705.6 L592.6,705.6 L592.8,705.6 L593.0,705.6 L593.2,705.6 L593.3,705.6 L593.5,705.6 L593.7,705.6 L593.9,705.6 L594.1,705.6 L594.2,705.6 L594.4,705.6 L594.6,705.6 L594.8,705.6 L595.0,705.6 L595.2,705.6 L595.3,705.6 L595.5,705.6 L595.7,705.6 L595.9,705.6 L596.1,705.6 L596.2,705.6 L596.4,705.6 L596.6,705.6 L596.8,705.6 L597.0,705.6 L597.2,705.6 L597.3,705.6 L597.5,705.6 L597.7,705.6 L597.9,705.6 L598.1,705.6 L598.3,705.6 L598.4,705.6 L598.6,705.6 L598.8,705.6 L599.0,705.6 L599.2,705.6 L599.3,705.6 L599.5,705.6 L599.7,705.6 L599.9,705.6 L600.1,705.6 L600.3,705.6 L600.4,705.6 L600.6,705.6 L600.8,705.6 L601.0,705.6 L601.2,705.6 L601.4,705.6 L601.5,705.6 L601.7,705.6 L601.9,705.6 L602.1,705.6 L602.3,705.6 L602.4,705.6 L602.6,705.6 L602.8,705.6 L603.0,705.6 L603.2,705.6 L603.4,705.6 L603.5,705.6 L603.7,705.6 L603.9,705.6 L604.1,705.6 L604.3,705.6 L604.5,705.6 L604.6,705.6 L604.8,705.6 L605.0,705.6 L605.2,705.6 L605.4,705.6 L605.5,705.6 L605.7,705.6 L605.9,705.6 L606.1,705.6 L606.3,705.6 L606.5,705.6 L606.6,705.6 L606.8,705.6 L607.0,705.6 L607.2,705.6 L607.4,705.6 L607.6,705.6 L607.7,705.6 L607.9,705.6 L608.1,705.6 L608.3,705.6 L608.5,705.6 L608.6,705.6 L608.8,705.6 L609.0,705.6 L609.2,705.6 L609.4,705.6 L609.6,705.6 L609.7,705.6 L609.9,705.6 L610.1,705.6 L610.3,705.6 L610.5,705.6 L610.7,705.6 L610.8,705.6 L611.0,705.6 L611.2,705.6 L611.4,705.6 L611.6,705.6 L611.7,705.6 L611.9,705.6 L612.1,705.6 L612.3,705.6 L612.5,705.6 L612.7,705.6 L612.8,705.6 L613.0,705.6 L613.2,705.6 L613.4,705.6 L613.6,705.6 L613.8,705.6 L613.9,705.6 L614.1,705.6 L614.3,705.6 L614.5,705.6 L614.7,705.6 L614.8,705.6 L615.0,705.6 L615.2,705.6 L615.4,705.6 L615.6,705.6 L615.8,705.6 L615.9,705.6 L616.1,705.6 L616.3,705.6 L616.5,705.6 L616.7,705.6 L616.9,705.6 L617.0,705.6 L617.2,705.6 L617.4,705.6 L617.6,705.6 L617.8,705.6 L617.9,705.6 L618.1,705.6 L618.3,705.6 L618.5,705.6 L618.7,705.6 L618.9,705.6 L619.0,705.6 L619.2,705.6 L619.4,705.6 L619.6,705.6 L619.8,705.6 L620.0,705.6" stroke="#ff0000" stroke-width="2.6" fill="none"/>
<rect x="73.2" y="526.5" width="546.5999999999999" height="188.10000000000002" stroke="#000" stroke-width="2.2" fill="none"/>
<path d="M73.2,714.6 V720.6 M133.9,714.6 V720.6 M194.7,714.6 V720.6 M255.4,714.6 V720.6 M316.2,714.6 V720.6 M376.9,714.6 V720.6 M437.7,714.6 V720.6 M498.4,714.6 V720.6 M559.2,714.6 V720.6 M620.0,714.6 V720.6 M103.6,714.6 V718.6 M164.3,714.6 V718.6 M225.1,714.6 V718.6 M285.8,714.6 V718.6 M346.6,714.6 V718.6 M407.3,714.6 V718.6 M468.1,714.6 V718.6 M528.8,714.6 V718.6 M589.6,714.6 V718.6 M73.2,705.6 H66.7 M73.2,660.9 H66.7 M73.2,616.2 H66.7 M73.2,571.6 H66.7 M73.2,526.9 H66.7 M73.2,683.3 H69.2 M73.2,638.6 H69.2 M73.2,593.9 H69.2 M73.2,549.2 H69.2" stroke="#000" stroke-width="2" fill="none"/>
<text transform="translate(69.5,740) scale(0.96,1)" style="font-size:16.9px" text-anchor="middle">5</text>
<text transform="translate(132.2,740) scale(0.96,1)" style="font-size:16.9px" text-anchor="middle">10</text>
<text transform="translate(193.0,740) scale(0.96,1)" style="font-size:16.9px" text-anchor="middle">15</text>
<text transform="translate(253.8,740) scale(0.96,1)" style="font-size:16.9px" text-anchor="middle">20</text>
<text transform="translate(314.5,740) scale(0.96,1)" style="font-size:16.9px" text-anchor="middle">25</text>
<text transform="translate(375.2,740) scale(0.96,1)" style="font-size:16.9px" text-anchor="middle">30</text>
<text transform="translate(436.0,740) scale(0.96,1)" style="font-size:16.9px" text-anchor="middle">35</text>
<text transform="translate(496.8,740) scale(0.96,1)" style="font-size:16.9px" text-anchor="middle">40</text>
<text transform="translate(557.5,740) scale(0.96,1)" style="font-size:16.9px" text-anchor="middle">45</text>
<text transform="translate(618.2,740) scale(0.96,1)" style="font-size:16.9px" text-anchor="middle">50</text>
<text transform="translate(63.5,666.9) scale(0.93,1)" style="font-size:16.9px" text-anchor="end">5000</text>
<text transform="translate(63.5,622.2) scale(0.93,1)" style="font-size:16.9px" text-anchor="end">10000</text>
<text transform="translate(63.5,577.6) scale(0.93,1)" style="font-size:16.9px" text-anchor="end">15000</text>
<text transform="translate(63.5,532.9) scale(0.93,1)" style="font-size:16.9px" text-anchor="end">20000</text>
<text transform="translate(46.6,711.6) scale(0.93,1)" style="font-size:16.9px" text-anchor="middle">0</text>
<text transform="translate(16.6,620.3) rotate(-90) scale(0.935,1)" style="font-size:17.2px" text-anchor="middle">Intensity</text>
<text x="311" y="762" style="font-size:17px">2</text>
<text x="322.6" y="762" style="font-size:16px;font-family:'Liberation Serif',serif;fill:#444">θ</text>
<text transform="translate(333.5,762) scale(0.96,1)" style="font-size:16.8px">,degree</text>
<path d="M359.5,637.8 H388.1" stroke="#ff0000" stroke-width="1.8"/>
<path d="M359.5,651.7 H388.1" stroke="#000" stroke-width="2.4"/>
<text transform="translate(392.2,640.8) scale(1.13,1)" style="font-size:14px">perylene film</text>
<text x="390.6" y="656.3" style="font-size:19px;font-family:'Liberation Serif',serif;font-style:italic;fill:#222">α</text>
<text transform="translate(401.6,655.3) scale(1.13,1)" style="font-size:14px">-perylene crystal for reference</text>
<path d="M8.9,490 A13,13 0 0 0 8.9,513" stroke="#000" stroke-width="1.4" fill="none"/>
<path d="M29.9,490 A13,13 0 0 1 29.9,513" stroke="#000" stroke-width="1.4" fill="none"/>
<text x="12.3" y="509" style="font-size:26px">b</text>
</svg></body></html>
